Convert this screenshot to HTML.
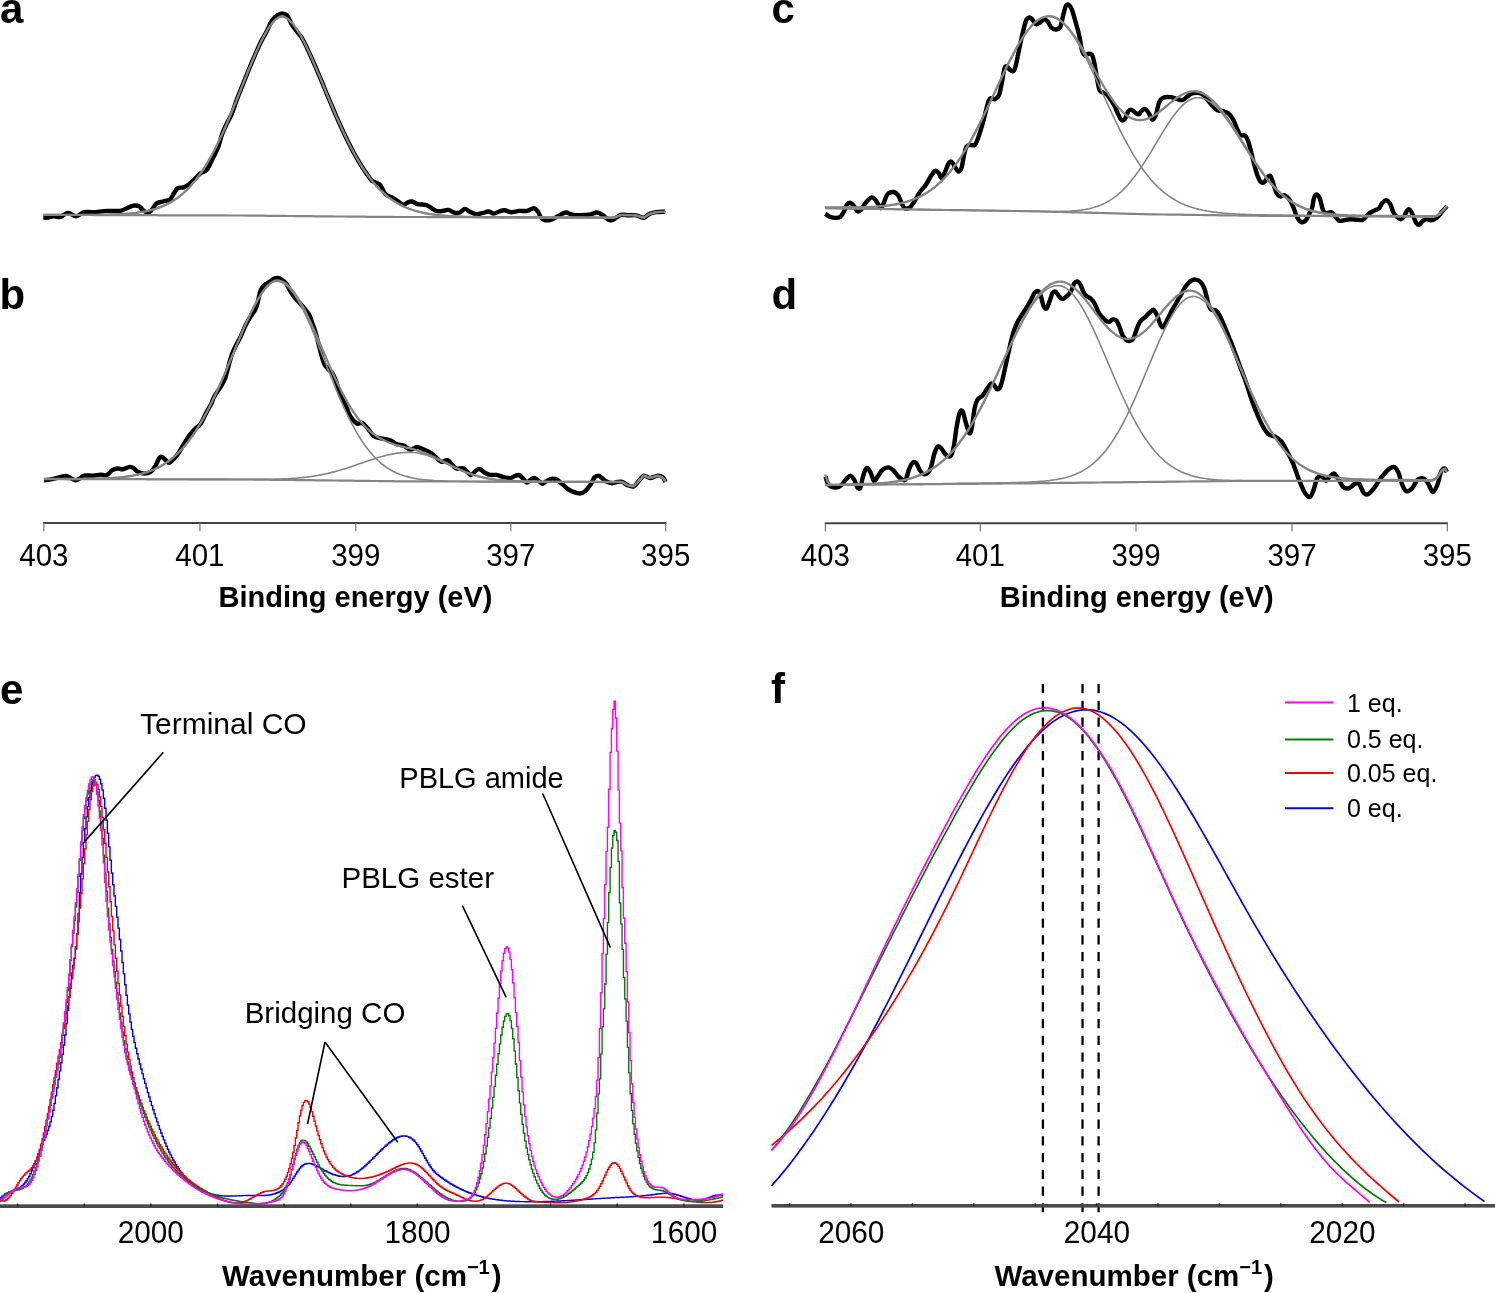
<!DOCTYPE html>
<html><head><meta charset="utf-8"><style>
html,body{margin:0;padding:0;background:#fff;overflow:hidden;}
svg{display:block;will-change:transform;}
text{font-family:"Liberation Sans",sans-serif;}
</style></head><body>
<svg width="1495" height="1293" viewBox="0 0 1495 1293"><path d="M43.3,217.6 C44.1,217.6 46.3,217.8 48.0,217.6 C49.7,217.4 51.4,216.4 53.4,216.3 C55.4,216.2 57.7,217.5 60.1,216.9 C62.5,216.3 65.4,213.0 68.1,212.9 C70.8,212.8 73.4,216.4 76.1,216.3 C78.8,216.2 81.2,212.9 84.1,212.2 C87.0,211.5 89.7,212.4 93.5,212.2 C97.3,212.0 102.4,211.1 106.9,210.9 C111.4,210.7 117.0,211.4 120.3,210.9 C123.6,210.4 124.8,209.1 127.0,208.2 C129.2,207.3 131.6,205.9 133.6,205.6 C135.6,205.3 137.4,205.4 139.0,206.2 C140.6,207.0 141.7,209.2 143.0,210.2 C144.3,211.2 145.7,212.1 147.0,212.2 C148.3,212.3 149.4,212.3 151.0,210.9 C152.6,209.5 154.4,205.1 156.4,203.5 C158.4,201.9 160.9,202.2 163.1,201.5 C165.3,200.8 168.0,200.8 169.8,199.5 C171.6,198.2 172.5,195.4 173.8,193.5 C175.1,191.6 176.2,189.2 177.8,188.2 C179.4,187.2 181.5,187.9 183.1,187.5 C184.7,187.1 185.4,186.7 187.2,185.5 C189.0,184.3 191.6,182.1 193.8,180.1 C196.0,178.1 198.3,175.2 200.5,173.4 C202.7,171.6 205.2,171.9 207.2,169.4 C209.2,166.9 210.8,162.3 212.6,158.7 C214.4,155.1 216.3,152.0 217.9,148.0 C219.5,144.0 220.5,138.6 222.0,134.5 C223.5,130.3 225.3,126.8 227.0,123.2 C228.7,119.7 230.3,117.4 232.0,113.4 C233.7,109.4 235.3,103.6 237.0,99.1 C238.7,94.6 240.3,90.7 242.0,86.6 C243.7,82.4 245.3,78.2 247.0,74.1 C248.7,70.0 250.3,65.9 252.0,61.9 C253.7,58.0 255.3,54.1 257.0,50.4 C258.7,46.7 260.3,43.1 262.0,39.9 C263.7,36.6 265.3,34.0 267.0,30.8 C268.7,27.5 270.3,23.0 272.0,20.5 C273.7,17.9 275.3,16.6 277.0,15.5 C278.7,14.3 280.3,13.4 282.0,13.4 C283.7,13.4 285.3,13.4 287.0,15.3 C288.7,17.3 290.3,22.2 292.0,24.9 C293.7,27.7 295.3,29.5 297.0,31.7 C298.7,33.9 300.3,35.4 302.0,38.1 C303.7,40.8 305.3,44.5 307.0,47.9 C308.7,51.4 310.3,55.0 312.0,58.8 C313.7,62.5 315.3,66.4 317.0,70.3 C318.7,74.2 320.3,78.2 322.0,82.2 C323.7,86.2 325.3,90.3 327.0,94.3 C328.7,98.3 330.3,102.3 332.0,106.2 C333.7,110.2 335.3,114.1 337.0,117.9 C338.7,121.7 340.3,125.4 342.0,129.0 C343.7,132.6 345.3,136.2 347.0,139.6 C348.7,143.0 350.3,146.2 352.0,149.4 C353.7,152.5 355.3,155.6 357.0,158.4 C358.7,161.3 360.3,164.1 362.0,166.7 C363.7,169.3 365.3,171.8 367.0,174.1 C368.7,176.5 369.8,178.9 372.0,180.7 C374.2,182.5 377.8,182.6 380.0,184.8 C382.2,187.0 383.4,192.0 385.4,194.1 C387.4,196.2 390.0,196.4 392.0,197.5 C394.0,198.6 395.5,199.6 397.4,200.8 C399.3,202.0 401.6,204.6 403.4,204.8 C405.2,205.0 406.7,202.8 408.1,202.2 C409.6,201.6 410.5,201.2 412.1,201.5 C413.7,201.8 415.3,203.6 417.5,204.2 C419.7,204.8 423.3,204.2 425.5,204.8 C427.7,205.4 429.0,206.5 430.8,207.5 C432.6,208.5 434.2,210.3 436.2,210.9 C438.2,211.5 440.9,211.1 442.9,210.9 C444.9,210.7 446.2,209.6 448.2,209.9 C450.2,210.2 452.9,212.5 454.9,212.9 C456.9,213.3 458.6,212.9 460.3,212.2 C462.0,211.5 463.4,209.0 465.0,208.9 C466.6,208.8 467.7,210.6 469.6,211.5 C471.5,212.4 474.1,214.0 476.3,214.2 C478.5,214.4 481.0,213.3 483.0,212.9 C485.0,212.5 486.6,211.4 488.4,211.5 C490.2,211.6 491.9,213.5 493.7,213.5 C495.5,213.5 497.3,212.1 499.1,211.5 C500.9,210.9 502.4,210.1 504.4,210.2 C506.4,210.3 508.7,212.1 511.1,212.2 C513.6,212.3 516.4,211.1 519.1,210.9 C521.8,210.7 524.8,211.4 527.2,210.9 C529.7,210.4 532.0,208.1 533.8,208.2 C535.6,208.3 536.8,210.1 537.9,211.5 C539.0,212.9 539.4,215.5 540.5,216.9 C541.6,218.3 542.7,219.8 544.5,220.2 C546.3,220.6 549.0,220.3 551.2,219.6 C553.4,218.9 555.5,217.4 557.9,216.2 C560.3,215.0 563.5,212.8 565.6,212.5 C567.7,212.2 568.7,213.6 570.4,214.1 C572.1,214.6 573.7,215.2 576.0,215.3 C578.3,215.4 581.7,215.0 584.1,214.9 C586.5,214.8 588.4,214.9 590.5,214.5 C592.6,214.1 594.9,212.4 596.9,212.5 C598.9,212.6 600.6,213.7 602.5,214.9 C604.4,216.1 606.6,218.8 608.2,219.7 C609.8,220.6 610.9,220.4 612.2,220.1 C613.5,219.8 614.7,218.6 616.2,217.7 C617.7,216.8 619.0,215.3 621.0,214.9 C623.0,214.5 625.7,215.2 628.2,215.3 C630.7,215.4 633.7,214.9 636.2,215.3 C638.8,215.7 641.2,218.0 643.5,217.7 C645.8,217.4 647.8,214.6 649.9,213.7 C652.0,212.8 653.8,212.4 656.3,212.1 C658.8,211.8 663.6,211.8 665.1,211.7" fill="none" stroke="#000" stroke-width="4.4" stroke-linejoin="round" stroke-linecap="butt"/>
<path d="M43.5,214.9 L47.5,214.9 L51.5,214.9 L55.5,214.9 L59.5,214.9 L63.5,215.0 L67.5,215.0 L71.5,215.0 L75.5,215.0 L79.5,215.0 L83.5,215.0 L87.5,215.0 L91.5,215.0 L95.5,215.1 L99.5,215.1 L103.5,215.1 L107.5,215.1 L111.5,215.1 L115.5,215.1 L119.5,215.1 L123.5,215.1 L127.5,215.2 L131.5,215.2 L135.5,215.2 L139.5,215.2 L143.5,215.2 L147.5,215.2 L151.5,215.2 L155.5,215.2 L159.5,215.3 L163.5,215.3 L167.5,215.3 L171.5,215.3 L175.5,215.3 L179.5,215.3 L183.5,215.3 L187.5,215.3 L191.5,215.4 L195.5,215.4 L199.5,215.4 L203.5,215.4 L207.5,215.4 L211.5,215.4 L215.5,215.4 L219.5,215.4 L223.5,215.4 L227.5,215.5 L231.5,215.5 L235.5,215.5 L239.5,215.5 L243.5,215.5 L247.5,215.6 L251.5,215.6 L255.5,215.7 L259.5,215.7 L263.5,215.7 L267.5,215.8 L271.5,215.8 L275.5,215.9 L279.5,215.9 L283.5,215.9 L287.5,216.0 L291.5,216.0 L295.5,216.1 L299.5,216.1 L303.5,216.1 L307.5,216.2 L311.5,216.2 L315.5,216.3 L319.5,216.3 L323.5,216.3 L327.5,216.4 L331.5,216.4 L335.5,216.5 L339.5,216.5 L343.5,216.5 L347.5,216.6 L351.5,216.6 L355.5,216.7 L359.5,216.7 L363.5,216.7 L367.5,216.8 L371.5,216.8 L375.5,216.9 L379.5,216.9 L383.5,216.9 L387.5,216.9 L391.5,216.9 L395.5,217.0 L399.5,217.0 L403.5,217.0 L407.5,217.0 L411.5,217.0 L415.5,217.0 L419.5,217.0 L423.5,217.0 L427.5,217.1 L431.5,217.1 L435.5,217.1 L439.5,217.1 L443.5,217.1 L447.5,217.1 L451.5,217.1 L455.5,217.2 L459.5,217.2 L463.5,217.2 L467.5,217.2 L471.5,217.2 L475.5,217.2 L479.5,217.2 L483.5,217.3 L487.5,217.3 L491.5,217.3 L495.5,217.3 L499.5,217.3 L503.5,217.3 L507.5,217.3 L511.5,217.3 L515.5,217.4 L519.5,217.4 L523.5,217.4 L527.5,217.4 L531.5,217.4 L535.5,217.4 L539.5,217.4 L543.5,217.5 L547.5,217.5 L551.5,217.5 L555.5,217.5 L559.5,217.5 L563.5,217.5 L567.5,217.5 L571.5,217.6 L575.5,217.6 L579.5,217.6 L583.5,217.6 L587.5,217.6 L591.5,217.6 L595.5,217.6 L599.5,217.7 L603.5,217.7 L607.5,217.7 L611.5,217.7 L615.5,217.1 L619.5,215.5 L623.5,215.0 L627.5,215.1 L631.5,215.2 L635.5,215.3 L639.5,216.4 L643.5,217.7 L647.5,215.2 L651.5,213.3 L655.5,212.3 L659.5,212.0 L663.5,211.8 L665.5,211.7" fill="none" stroke="#858585" stroke-width="2.2"/>
<path d="M43.5,214.9 L45.5,214.9 L47.5,214.9 L49.5,214.9 L51.5,214.9 L53.5,214.9 L55.5,214.9 L57.5,214.9 L59.5,214.9 L61.5,214.9 L63.5,214.9 L65.5,214.9 L67.5,214.9 L69.5,214.9 L71.5,214.9 L73.5,214.9 L75.5,214.9 L77.5,214.9 L79.5,214.9 L81.5,214.9 L83.5,214.9 L85.5,214.9 L87.5,214.9 L89.5,214.9 L91.5,214.9 L93.5,214.9 L95.5,214.9 L97.5,214.8 L99.5,214.8 L101.5,214.8 L103.5,214.7 L105.5,214.7 L107.5,214.6 L109.5,214.6 L111.5,214.5 L113.5,214.5 L115.5,214.4 L117.5,214.3 L119.5,214.2 L121.5,214.1 L123.5,214.0 L125.5,213.8 L127.5,213.7 L129.5,213.5 L131.5,213.3 L133.5,213.1 L135.5,212.9 L137.5,212.6 L139.5,212.3 L141.5,212.0 L143.5,211.7 L145.5,211.3 L147.5,210.9 L149.5,210.4 L151.5,209.9 L153.5,209.4 L155.5,208.8 L157.5,208.1 L159.5,207.4 L161.5,206.6 L163.5,205.8 L165.5,204.9 L167.5,203.9 L169.5,202.9 L171.5,201.8 L173.5,200.5 L175.5,199.2 L177.5,197.8 L179.5,196.3 L181.5,194.7 L183.5,193.0 L185.5,191.2 L187.5,189.2 L189.5,187.2 L191.5,185.0 L193.5,182.6 L195.5,180.2 L197.5,177.6 L199.5,174.9 L201.5,172.0 L203.5,169.0 L205.5,165.8 L207.5,162.6 L209.5,159.1 L211.5,155.5 L213.5,151.8 L215.5,147.9 L217.5,143.9 L219.5,139.8 L221.5,135.6 L223.5,131.2 L225.5,126.7 L227.5,122.1 L229.5,117.4 L231.5,112.6 L233.5,107.7 L235.5,102.8 L237.5,97.8 L239.5,92.8 L241.5,87.8 L243.5,82.8 L245.5,77.8 L247.5,72.8 L249.5,67.9 L251.5,63.1 L253.5,58.4 L255.5,53.8 L257.5,49.3 L259.5,45.0 L261.5,40.9 L263.5,37.0 L265.5,33.3 L267.5,29.9 L269.5,26.9 L271.5,24.1 L273.5,21.7 L275.5,19.7 L277.5,18.1 L279.5,17.0 L281.5,16.4 L283.5,16.6 L285.5,17.4 L287.5,18.7 L289.5,20.4 L291.5,22.4 L293.5,24.8 L295.5,27.5 L297.5,30.5 L299.5,33.7 L301.5,37.2 L303.5,40.9 L305.5,44.9 L307.5,49.0 L309.5,53.2 L311.5,57.6 L313.5,62.2 L315.5,66.8 L317.5,71.5 L319.5,76.2 L321.5,81.0 L323.5,85.8 L325.5,90.7 L327.5,95.5 L329.5,100.3 L331.5,105.0 L333.5,109.8 L335.5,114.4 L337.5,119.0 L339.5,123.5 L341.5,127.9 L343.5,132.2 L345.5,136.5 L347.5,140.6 L349.5,144.6 L351.5,148.4 L353.5,152.2 L355.5,155.8 L357.5,159.3 L359.5,162.7 L361.5,165.9 L363.5,169.0 L365.5,172.0 L367.5,174.8 L369.5,177.5 L371.5,180.1 L373.5,182.6 L375.5,184.9 L377.5,187.1 L379.5,189.2 L381.5,191.2 L383.5,193.0 L385.5,194.8 L387.5,196.4 L389.5,198.0 L391.5,199.4 L393.5,200.8 L395.5,202.1 L397.5,203.3 L399.5,204.4 L401.5,205.4 L403.5,206.4 L405.5,207.3 L407.5,208.1 L409.5,208.9 L411.5,209.6 L413.5,210.2 L415.5,210.9 L417.5,211.4 L419.5,211.9 L421.5,212.4 L423.5,212.8 L425.5,213.3 L427.5,213.6 L429.5,214.0 L431.5,214.3 L433.5,214.5 L435.5,214.8 L437.5,215.0 L439.5,215.3 L441.5,215.5 L443.5,215.6 L445.5,215.8 L447.5,215.9 L449.5,216.1 L451.5,216.2 L453.5,216.3 L455.5,216.4 L457.5,216.5 L459.5,216.6 L461.5,216.6 L463.5,216.7 L465.5,216.8 L467.5,216.8 L469.5,216.9 L471.5,216.9 L473.5,217.0 L475.5,217.0 L477.5,217.0 L479.5,217.1 L481.5,217.1 L483.5,217.1 L485.5,217.1 L487.5,217.2 L489.5,217.2 L491.5,217.2 L493.5,217.2 L495.5,217.2 L497.5,217.2 L499.5,217.3 L501.5,217.3 L503.5,217.3 L505.5,217.3 L507.5,217.3 L509.5,217.3 L511.5,217.3 L513.5,217.3 L515.5,217.3 L517.5,217.4 L519.5,217.4 L521.5,217.4 L523.5,217.4 L525.5,217.4 L527.5,217.4 L529.5,217.4 L531.5,217.4 L533.5,217.4 L535.5,217.4 L537.5,217.4 L539.5,217.4 L541.5,217.5 L543.5,217.5 L545.5,217.5 L547.5,217.5 L549.5,217.5 L551.5,217.5 L553.5,217.5 L555.5,217.5 L557.5,217.5 L559.5,217.5 L561.5,217.5 L563.5,217.5 L565.5,217.5 L567.5,217.5 L569.5,217.5 L571.5,217.6 L573.5,217.6 L575.5,217.6 L577.5,217.6 L579.5,217.6 L581.5,217.6 L583.5,217.6 L585.5,217.6 L587.5,217.6 L589.5,217.6 L591.5,217.6 L593.5,217.6 L595.5,217.6 L597.5,217.6 L599.5,217.7 L601.5,217.7 L603.5,217.7 L605.5,217.7 L607.5,217.7 L609.5,217.7 L611.5,217.7 L613.5,217.7 L615.5,217.1 L617.5,216.3 L619.5,215.5 L621.5,214.9 L623.5,215.0 L625.5,215.0 L627.5,215.1 L629.5,215.1 L631.5,215.2 L633.5,215.2 L635.5,215.3 L637.5,215.8 L639.5,216.4 L641.5,217.1 L643.5,217.7 L645.5,216.5 L647.5,215.2 L649.5,214.0 L651.5,213.3 L653.5,212.8 L655.5,212.3 L657.5,212.0 L659.5,212.0 L661.5,211.9 L663.5,211.8 L665.5,211.7" fill="none" stroke="#858585" stroke-width="1.6"/>
<path d="M43.5,214.9 C43.8,214.9 44.8,214.9 45.5,214.9 C46.2,214.9 46.8,214.9 47.5,214.9 C48.2,214.9 48.8,214.9 49.5,214.9 C50.2,214.9 50.8,214.9 51.5,214.9 C52.2,214.9 52.8,214.9 53.5,214.9 C54.2,214.9 54.8,214.9 55.5,214.9 C56.2,214.9 56.8,214.9 57.5,214.9 C58.2,214.9 58.8,214.9 59.5,214.9 C60.2,214.9 60.8,214.9 61.5,214.9 C62.2,214.9 62.8,214.9 63.5,214.9 C64.2,214.9 64.8,214.9 65.5,214.9 C66.2,214.9 66.8,214.9 67.5,214.9 C68.2,214.9 68.8,214.9 69.5,214.9 C70.2,214.9 70.8,214.9 71.5,214.9 C72.2,214.9 72.8,214.9 73.5,214.9 C74.2,214.9 74.8,214.9 75.5,214.9 C76.2,214.9 76.8,214.9 77.5,214.9 C78.2,214.9 78.8,214.9 79.5,214.9 C80.2,214.9 80.8,214.9 81.5,214.9 C82.2,214.9 82.8,214.9 83.5,214.9 C84.2,214.9 84.8,214.9 85.5,214.9 C86.2,214.9 86.8,214.9 87.5,214.9 C88.2,214.9 88.8,214.9 89.5,214.9 C90.2,214.9 90.8,214.9 91.5,214.9 C92.2,214.9 92.8,214.9 93.5,214.9 C94.2,214.9 94.8,214.9 95.5,214.9 C96.2,214.8 96.8,214.8 97.5,214.8 C98.2,214.8 98.8,214.8 99.5,214.8 C100.2,214.8 100.8,214.8 101.5,214.8 C102.2,214.8 102.8,214.7 103.5,214.7 C104.2,214.7 104.8,214.7 105.5,214.7 C106.2,214.7 106.8,214.7 107.5,214.6 C108.2,214.6 108.8,214.6 109.5,214.6 C110.2,214.6 110.8,214.6 111.5,214.5 C112.2,214.5 112.8,214.5 113.5,214.5 C114.2,214.4 114.8,214.4 115.5,214.4 C116.2,214.4 116.8,214.3 117.5,214.3 C118.2,214.3 118.8,214.2 119.5,214.2 C120.2,214.2 120.8,214.1 121.5,214.1 C122.2,214.0 122.8,214.0 123.5,214.0 C124.2,213.9 124.8,213.9 125.5,213.8 C126.2,213.8 126.8,213.7 127.5,213.7 C128.2,213.6 128.8,213.6 129.5,213.5 C130.2,213.4 130.8,213.4 131.5,213.3 C132.2,213.2 132.8,213.2 133.5,213.1 C134.2,213.0 134.8,212.9 135.5,212.9 C136.2,212.8 136.8,212.7 137.5,212.6 C138.2,212.5 138.8,212.4 139.5,212.3 C140.2,212.2 140.8,212.1 141.5,212.0 C142.2,211.9 142.8,211.8 143.5,211.7 C144.2,211.5 144.8,211.4 145.5,211.3 C146.2,211.1 146.8,211.0 147.5,210.9 C148.2,210.7 148.8,210.6 149.5,210.4 C150.2,210.2 150.8,210.1 151.5,209.9 C152.2,209.7 152.8,209.5 153.5,209.4 C154.2,209.2 154.8,209.0 155.5,208.8 C156.2,208.6 156.8,208.3 157.5,208.1 C158.2,207.9 158.8,207.7 159.5,207.4 C160.2,207.2 160.8,206.9 161.5,206.6 C162.2,206.4 162.8,206.1 163.5,205.8 C164.2,205.5 164.8,205.2 165.5,204.9 C166.2,204.6 166.8,204.3 167.5,203.9 C168.2,203.6 168.8,203.2 169.5,202.9 C170.2,202.5 170.8,202.1 171.5,201.8 C172.2,201.4 172.8,201.0 173.5,200.5 C174.2,200.1 174.8,199.7 175.5,199.2 C176.2,198.8 176.8,198.3 177.5,197.8 C178.2,197.3 178.8,196.8 179.5,196.3 C180.2,195.8 180.8,195.3 181.5,194.7 C182.2,194.2 182.8,193.6 183.5,193.0 C184.2,192.4 184.8,191.8 185.5,191.2 C186.2,190.5 186.8,189.9 187.5,189.2 C188.2,188.6 188.8,187.9 189.5,187.2 C190.2,186.4 190.8,185.7 191.5,185.0 C192.2,184.2 192.8,183.4 193.5,182.6 C194.2,181.8 194.8,181.0 195.5,180.2 C196.2,179.4 196.8,178.5 197.5,177.6 C198.2,176.7 198.8,175.8 199.5,174.9 C200.2,173.9 200.8,173.0 201.5,172.0 C202.2,171.0 202.8,170.0 203.5,169.0 C204.2,168.0 204.8,166.9 205.5,165.8 C206.2,164.8 206.8,163.7 207.5,162.6 C208.2,161.4 208.8,160.3 209.5,159.1 C210.2,157.9 210.8,156.8 211.5,155.5 C212.2,154.3 212.8,153.1 213.5,151.8 C214.2,150.5 214.8,149.3 215.5,147.9 C216.2,146.6 216.8,145.3 217.5,143.9 C218.2,142.6 218.8,141.2 219.5,139.8 C220.2,138.4 220.8,137.0 221.5,135.6 C222.2,134.1 222.8,132.7 223.5,131.2 C224.2,129.7 224.8,128.2 225.5,126.7 C226.2,125.2 226.8,123.6 227.5,122.1 C228.2,120.5 228.8,119.0 229.5,117.4 C230.2,115.8 230.8,114.2 231.5,112.6 C232.2,111.0 232.8,109.4 233.5,107.7 C234.2,106.1 234.8,104.5 235.5,102.8 C236.2,101.2 236.8,99.5 237.5,97.8 C238.2,96.2 238.8,94.5 239.5,92.8 C240.2,91.2 240.8,89.5 241.5,87.8 C242.2,86.2 242.8,84.5 243.5,82.8 C244.2,81.1 244.8,79.5 245.5,77.8 C246.2,76.1 246.8,74.5 247.5,72.8 C248.2,71.2 248.8,69.6 249.5,67.9 C250.2,66.3 250.8,64.7 251.5,63.1 C252.2,61.5 252.8,59.9 253.5,58.4 C254.2,56.8 254.8,55.3 255.5,53.8 C256.2,52.2 256.8,50.7 257.5,49.3 C258.2,47.8 258.8,46.4 259.5,45.0 C260.2,43.6 260.8,42.2 261.5,40.9 C262.2,39.5 262.8,38.2 263.5,37.0 C264.2,35.7 264.8,34.5 265.5,33.3 C266.2,32.1 266.8,31.0 267.5,29.9 C268.2,28.9 268.8,27.8 269.5,26.9 C270.2,25.9 270.8,25.0 271.5,24.1 C272.2,23.2 272.8,22.4 273.5,21.7 C274.2,21.0 274.8,20.3 275.5,19.7 C276.2,19.1 276.8,18.6 277.5,18.1 C278.2,17.7 278.8,17.3 279.5,17.0 C280.2,16.7 280.8,16.5 281.5,16.4 C282.2,16.4 282.8,16.5 283.5,16.6 C284.2,16.8 284.8,17.1 285.5,17.4 C286.2,17.8 286.8,18.2 287.5,18.7 C288.2,19.2 288.8,19.7 289.5,20.4 C290.2,21.0 290.8,21.7 291.5,22.4 C292.2,23.1 292.8,23.9 293.5,24.8 C294.2,25.6 294.8,26.5 295.5,27.5 C296.2,28.4 296.8,29.4 297.5,30.5 C298.2,31.5 298.8,32.6 299.5,33.7 C300.2,34.8 300.8,36.0 301.5,37.2 C302.2,38.4 302.8,39.7 303.5,40.9 C304.2,42.2 304.8,43.5 305.5,44.9 C306.2,46.2 306.8,47.6 307.5,49.0 C308.2,50.4 308.8,51.8 309.5,53.2 C310.2,54.7 310.8,56.2 311.5,57.6 C312.2,59.1 312.8,60.6 313.5,62.2 C314.2,63.7 314.8,65.2 315.5,66.8 C316.2,68.3 316.8,69.9 317.5,71.5 C318.2,73.0 318.8,74.6 319.5,76.2 C320.2,77.8 320.8,79.4 321.5,81.0 C322.2,82.6 322.8,84.2 323.5,85.8 C324.2,87.4 324.8,89.1 325.5,90.7 C326.2,92.3 326.8,93.9 327.5,95.5 C328.2,97.1 328.8,98.7 329.5,100.3 C330.2,101.9 330.8,103.5 331.5,105.0 C332.2,106.6 332.8,108.2 333.5,109.8 C334.2,111.3 334.8,112.9 335.5,114.4 C336.2,116.0 336.8,117.5 337.5,119.0 C338.2,120.5 338.8,122.0 339.5,123.5 C340.2,125.0 340.8,126.5 341.5,127.9 C342.2,129.4 342.8,130.8 343.5,132.2 C344.2,133.7 344.8,135.1 345.5,136.5 C346.2,137.9 346.8,139.2 347.5,140.6 C348.2,141.9 348.8,143.3 349.5,144.6 C350.2,145.9 350.8,147.2 351.5,148.4 C352.2,149.7 352.8,151.0 353.5,152.2 C354.2,153.4 354.8,154.6 355.5,155.8 C356.2,157.0 356.8,158.2 357.5,159.3 C358.2,160.4 358.8,161.6 359.5,162.7 C360.2,163.8 360.8,164.8 361.5,165.9 C362.2,167.0 362.8,168.0 363.5,169.0 C364.2,170.0 364.8,171.0 365.5,172.0 C366.2,172.9 366.8,173.9 367.5,174.8 C368.2,175.7 368.8,176.6 369.5,177.5 C370.2,178.4 370.8,179.3 371.5,180.1 C372.2,180.9 372.8,181.8 373.5,182.6 C374.2,183.4 374.8,184.1 375.5,184.9 C376.2,185.7 376.8,186.4 377.5,187.1 C378.2,187.8 378.8,188.5 379.5,189.2 C380.2,189.9 380.8,190.5 381.5,191.2 C382.2,191.8 382.8,192.4 383.5,193.0 C384.2,193.6 384.8,194.2 385.5,194.8 C386.2,195.4 386.8,195.9 387.5,196.4 C388.2,197.0 388.8,197.5 389.5,198.0 C390.2,198.5 390.8,199.0 391.5,199.4 C392.2,199.9 392.8,200.4 393.5,200.8 C394.2,201.2 394.8,201.7 395.5,202.1 C396.2,202.5 396.8,202.9 397.5,203.3 C398.2,203.7 398.8,204.0 399.5,204.4 C400.2,204.7 400.8,205.1 401.5,205.4 C402.2,205.7 402.8,206.1 403.5,206.4 C404.2,206.7 404.8,207.0 405.5,207.3 C406.2,207.6 406.8,207.8 407.5,208.1 C408.2,208.4 408.8,208.6 409.5,208.9 C410.2,209.1 410.8,209.4 411.5,209.6 C412.2,209.8 412.8,210.0 413.5,210.2 C414.2,210.5 414.8,210.7 415.5,210.9 C416.2,211.1 416.8,211.2 417.5,211.4 C418.2,211.6 418.8,211.8 419.5,211.9 C420.2,212.1 420.8,212.3 421.5,212.4 C422.2,212.6 422.8,212.7 423.5,212.8 C424.2,213.0 424.8,213.1 425.5,213.3 C426.2,213.4 426.8,213.5 427.5,213.6 C428.2,213.7 428.8,213.8 429.5,214.0 C430.2,214.1 430.8,214.2 431.5,214.3 C432.2,214.4 432.8,214.5 433.5,214.5 C434.2,214.6 434.8,214.7 435.5,214.8 C436.2,214.9 436.8,215.0 437.5,215.0 C438.2,215.1 438.8,215.2 439.5,215.3 C440.2,215.3 440.8,215.4 441.5,215.5 C442.2,215.5 442.8,215.6 443.5,215.6 C444.2,215.7 444.8,215.7 445.5,215.8 C446.2,215.8 446.8,215.9 447.5,215.9 C448.2,216.0 448.8,216.0 449.5,216.1 C450.2,216.1 450.8,216.2 451.5,216.2 C452.2,216.2 452.8,216.3 453.5,216.3 C454.2,216.3 454.8,216.4 455.5,216.4 C456.2,216.4 456.8,216.5 457.5,216.5 C458.2,216.5 458.8,216.5 459.5,216.6 C460.2,216.6 460.8,216.6 461.5,216.6 C462.2,216.7 462.8,216.7 463.5,216.7 C464.2,216.7 464.8,216.8 465.5,216.8 C466.2,216.8 466.8,216.8 467.5,216.8 C468.2,216.8 468.8,216.9 469.5,216.9 C470.2,216.9 470.8,216.9 471.5,216.9 C472.2,216.9 472.8,217.0 473.5,217.0 C474.2,217.0 474.8,217.0 475.5,217.0 C476.2,217.0 476.8,217.0 477.5,217.0 C478.2,217.0 478.8,217.1 479.5,217.1 C480.2,217.1 480.8,217.1 481.5,217.1 C482.2,217.1 482.8,217.1 483.5,217.1 C484.2,217.1 484.8,217.1 485.5,217.1 C486.2,217.1 486.8,217.2 487.5,217.2 C488.2,217.2 488.8,217.2 489.5,217.2 C490.2,217.2 490.8,217.2 491.5,217.2 C492.2,217.2 492.8,217.2 493.5,217.2 C494.2,217.2 494.8,217.2 495.5,217.2 C496.2,217.2 496.8,217.2 497.5,217.2 C498.2,217.3 498.8,217.3 499.5,217.3 C500.2,217.3 500.8,217.3 501.5,217.3 C502.2,217.3 502.8,217.3 503.5,217.3 C504.2,217.3 504.8,217.3 505.5,217.3 C506.2,217.3 506.8,217.3 507.5,217.3 C508.2,217.3 508.8,217.3 509.5,217.3 C510.2,217.3 510.8,217.3 511.5,217.3 C512.2,217.3 512.8,217.3 513.5,217.3 C514.2,217.3 514.8,217.3 515.5,217.3 C516.2,217.4 516.8,217.4 517.5,217.4 C518.2,217.4 518.8,217.4 519.5,217.4 C520.2,217.4 520.8,217.4 521.5,217.4 C522.2,217.4 522.8,217.4 523.5,217.4 C524.2,217.4 524.8,217.4 525.5,217.4 C526.2,217.4 526.8,217.4 527.5,217.4 C528.2,217.4 528.8,217.4 529.5,217.4 C530.2,217.4 530.8,217.4 531.5,217.4 C532.2,217.4 532.8,217.4 533.5,217.4 C534.2,217.4 534.8,217.4 535.5,217.4 C536.2,217.4 536.8,217.4 537.5,217.4 C538.2,217.4 538.8,217.4 539.5,217.4 C540.2,217.4 540.8,217.4 541.5,217.5 C542.2,217.5 542.8,217.5 543.5,217.5 C544.2,217.5 544.8,217.5 545.5,217.5 C546.2,217.5 546.8,217.5 547.5,217.5 C548.2,217.5 548.8,217.5 549.5,217.5 C550.2,217.5 550.8,217.5 551.5,217.5 C552.2,217.5 552.8,217.5 553.5,217.5 C554.2,217.5 554.8,217.5 555.5,217.5 C556.2,217.5 556.8,217.5 557.5,217.5 C558.2,217.5 558.8,217.5 559.5,217.5 C560.2,217.5 560.8,217.5 561.5,217.5 C562.2,217.5 562.8,217.5 563.5,217.5 C564.2,217.5 564.8,217.5 565.5,217.5 C566.2,217.5 566.8,217.5 567.5,217.5 C568.2,217.5 568.8,217.5 569.5,217.5 C570.2,217.5 570.8,217.6 571.5,217.6 C572.2,217.6 572.8,217.6 573.5,217.6 C574.2,217.6 574.8,217.6 575.5,217.6 C576.2,217.6 576.8,217.6 577.5,217.6 C578.2,217.6 578.8,217.6 579.5,217.6 C580.2,217.6 580.8,217.6 581.5,217.6 C582.2,217.6 582.8,217.6 583.5,217.6 C584.2,217.6 584.8,217.6 585.5,217.6 C586.2,217.6 586.8,217.6 587.5,217.6 C588.2,217.6 588.8,217.6 589.5,217.6 C590.2,217.6 590.8,217.6 591.5,217.6 C592.2,217.6 592.8,217.6 593.5,217.6 C594.2,217.6 594.8,217.6 595.5,217.6 C596.2,217.6 596.8,217.6 597.5,217.6 C598.2,217.6 598.8,217.6 599.5,217.7 C600.2,217.7 600.8,217.7 601.5,217.7 C602.2,217.7 602.8,217.7 603.5,217.7 C604.2,217.7 604.8,217.7 605.5,217.7 C606.2,217.7 606.8,217.7 607.5,217.7 C608.2,217.7 608.8,217.7 609.5,217.7 C610.2,217.7 610.8,217.7 611.5,217.7 C612.2,217.7 612.8,217.8 613.5,217.7 C614.2,217.6 614.8,217.3 615.5,217.1 C616.2,216.9 616.8,216.6 617.5,216.3 C618.2,216.0 618.8,215.7 619.5,215.5 C620.2,215.3 620.8,215.0 621.5,214.9 C622.2,214.8 622.8,214.9 623.5,215.0 C624.2,215.0 624.8,215.0 625.5,215.0 C626.2,215.0 626.8,215.1 627.5,215.1 C628.2,215.1 628.8,215.1 629.5,215.1 C630.2,215.1 630.8,215.2 631.5,215.2 C632.2,215.2 632.8,215.2 633.5,215.2 C634.2,215.3 634.8,215.2 635.5,215.3 C636.2,215.4 636.8,215.6 637.5,215.8 C638.2,216.0 638.8,216.2 639.5,216.4 C640.2,216.6 640.8,216.8 641.5,217.1 C642.2,217.3 642.8,217.8 643.5,217.7 C644.2,217.6 644.8,216.9 645.5,216.5 C646.2,216.1 646.8,215.6 647.5,215.2 C648.2,214.8 648.8,214.3 649.5,214.0 C650.2,213.7 650.8,213.5 651.5,213.3 C652.2,213.1 652.8,213.0 653.5,212.8 C654.2,212.6 654.8,212.4 655.5,212.3 C656.2,212.2 656.8,212.1 657.5,212.0 C658.2,212.0 658.8,212.0 659.5,212.0 C660.2,211.9 660.8,211.9 661.5,211.9 C662.2,211.8 662.8,211.8 663.5,211.8 C664.2,211.8 665.2,211.7 665.5,211.7" fill="none" stroke="#858585" stroke-width="2.3" stroke-linejoin="round"/>
<path d="M44.0,480.3 C45.6,480.1 49.8,479.6 53.4,478.9 C57.0,478.2 62.5,476.1 65.4,476.0 C68.3,475.9 69.1,477.6 70.8,478.3 C72.5,479.0 74.0,480.3 75.5,480.3 C77.0,480.3 78.7,479.1 80.1,478.3 C81.5,477.5 81.9,476.1 84.1,475.6 C86.3,475.2 90.8,475.8 93.5,475.6 C96.2,475.4 98.0,474.7 100.2,474.6 C102.4,474.5 104.9,475.6 106.9,474.9 C108.9,474.2 110.4,471.3 112.2,470.2 C114.0,469.1 115.8,468.6 117.6,468.5 C119.4,468.4 120.9,469.6 122.9,469.3 C124.9,469.0 127.8,467.1 129.6,466.9 C131.4,466.7 132.2,467.4 133.6,468.2 C134.9,469.0 135.9,470.7 137.7,471.6 C139.5,472.5 142.1,473.6 144.3,473.6 C146.5,473.6 149.1,472.9 151.0,471.6 C152.9,470.3 154.3,467.8 155.7,465.6 C157.0,463.4 158.1,459.6 159.1,458.2 C160.1,456.8 160.6,456.6 161.7,456.9 C162.8,457.2 164.6,459.2 165.8,460.2 C167.0,461.2 167.8,463.1 169.1,462.9 C170.4,462.7 172.1,460.7 173.8,458.9 C175.5,457.1 177.3,454.9 179.1,452.2 C180.9,449.5 182.7,445.7 184.5,442.8 C186.3,439.9 188.0,437.1 189.8,434.8 C191.6,432.5 193.4,430.6 195.2,428.8 C197.0,427.0 198.7,426.7 200.5,424.1 C202.3,421.5 204.1,416.8 205.9,413.4 C207.7,410.0 209.8,406.8 211.2,404.0 C212.6,401.2 212.4,399.9 214.1,396.8 C215.8,393.8 219.5,388.8 221.3,385.8 C223.1,382.7 223.9,381.2 224.9,378.7 C225.9,376.2 226.5,373.7 227.3,370.8 C228.1,368.0 228.9,364.5 229.7,361.7 C230.5,358.8 231.1,356.4 232.1,353.8 C233.1,351.2 234.3,348.7 235.7,345.9 C237.1,343.0 239.0,340.0 240.6,336.7 C242.2,333.3 243.8,329.0 245.4,325.8 C247.0,322.5 248.6,319.7 250.2,317.1 C251.8,314.5 253.8,312.3 255.0,310.1 C256.2,307.8 256.7,305.9 257.4,303.5 C258.1,301.1 258.6,297.8 259.2,295.5 C259.8,293.2 260.1,291.3 261.0,289.6 C261.9,287.8 263.2,286.2 264.6,284.9 C266.0,283.7 267.9,283.0 269.5,281.9 C271.1,280.8 272.7,279.2 274.3,278.6 C275.9,277.9 277.9,277.9 279.1,278.1 C280.3,278.3 280.3,278.8 281.5,279.7 C282.7,280.6 284.9,281.8 286.3,283.6 C287.7,285.4 288.7,288.3 289.9,290.4 C291.1,292.5 292.1,294.4 293.5,296.3 C294.9,298.2 296.6,299.5 298.4,301.5 C300.2,303.5 302.6,306.2 304.4,308.4 C306.2,310.6 308.0,312.6 309.2,314.7 C310.4,316.9 310.6,318.3 311.6,321.1 C312.6,323.9 314.2,328.1 315.2,331.3 C316.2,334.5 316.8,337.4 317.6,340.4 C318.4,343.4 319.2,346.5 320.0,349.6 C320.8,352.6 321.6,356.1 322.4,358.7 C323.2,361.3 323.8,363.3 324.8,365.1 C325.8,367.0 327.3,368.4 328.5,369.6 C329.7,370.9 330.9,370.9 332.1,372.6 C333.3,374.4 334.7,377.6 335.7,380.2 C336.7,382.7 337.1,384.8 338.1,387.7 C339.1,390.6 340.4,394.6 341.7,397.6 C343.0,400.6 344.6,402.8 346.0,405.9 C347.4,409.0 348.4,413.3 350.2,416.2 C352.0,419.1 354.9,422.4 356.9,423.5 C358.9,424.6 360.4,422.1 362.2,422.9 C364.0,423.7 365.6,426.0 367.6,428.2 C369.6,430.4 371.6,434.5 374.3,436.3 C377.0,438.1 380.9,438.2 383.6,438.9 C386.3,439.6 388.1,439.4 390.3,440.3 C392.5,441.2 394.8,443.4 397.0,444.3 C399.2,445.2 401.5,444.7 403.7,445.6 C405.9,446.5 408.2,449.4 410.4,449.6 C412.6,449.8 414.9,447.0 417.1,447.0 C419.3,447.0 421.4,448.5 423.8,449.6 C426.2,450.7 428.9,451.6 431.8,453.6 C434.7,455.6 438.5,460.6 441.2,461.7 C443.9,462.8 445.4,459.2 447.9,460.3 C450.3,461.4 453.2,467.0 455.9,468.4 C458.6,469.8 461.4,467.3 463.9,468.4 C466.3,469.5 468.6,474.6 470.6,475.0 C472.6,475.4 474.4,471.5 476.0,470.5 C477.6,469.5 478.5,468.8 480.0,469.2 C481.5,469.6 483.4,472.1 485.1,473.0 C486.8,473.9 488.3,474.6 490.2,474.9 C492.1,475.2 494.4,474.6 496.5,474.9 C498.6,475.2 500.6,476.4 502.9,476.9 C505.2,477.4 508.6,478.2 510.5,478.1 C512.4,478.0 512.9,476.7 514.3,476.2 C515.7,475.7 517.4,474.7 518.8,475.0 C520.2,475.3 521.2,476.8 522.6,478.1 C524.0,479.4 525.6,482.4 527.0,482.6 C528.4,482.8 529.5,480.1 530.8,479.4 C532.1,478.6 533.4,477.9 534.7,478.1 C536.0,478.3 537.2,479.8 538.5,480.7 C539.8,481.6 541.0,483.7 542.3,483.8 C543.6,483.9 544.6,482.1 546.1,481.3 C547.6,480.5 549.5,479.1 551.2,478.8 C552.9,478.5 554.6,478.7 556.3,479.4 C558.0,480.1 559.4,481.6 561.3,483.2 C563.2,484.8 565.6,487.4 567.7,488.9 C569.8,490.4 572.0,491.4 574.1,492.1 C576.2,492.9 578.5,493.6 580.4,493.4 C582.3,493.2 583.8,492.3 585.5,490.8 C587.2,489.3 589.1,486.7 590.6,484.5 C592.1,482.3 593.1,479.0 594.4,477.5 C595.7,476.0 596.9,475.5 598.2,475.6 C599.5,475.7 600.7,477.2 602.0,478.1 C603.3,479.1 604.1,480.5 605.8,481.3 C607.5,482.1 610.3,483.1 612.2,483.2 C614.1,483.3 615.6,482.1 617.3,481.9 C619.0,481.7 620.6,481.4 622.3,481.9 C624.0,482.4 625.5,484.4 627.4,485.1 C629.3,485.9 631.9,487.1 633.8,486.4 C635.7,485.7 637.2,482.5 638.9,480.7 C640.6,478.9 642.1,476.0 644.0,475.6 C645.9,475.2 648.0,478.1 650.3,478.1 C652.6,478.1 655.8,475.7 657.9,475.6 C660.0,475.5 661.7,476.4 663.0,477.5 C664.3,478.6 665.2,481.2 665.6,481.9" fill="none" stroke="#000" stroke-width="4.4" stroke-linejoin="round" stroke-linecap="butt"/>
<path d="M44.0,479.0 L48.0,479.0 L52.0,479.0 L56.0,479.0 L60.0,479.0 L64.0,479.0 L68.0,479.1 L72.0,479.1 L76.0,479.1 L80.0,479.1 L84.0,479.1 L88.0,479.1 L92.0,479.1 L96.0,479.1 L100.0,479.1 L104.0,479.1 L108.0,479.2 L112.0,479.2 L116.0,479.2 L120.0,479.2 L124.0,479.2 L128.0,479.2 L132.0,479.2 L136.0,479.2 L140.0,479.2 L144.0,479.2 L148.0,479.3 L152.0,479.3 L156.0,479.3 L160.0,479.3 L164.0,479.3 L168.0,479.3 L172.0,479.3 L176.0,479.3 L180.0,479.3 L184.0,479.3 L188.0,479.3 L192.0,479.4 L196.0,479.4 L200.0,479.4 L204.0,479.4 L208.0,479.4 L212.0,479.4 L216.0,479.4 L220.0,479.4 L224.0,479.4 L228.0,479.4 L232.0,479.5 L236.0,479.5 L240.0,479.5 L244.0,479.5 L248.0,479.5 L252.0,479.5 L256.0,479.6 L260.0,479.6 L264.0,479.7 L268.0,479.7 L272.0,479.8 L276.0,479.8 L280.0,479.9 L284.0,479.9 L288.0,480.0 L292.0,480.0 L296.0,480.1 L300.0,480.1 L304.0,480.1 L308.0,480.2 L312.0,480.2 L316.0,480.3 L320.0,480.3 L324.0,480.4 L328.0,480.4 L332.0,480.5 L336.0,480.5 L340.0,480.6 L344.0,480.6 L348.0,480.7 L352.0,480.7 L356.0,480.8 L360.0,480.8 L364.0,480.9 L368.0,480.9 L372.0,481.0 L376.0,481.0 L380.0,481.1 L384.0,481.1 L388.0,481.2 L392.0,481.2 L396.0,481.3 L400.0,481.3 L404.0,481.3 L408.0,481.3 L412.0,481.3 L416.0,481.4 L420.0,481.4 L424.0,481.4 L428.0,481.4 L432.0,481.4 L436.0,481.4 L440.0,481.4 L444.0,481.4 L448.0,481.5 L452.0,481.5 L456.0,481.5 L460.0,481.5 L464.0,481.5 L468.0,481.5 L472.0,481.5 L476.0,481.6 L480.0,481.6 L484.0,481.6 L488.0,481.6 L492.0,481.6 L496.0,481.6 L500.0,481.6 L504.0,481.6 L508.0,481.7 L512.0,481.7 L516.0,481.7 L520.0,481.7 L524.0,481.7 L528.0,481.7 L532.0,481.7 L536.0,481.7 L540.0,481.8 L544.0,481.8 L548.0,481.8 L552.0,481.8 L556.0,481.8 L560.0,481.8 L564.0,481.8 L568.0,481.9 L572.0,481.9 L576.0,481.9 L580.0,481.9 L584.0,481.9 L588.0,481.9 L592.0,481.9 L596.0,481.9 L600.0,482.0 L604.0,482.0 L608.0,482.0 L612.0,482.0 L616.0,481.9 L620.0,481.9 L624.0,483.0 L628.0,485.2 L632.0,486.0 L636.0,483.9 L640.0,479.6 L644.0,475.6 L648.0,477.2 L652.0,477.5 L656.0,476.2 L660.0,476.4 L664.0,479.2 L665.6,481.9" fill="none" stroke="#858585" stroke-width="2.2"/>
<path d="M44.0,479.0 L46.0,479.0 L48.0,479.0 L50.0,479.0 L52.0,479.0 L54.0,479.0 L56.0,479.0 L58.0,479.0 L60.0,479.0 L62.0,479.0 L64.0,479.0 L66.0,479.0 L68.0,479.0 L70.0,479.0 L72.0,479.0 L74.0,479.0 L76.0,479.0 L78.0,478.9 L80.0,478.9 L82.0,478.9 L84.0,478.9 L86.0,478.9 L88.0,478.8 L90.0,478.8 L92.0,478.8 L94.0,478.7 L96.0,478.7 L98.0,478.6 L100.0,478.6 L102.0,478.5 L104.0,478.4 L106.0,478.3 L108.0,478.2 L110.0,478.1 L112.0,478.0 L114.0,477.9 L116.0,477.7 L118.0,477.6 L120.0,477.4 L122.0,477.2 L124.0,476.9 L126.0,476.7 L128.0,476.4 L130.0,476.1 L132.0,475.8 L134.0,475.4 L136.0,475.0 L138.0,474.6 L140.0,474.1 L142.0,473.6 L144.0,473.1 L146.0,472.5 L148.0,471.8 L150.0,471.1 L152.0,470.3 L154.0,469.5 L156.0,468.6 L158.0,467.6 L160.0,466.6 L162.0,465.4 L164.0,464.2 L166.0,462.9 L168.0,461.5 L170.0,460.1 L172.0,458.5 L174.0,456.8 L176.0,455.0 L178.0,453.1 L180.0,451.1 L182.0,449.0 L184.0,446.7 L186.0,444.4 L188.0,441.9 L190.0,439.2 L192.0,436.5 L194.0,433.6 L196.0,430.6 L198.0,427.4 L200.0,424.1 L202.0,420.7 L204.0,417.2 L206.0,413.5 L208.0,409.7 L210.0,405.8 L212.0,401.7 L214.0,397.6 L216.0,393.3 L218.0,389.0 L220.0,384.5 L222.0,380.0 L224.0,375.4 L226.0,370.7 L228.0,366.0 L230.0,361.2 L232.0,356.4 L234.0,351.6 L236.0,346.8 L238.0,342.0 L240.0,337.3 L242.0,332.6 L244.0,328.0 L246.0,323.5 L248.0,319.1 L250.0,314.8 L252.0,310.7 L254.0,306.7 L256.0,303.0 L258.0,299.5 L260.0,296.2 L262.0,293.1 L264.0,290.4 L266.0,287.9 L268.0,285.8 L270.0,284.0 L272.0,282.6 L274.0,281.7 L276.0,281.2 L278.0,281.2 L280.0,281.6 L282.0,282.4 L284.0,283.5 L286.0,285.0 L288.0,286.8 L290.0,288.9 L292.0,291.3 L294.0,294.0 L296.0,297.1 L298.0,300.3 L300.0,303.9 L302.0,307.6 L304.0,311.6 L306.0,315.8 L308.0,320.2 L310.0,324.7 L312.0,329.4 L314.0,334.2 L316.0,339.1 L318.0,344.0 L320.0,349.1 L322.0,354.1 L324.0,359.2 L326.0,364.3 L328.0,369.4 L330.0,374.4 L332.0,379.4 L334.0,384.3 L336.0,389.2 L338.0,394.0 L340.0,398.6 L342.0,403.2 L344.0,407.6 L346.0,411.9 L348.0,416.1 L350.0,420.1 L352.0,424.0 L354.0,427.7 L356.0,431.3 L358.0,434.7 L360.0,438.0 L362.0,441.1 L364.0,444.0 L366.0,446.8 L368.0,449.4 L370.0,451.9 L372.0,454.3 L374.0,456.5 L376.0,458.5 L378.0,460.5 L380.0,462.3 L382.0,464.0 L384.0,465.5 L386.0,467.0 L388.0,468.3 L390.0,469.5 L392.0,470.7 L394.0,471.7 L396.0,472.7 L398.0,473.6 L400.0,474.4 L402.0,475.1 L404.0,475.8 L406.0,476.4 L408.0,476.9 L410.0,477.4 L412.0,477.9 L414.0,478.3 L416.0,478.6 L418.0,479.0 L420.0,479.2 L422.0,479.5 L424.0,479.7 L426.0,479.9 L428.0,480.1 L430.0,480.3 L432.0,480.4 L434.0,480.6 L436.0,480.7 L438.0,480.8 L440.0,480.9 L442.0,481.0 L444.0,481.0 L446.0,481.1 L448.0,481.2 L450.0,481.2 L452.0,481.2 L454.0,481.3 L456.0,481.3 L458.0,481.4 L460.0,481.4 L462.0,481.4 L464.0,481.4 L466.0,481.4 L468.0,481.5 L470.0,481.5 L472.0,481.5 L474.0,481.5 L476.0,481.5 L478.0,481.5 L480.0,481.5 L482.0,481.6 L484.0,481.6 L486.0,481.6 L488.0,481.6 L490.0,481.6 L492.0,481.6 L494.0,481.6 L496.0,481.6 L498.0,481.6 L500.0,481.6 L502.0,481.6 L504.0,481.6 L506.0,481.6 L508.0,481.7 L510.0,481.7 L512.0,481.7 L514.0,481.7 L516.0,481.7 L518.0,481.7 L520.0,481.7 L522.0,481.7 L524.0,481.7 L526.0,481.7 L528.0,481.7 L530.0,481.7 L532.0,481.7 L534.0,481.7 L536.0,481.7 L538.0,481.8 L540.0,481.8 L542.0,481.8 L544.0,481.8 L546.0,481.8 L548.0,481.8 L550.0,481.8 L552.0,481.8 L554.0,481.8 L556.0,481.8 L558.0,481.8 L560.0,481.8 L562.0,481.8 L564.0,481.8 L566.0,481.8 L568.0,481.9 L570.0,481.9 L572.0,481.9 L574.0,481.9 L576.0,481.9 L578.0,481.9 L580.0,481.9 L582.0,481.9 L584.0,481.9 L586.0,481.9 L588.0,481.9 L590.0,481.9 L592.0,481.9 L594.0,481.9 L596.0,481.9 L598.0,482.0 L600.0,482.0 L602.0,482.0 L604.0,482.0 L606.0,482.0 L608.0,482.0 L610.0,482.0 L612.0,482.0 L614.0,482.0 L616.0,481.9 L618.0,481.9 L620.0,481.9 L622.0,481.9 L624.0,483.0 L626.0,484.2 L628.0,485.2 L630.0,485.6 L632.0,486.0 L634.0,486.2 L636.0,483.9 L638.0,481.7 L640.0,479.6 L642.0,477.6 L644.0,475.6 L646.0,476.4 L648.0,477.2 L650.0,478.0 L652.0,477.5 L654.0,476.9 L656.0,476.2 L658.0,475.6 L660.0,476.4 L662.0,477.1 L664.0,479.2 L665.6,481.9" fill="none" stroke="#858585" stroke-width="1.6"/>
<path d="M44.0,479.0 L46.0,479.0 L48.0,479.0 L50.0,479.0 L52.0,479.0 L54.0,479.0 L56.0,479.0 L58.0,479.0 L60.0,479.0 L62.0,479.0 L64.0,479.0 L66.0,479.1 L68.0,479.1 L70.0,479.1 L72.0,479.1 L74.0,479.1 L76.0,479.1 L78.0,479.1 L80.0,479.1 L82.0,479.1 L84.0,479.1 L86.0,479.1 L88.0,479.1 L90.0,479.1 L92.0,479.1 L94.0,479.1 L96.0,479.1 L98.0,479.1 L100.0,479.1 L102.0,479.1 L104.0,479.1 L106.0,479.2 L108.0,479.2 L110.0,479.2 L112.0,479.2 L114.0,479.2 L116.0,479.2 L118.0,479.2 L120.0,479.2 L122.0,479.2 L124.0,479.2 L126.0,479.2 L128.0,479.2 L130.0,479.2 L132.0,479.2 L134.0,479.2 L136.0,479.2 L138.0,479.2 L140.0,479.2 L142.0,479.2 L144.0,479.2 L146.0,479.2 L148.0,479.3 L150.0,479.3 L152.0,479.3 L154.0,479.3 L156.0,479.3 L158.0,479.3 L160.0,479.3 L162.0,479.3 L164.0,479.3 L166.0,479.3 L168.0,479.3 L170.0,479.3 L172.0,479.3 L174.0,479.3 L176.0,479.3 L178.0,479.3 L180.0,479.3 L182.0,479.3 L184.0,479.3 L186.0,479.3 L188.0,479.3 L190.0,479.4 L192.0,479.4 L194.0,479.4 L196.0,479.4 L198.0,479.4 L200.0,479.4 L202.0,479.4 L204.0,479.4 L206.0,479.4 L208.0,479.4 L210.0,479.4 L212.0,479.4 L214.0,479.4 L216.0,479.4 L218.0,479.4 L220.0,479.4 L222.0,479.4 L224.0,479.4 L226.0,479.4 L228.0,479.4 L230.0,479.4 L232.0,479.4 L234.0,479.4 L236.0,479.4 L238.0,479.4 L240.0,479.4 L242.0,479.4 L244.0,479.4 L246.0,479.4 L248.0,479.4 L250.0,479.4 L252.0,479.4 L254.0,479.4 L256.0,479.4 L258.0,479.4 L260.0,479.4 L262.0,479.4 L264.0,479.3 L266.0,479.3 L268.0,479.3 L270.0,479.3 L272.0,479.2 L274.0,479.2 L276.0,479.1 L278.0,479.1 L280.0,479.0 L282.0,478.9 L284.0,478.9 L286.0,478.8 L288.0,478.7 L290.0,478.6 L292.0,478.4 L294.0,478.3 L296.0,478.2 L298.0,478.0 L300.0,477.8 L302.0,477.6 L304.0,477.4 L306.0,477.2 L308.0,476.9 L310.0,476.7 L312.0,476.4 L314.0,476.1 L316.0,475.7 L318.0,475.4 L320.0,475.0 L322.0,474.6 L324.0,474.2 L326.0,473.8 L328.0,473.4 L330.0,472.9 L332.0,472.4 L334.0,471.9 L336.0,471.3 L338.0,470.8 L340.0,470.2 L342.0,469.6 L344.0,469.0 L346.0,468.4 L348.0,467.7 L350.0,467.1 L352.0,466.4 L354.0,465.7 L356.0,465.0 L358.0,464.3 L360.0,463.6 L362.0,463.0 L364.0,462.3 L366.0,461.6 L368.0,460.9 L370.0,460.2 L372.0,459.5 L374.0,458.9 L376.0,458.3 L378.0,457.6 L380.0,457.0 L382.0,456.5 L384.0,455.9 L386.0,455.4 L388.0,455.0 L390.0,454.5 L392.0,454.1 L394.0,453.7 L396.0,453.4 L398.0,453.1 L400.0,452.9 L402.0,452.7 L404.0,452.5 L406.0,452.4 L408.0,452.4 L410.0,452.3 L412.0,452.4 L414.0,452.5 L416.0,452.7 L418.0,453.0 L420.0,453.4 L422.0,453.9 L424.0,454.4 L426.0,455.0 L428.0,455.6 L430.0,456.4 L432.0,457.1 L434.0,457.9 L436.0,458.8 L438.0,459.7 L440.0,460.6 L442.0,461.5 L444.0,462.5 L446.0,463.4 L448.0,464.4 L450.0,465.3 L452.0,466.3 L454.0,467.2 L456.0,468.1 L458.0,469.0 L460.0,469.9 L462.0,470.7 L464.0,471.5 L466.0,472.3 L468.0,473.1 L470.0,473.8 L472.0,474.4 L474.0,475.1 L476.0,475.7 L478.0,476.2 L480.0,476.7 L482.0,477.2 L484.0,477.7 L486.0,478.1 L488.0,478.5 L490.0,478.8 L492.0,479.1 L494.0,479.4 L496.0,479.7 L498.0,479.9 L500.0,480.1 L502.0,480.3 L504.0,480.5 L506.0,480.7 L508.0,480.8 L510.0,480.9 L512.0,481.0 L514.0,481.1 L516.0,481.2 L518.0,481.3 L520.0,481.4 L522.0,481.4 L524.0,481.5 L526.0,481.5 L528.0,481.5 L530.0,481.6 L532.0,481.6 L534.0,481.6 L536.0,481.7 L538.0,481.7 L540.0,481.7 L542.0,481.7 L544.0,481.7 L546.0,481.7 L548.0,481.8 L550.0,481.8 L552.0,481.8 L554.0,481.8 L556.0,481.8 L558.0,481.8 L560.0,481.8 L562.0,481.8 L564.0,481.8 L566.0,481.8 L568.0,481.9 L570.0,481.9 L572.0,481.9 L574.0,481.9 L576.0,481.9 L578.0,481.9 L580.0,481.9 L582.0,481.9 L584.0,481.9 L586.0,481.9 L588.0,481.9 L590.0,481.9 L592.0,481.9 L594.0,481.9 L596.0,481.9 L598.0,482.0 L600.0,482.0 L602.0,482.0 L604.0,482.0 L606.0,482.0 L608.0,482.0 L610.0,482.0 L612.0,482.0 L614.0,482.0 L616.0,481.9 L618.0,481.9 L620.0,481.9 L622.0,481.9 L624.0,483.0 L626.0,484.2 L628.0,485.2 L630.0,485.6 L632.0,486.0 L634.0,486.2 L636.0,483.9 L638.0,481.7 L640.0,479.6 L642.0,477.6 L644.0,475.6 L646.0,476.4 L648.0,477.2 L650.0,478.0 L652.0,477.5 L654.0,476.9 L656.0,476.2 L658.0,475.6 L660.0,476.4 L662.0,477.1 L664.0,479.2 L665.6,481.9" fill="none" stroke="#858585" stroke-width="1.6"/>
<path d="M44.0,479.0 C44.3,479.0 45.3,479.0 46.0,479.0 C46.7,479.0 47.3,479.0 48.0,479.0 C48.7,479.0 49.3,479.0 50.0,479.0 C50.7,479.0 51.3,479.0 52.0,479.0 C52.7,479.0 53.3,479.0 54.0,479.0 C54.7,479.0 55.3,479.0 56.0,479.0 C56.7,479.0 57.3,479.0 58.0,479.0 C58.7,479.0 59.3,479.0 60.0,479.0 C60.7,479.0 61.3,479.0 62.0,479.0 C62.7,479.0 63.3,479.0 64.0,479.0 C64.7,479.0 65.3,479.0 66.0,479.0 C66.7,479.0 67.3,479.0 68.0,479.0 C68.7,479.0 69.3,479.0 70.0,479.0 C70.7,479.0 71.3,479.0 72.0,479.0 C72.7,479.0 73.3,479.0 74.0,479.0 C74.7,479.0 75.3,479.0 76.0,479.0 C76.7,478.9 77.3,478.9 78.0,478.9 C78.7,478.9 79.3,478.9 80.0,478.9 C80.7,478.9 81.3,478.9 82.0,478.9 C82.7,478.9 83.3,478.9 84.0,478.9 C84.7,478.9 85.3,478.9 86.0,478.9 C86.7,478.9 87.3,478.8 88.0,478.8 C88.7,478.8 89.3,478.8 90.0,478.8 C90.7,478.8 91.3,478.8 92.0,478.8 C92.7,478.8 93.3,478.7 94.0,478.7 C94.7,478.7 95.3,478.7 96.0,478.7 C96.7,478.7 97.3,478.6 98.0,478.6 C98.7,478.6 99.3,478.6 100.0,478.6 C100.7,478.5 101.3,478.5 102.0,478.5 C102.7,478.5 103.3,478.4 104.0,478.4 C104.7,478.4 105.3,478.4 106.0,478.3 C106.7,478.3 107.3,478.3 108.0,478.2 C108.7,478.2 109.3,478.2 110.0,478.1 C110.7,478.1 111.3,478.0 112.0,478.0 C112.7,478.0 113.3,477.9 114.0,477.9 C114.7,477.8 115.3,477.8 116.0,477.7 C116.7,477.7 117.3,477.6 118.0,477.6 C118.7,477.5 119.3,477.4 120.0,477.4 C120.7,477.3 121.3,477.2 122.0,477.2 C122.7,477.1 123.3,477.0 124.0,476.9 C124.7,476.9 125.3,476.8 126.0,476.7 C126.7,476.6 127.3,476.5 128.0,476.4 C128.7,476.3 129.3,476.2 130.0,476.1 C130.7,476.0 131.3,475.9 132.0,475.8 C132.7,475.7 133.3,475.6 134.0,475.4 C134.7,475.3 135.3,475.2 136.0,475.0 C136.7,474.9 137.3,474.8 138.0,474.6 C138.7,474.5 139.3,474.3 140.0,474.1 C140.7,474.0 141.3,473.8 142.0,473.6 C142.7,473.5 143.3,473.3 144.0,473.1 C144.7,472.9 145.3,472.7 146.0,472.5 C146.7,472.3 147.3,472.0 148.0,471.8 C148.7,471.6 149.3,471.3 150.0,471.1 C150.7,470.8 151.3,470.6 152.0,470.3 C152.7,470.0 153.3,469.8 154.0,469.5 C154.7,469.2 155.3,468.9 156.0,468.6 C156.7,468.3 157.3,467.9 158.0,467.6 C158.7,467.3 159.3,466.9 160.0,466.6 C160.7,466.2 161.3,465.8 162.0,465.4 C162.7,465.0 163.3,464.6 164.0,464.2 C164.7,463.8 165.3,463.4 166.0,462.9 C166.7,462.5 167.3,462.0 168.0,461.5 C168.7,461.1 169.3,460.6 170.0,460.1 C170.7,459.6 171.3,459.0 172.0,458.5 C172.7,457.9 173.3,457.4 174.0,456.8 C174.7,456.2 175.3,455.6 176.0,455.0 C176.7,454.4 177.3,453.8 178.0,453.1 C178.7,452.5 179.3,451.8 180.0,451.1 C180.7,450.4 181.3,449.7 182.0,449.0 C182.7,448.3 183.3,447.5 184.0,446.7 C184.7,446.0 185.3,445.2 186.0,444.4 C186.7,443.6 187.3,442.7 188.0,441.9 C188.7,441.0 189.3,440.1 190.0,439.2 C190.7,438.3 191.3,437.4 192.0,436.5 C192.7,435.5 193.3,434.6 194.0,433.6 C194.7,432.6 195.3,431.6 196.0,430.6 C196.7,429.6 197.3,428.5 198.0,427.4 C198.7,426.4 199.3,425.3 200.0,424.1 C200.7,423.0 201.3,421.9 202.0,420.7 C202.7,419.6 203.3,418.4 204.0,417.2 C204.7,416.0 205.3,414.7 206.0,413.5 C206.7,412.3 207.3,411.0 208.0,409.7 C208.7,408.4 209.3,407.1 210.0,405.8 C210.7,404.4 211.3,403.1 212.0,401.7 C212.7,400.4 213.3,399.0 214.0,397.6 C214.7,396.2 215.3,394.7 216.0,393.3 C216.7,391.9 217.3,390.4 218.0,388.9 C218.7,387.5 219.3,386.0 220.0,384.5 C220.7,383.0 221.3,381.5 222.0,380.0 C222.7,378.4 223.3,376.9 224.0,375.3 C224.7,373.8 225.3,372.2 226.0,370.7 C226.7,369.1 227.3,367.5 228.0,365.9 C228.7,364.3 229.3,362.8 230.0,361.2 C230.7,359.6 231.3,358.0 232.0,356.4 C232.7,354.8 233.3,353.2 234.0,351.6 C234.7,350.0 235.3,348.4 236.0,346.8 C236.7,345.2 237.3,343.6 238.0,342.0 C238.7,340.4 239.3,338.8 240.0,337.2 C240.7,335.7 241.3,334.1 242.0,332.5 C242.7,331.0 243.3,329.4 244.0,327.9 C244.7,326.4 245.3,324.9 246.0,323.4 C246.7,321.9 247.3,320.4 248.0,318.9 C248.7,317.5 249.3,316.1 250.0,314.7 C250.7,313.2 251.3,311.9 252.0,310.5 C252.7,309.2 253.3,307.9 254.0,306.6 C254.7,305.3 255.3,304.0 256.0,302.8 C256.7,301.6 257.3,300.4 258.0,299.2 C258.7,298.1 259.3,297.0 260.0,295.9 C260.7,294.8 261.3,293.8 262.0,292.8 C262.7,291.9 263.3,290.9 264.0,290.0 C264.7,289.2 265.3,288.3 266.0,287.6 C266.7,286.8 267.3,286.0 268.0,285.4 C268.7,284.7 269.3,284.1 270.0,283.6 C270.7,283.0 271.3,282.5 272.0,282.1 C272.7,281.7 273.3,281.3 274.0,281.1 C274.7,280.8 275.3,280.6 276.0,280.5 C276.7,280.4 277.3,280.4 278.0,280.5 C278.7,280.5 279.3,280.6 280.0,280.8 C280.7,281.0 281.3,281.2 282.0,281.5 C282.7,281.8 283.3,282.1 284.0,282.5 C284.7,282.9 285.3,283.3 286.0,283.8 C286.7,284.3 287.3,284.9 288.0,285.5 C288.7,286.1 289.3,286.8 290.0,287.5 C290.7,288.2 291.3,289.0 292.0,289.8 C292.7,290.6 293.3,291.4 294.0,292.3 C294.7,293.2 295.3,294.2 296.0,295.2 C296.7,296.1 297.3,297.2 298.0,298.2 C298.7,299.3 299.3,300.4 300.0,301.6 C300.7,302.7 301.3,303.9 302.0,305.1 C302.7,306.3 303.3,307.6 304.0,308.9 C304.7,310.2 305.3,311.5 306.0,312.8 C306.7,314.1 307.3,315.5 308.0,316.9 C308.7,318.3 309.3,319.7 310.0,321.1 C310.7,322.6 311.3,324.0 312.0,325.5 C312.7,327.0 313.3,328.5 314.0,330.0 C314.7,331.5 315.3,333.0 316.0,334.5 C316.7,336.0 317.3,337.6 318.0,339.1 C318.7,340.6 319.3,342.2 320.0,343.7 C320.7,345.3 321.3,346.8 322.0,348.4 C322.7,350.0 323.3,351.5 324.0,353.1 C324.7,354.6 325.3,356.2 326.0,357.7 C326.7,359.2 327.3,360.8 328.0,362.3 C328.7,363.8 329.3,365.3 330.0,366.8 C330.7,368.3 331.3,369.8 332.0,371.3 C332.7,372.8 333.3,374.3 334.0,375.7 C334.7,377.1 335.3,378.6 336.0,380.0 C336.7,381.4 337.3,382.8 338.0,384.2 C338.7,385.6 339.3,386.9 340.0,388.2 C340.7,389.6 341.3,390.9 342.0,392.2 C342.7,393.5 343.3,394.7 344.0,396.0 C344.7,397.2 345.3,398.4 346.0,399.6 C346.7,400.8 347.3,402.0 348.0,403.1 C348.7,404.3 349.3,405.4 350.0,406.5 C350.7,407.6 351.3,408.6 352.0,409.7 C352.7,410.7 353.3,411.7 354.0,412.7 C354.7,413.7 355.3,414.6 356.0,415.5 C356.7,416.5 357.3,417.4 358.0,418.2 C358.7,419.1 359.3,420.0 360.0,420.8 C360.7,421.6 361.3,422.4 362.0,423.2 C362.7,423.9 363.3,424.7 364.0,425.4 C364.7,426.1 365.3,426.8 366.0,427.5 C366.7,428.1 367.3,428.8 368.0,429.4 C368.7,430.0 369.3,430.6 370.0,431.2 C370.7,431.8 371.3,432.3 372.0,432.8 C372.7,433.4 373.3,433.9 374.0,434.4 C374.7,434.9 375.3,435.3 376.0,435.8 C376.7,436.2 377.3,436.7 378.0,437.1 C378.7,437.5 379.3,437.9 380.0,438.3 C380.7,438.6 381.3,439.0 382.0,439.3 C382.7,439.7 383.3,440.0 384.0,440.3 C384.7,440.7 385.3,441.0 386.0,441.3 C386.7,441.6 387.3,441.8 388.0,442.1 C388.7,442.4 389.3,442.6 390.0,442.9 C390.7,443.1 391.3,443.4 392.0,443.6 C392.7,443.8 393.3,444.0 394.0,444.3 C394.7,444.5 395.3,444.7 396.0,444.9 C396.7,445.1 397.3,445.3 398.0,445.5 C398.7,445.6 399.3,445.8 400.0,446.0 C400.7,446.2 401.3,446.3 402.0,446.5 C402.7,446.7 403.3,446.8 404.0,447.0 C404.7,447.2 405.3,447.3 406.0,447.5 C406.7,447.6 407.3,447.8 408.0,448.0 C408.7,448.1 409.3,448.3 410.0,448.4 C410.7,448.6 411.3,448.7 412.0,448.9 C412.7,449.1 413.3,449.3 414.0,449.4 C414.7,449.6 415.3,449.8 416.0,450.0 C416.7,450.2 417.3,450.4 418.0,450.6 C418.7,450.8 419.3,451.1 420.0,451.3 C420.7,451.5 421.3,451.8 422.0,452.0 C422.7,452.2 423.3,452.5 424.0,452.7 C424.7,453.0 425.3,453.3 426.0,453.5 C426.7,453.8 427.3,454.1 428.0,454.4 C428.7,454.7 429.3,455.0 430.0,455.2 C430.7,455.5 431.3,455.8 432.0,456.2 C432.7,456.5 433.3,456.8 434.0,457.1 C434.7,457.4 435.3,457.7 436.0,458.1 C436.7,458.4 437.3,458.7 438.0,459.0 C438.7,459.4 439.3,459.7 440.0,460.0 C440.7,460.4 441.3,460.7 442.0,461.0 C442.7,461.4 443.3,461.7 444.0,462.0 C444.7,462.4 445.3,462.7 446.0,463.1 C446.7,463.4 447.3,463.7 448.0,464.1 C448.7,464.4 449.3,464.7 450.0,465.1 C450.7,465.4 451.3,465.7 452.0,466.1 C452.7,466.4 453.3,466.7 454.0,467.0 C454.7,467.3 455.3,467.7 456.0,468.0 C456.7,468.3 457.3,468.6 458.0,468.9 C458.7,469.2 459.3,469.5 460.0,469.8 C460.7,470.1 461.3,470.4 462.0,470.6 C462.7,470.9 463.3,471.2 464.0,471.5 C464.7,471.7 465.3,472.0 466.0,472.3 C466.7,472.5 467.3,472.8 468.0,473.0 C468.7,473.3 469.3,473.5 470.0,473.7 C470.7,474.0 471.3,474.2 472.0,474.4 C472.7,474.6 473.3,474.8 474.0,475.0 C474.7,475.2 475.3,475.4 476.0,475.6 C476.7,475.8 477.3,476.0 478.0,476.2 C478.7,476.4 479.3,476.6 480.0,476.7 C480.7,476.9 481.3,477.1 482.0,477.2 C482.7,477.4 483.3,477.5 484.0,477.7 C484.7,477.8 485.3,477.9 486.0,478.1 C486.7,478.2 487.3,478.3 488.0,478.5 C488.7,478.6 489.3,478.7 490.0,478.8 C490.7,478.9 491.3,479.0 492.0,479.1 C492.7,479.2 493.3,479.3 494.0,479.4 C494.7,479.5 495.3,479.6 496.0,479.7 C496.7,479.8 497.3,479.8 498.0,479.9 C498.7,480.0 499.3,480.1 500.0,480.1 C500.7,480.2 501.3,480.3 502.0,480.3 C502.7,480.4 503.3,480.4 504.0,480.5 C504.7,480.6 505.3,480.6 506.0,480.7 C506.7,480.7 507.3,480.8 508.0,480.8 C508.7,480.8 509.3,480.9 510.0,480.9 C510.7,481.0 511.3,481.0 512.0,481.0 C512.7,481.1 513.3,481.1 514.0,481.1 C514.7,481.2 515.3,481.2 516.0,481.2 C516.7,481.2 517.3,481.3 518.0,481.3 C518.7,481.3 519.3,481.3 520.0,481.4 C520.7,481.4 521.3,481.4 522.0,481.4 C522.7,481.4 523.3,481.4 524.0,481.5 C524.7,481.5 525.3,481.5 526.0,481.5 C526.7,481.5 527.3,481.5 528.0,481.5 C528.7,481.6 529.3,481.6 530.0,481.6 C530.7,481.6 531.3,481.6 532.0,481.6 C532.7,481.6 533.3,481.6 534.0,481.6 C534.7,481.6 535.3,481.7 536.0,481.7 C536.7,481.7 537.3,481.7 538.0,481.7 C538.7,481.7 539.3,481.7 540.0,481.7 C540.7,481.7 541.3,481.7 542.0,481.7 C542.7,481.7 543.3,481.7 544.0,481.7 C544.7,481.7 545.3,481.7 546.0,481.7 C546.7,481.8 547.3,481.8 548.0,481.8 C548.7,481.8 549.3,481.8 550.0,481.8 C550.7,481.8 551.3,481.8 552.0,481.8 C552.7,481.8 553.3,481.8 554.0,481.8 C554.7,481.8 555.3,481.8 556.0,481.8 C556.7,481.8 557.3,481.8 558.0,481.8 C558.7,481.8 559.3,481.8 560.0,481.8 C560.7,481.8 561.3,481.8 562.0,481.8 C562.7,481.8 563.3,481.8 564.0,481.8 C564.7,481.8 565.3,481.8 566.0,481.8 C566.7,481.8 567.3,481.8 568.0,481.9 C568.7,481.9 569.3,481.9 570.0,481.9 C570.7,481.9 571.3,481.9 572.0,481.9 C572.7,481.9 573.3,481.9 574.0,481.9 C574.7,481.9 575.3,481.9 576.0,481.9 C576.7,481.9 577.3,481.9 578.0,481.9 C578.7,481.9 579.3,481.9 580.0,481.9 C580.7,481.9 581.3,481.9 582.0,481.9 C582.7,481.9 583.3,481.9 584.0,481.9 C584.7,481.9 585.3,481.9 586.0,481.9 C586.7,481.9 587.3,481.9 588.0,481.9 C588.7,481.9 589.3,481.9 590.0,481.9 C590.7,481.9 591.3,481.9 592.0,481.9 C592.7,481.9 593.3,481.9 594.0,481.9 C594.7,481.9 595.3,481.9 596.0,481.9 C596.7,481.9 597.3,482.0 598.0,482.0 C598.7,482.0 599.3,482.0 600.0,482.0 C600.7,482.0 601.3,482.0 602.0,482.0 C602.7,482.0 603.3,482.0 604.0,482.0 C604.7,482.0 605.3,482.0 606.0,482.0 C606.7,482.0 607.3,482.0 608.0,482.0 C608.7,482.0 609.3,482.0 610.0,482.0 C610.7,482.0 611.3,482.0 612.0,482.0 C612.7,482.0 613.3,482.0 614.0,482.0 C614.7,481.9 615.3,481.9 616.0,481.9 C616.7,481.9 617.3,481.9 618.0,481.9 C618.7,481.9 619.3,481.9 620.0,481.9 C620.7,481.9 621.3,481.7 622.0,481.9 C622.7,482.1 623.3,482.6 624.0,483.0 C624.7,483.4 625.3,483.8 626.0,484.2 C626.7,484.6 627.3,485.0 628.0,485.2 C628.7,485.5 629.3,485.5 630.0,485.6 C630.7,485.8 631.3,485.9 632.0,486.0 C632.7,486.1 633.3,486.5 634.0,486.2 C634.7,485.8 635.3,484.7 636.0,483.9 C636.7,483.2 637.3,482.4 638.0,481.7 C638.7,481.0 639.3,480.3 640.0,479.6 C640.7,478.9 641.3,478.3 642.0,477.6 C642.7,476.9 643.3,475.8 644.0,475.6 C644.7,475.4 645.3,476.1 646.0,476.4 C646.7,476.7 647.3,476.9 648.0,477.2 C648.7,477.5 649.3,477.9 650.0,478.0 C650.7,478.0 651.3,477.7 652.0,477.5 C652.7,477.4 653.3,477.1 654.0,476.9 C654.7,476.7 655.3,476.4 656.0,476.2 C656.7,476.0 657.3,475.6 658.0,475.6 C658.7,475.7 659.3,476.1 660.0,476.4 C660.7,476.6 661.3,476.7 662.0,477.1 C662.7,477.6 663.4,478.4 664.0,479.2 C664.6,480.0 665.3,481.4 665.6,481.9" fill="none" stroke="#858585" stroke-width="2.3" stroke-linejoin="round"/>
<path d="M825.4,213.6 C826.1,214.1 827.9,216.0 829.6,216.7 C831.3,217.4 833.9,217.9 835.7,217.9 C837.5,217.9 839.1,217.8 840.5,216.7 C841.9,215.6 843.1,213.1 844.1,211.2 C845.1,209.3 845.5,206.6 846.5,205.2 C847.5,203.8 848.9,202.7 850.1,202.8 C851.3,202.9 852.5,204.4 853.7,205.8 C854.9,207.2 856.1,210.5 857.3,211.2 C858.5,211.9 859.5,211.4 860.9,210.0 C862.3,208.6 863.9,204.9 865.7,202.8 C867.5,200.7 870.0,197.6 871.8,197.4 C873.6,197.2 875.1,199.8 876.6,201.6 C878.1,203.4 879.6,208.0 880.8,208.2 C882.0,208.4 882.7,205.1 883.8,202.8 C884.9,200.5 885.8,196.2 887.4,194.4 C889.0,192.6 891.6,191.8 893.4,192.0 C895.2,192.2 896.9,193.6 898.3,195.6 C899.7,197.6 900.7,201.8 901.9,204.0 C903.1,206.2 904.1,208.1 905.5,208.6 C906.9,209.1 908.7,208.4 910.3,207.0 C911.9,205.6 913.5,202.9 915.1,200.4 C916.7,197.9 918.1,194.6 919.9,192.0 C921.7,189.4 924.1,187.3 925.9,184.7 C927.7,182.1 929.3,178.6 930.8,176.3 C932.3,174.0 933.7,171.5 935.0,170.9 C936.3,170.3 937.5,171.5 938.6,172.7 C939.7,173.9 940.5,178.3 941.6,178.1 C942.7,177.9 944.0,174.0 945.2,171.5 C946.4,169.0 947.7,164.7 948.8,163.1 C949.9,161.5 950.8,161.3 951.8,161.9 C952.8,162.5 953.7,165.1 954.8,166.7 C955.9,168.3 957.4,171.3 958.5,171.5 C959.6,171.7 960.6,170.5 961.5,167.9 C962.4,165.3 963.1,159.3 963.9,155.8 C964.7,152.3 965.2,148.6 966.3,146.8 C967.4,145.0 969.1,145.3 970.5,145.0 C971.9,144.7 973.5,146.0 974.7,145.0 C975.9,144.0 976.6,141.8 977.7,139.0 C978.8,136.2 980.1,132.2 981.3,128.2 C982.5,124.2 983.7,119.4 984.9,114.9 C986.1,110.4 987.6,103.9 988.6,101.1 C989.6,98.3 990.0,98.4 991.0,98.1 C992.0,97.8 993.5,99.8 994.8,99.3 C996.1,98.8 997.8,98.0 999.0,95.1 C1000.2,92.2 1001.1,86.3 1002.0,81.9 C1002.9,77.5 1003.6,71.2 1004.4,68.6 C1005.2,66.0 1006.0,66.0 1006.9,66.2 C1007.8,66.4 1008.8,69.0 1009.9,69.8 C1011.0,70.6 1012.5,71.8 1013.5,71.0 C1014.5,70.2 1015.0,68.4 1015.9,65.0 C1016.8,61.6 1017.8,55.8 1018.9,50.6 C1020.0,45.4 1021.3,38.7 1022.5,33.7 C1023.7,28.7 1024.9,23.2 1026.1,20.5 C1027.3,17.8 1028.6,17.6 1029.7,17.5 C1030.8,17.4 1031.7,18.8 1032.7,19.9 C1033.7,21.0 1034.6,23.6 1035.7,24.1 C1036.8,24.6 1038.0,23.7 1039.4,22.9 C1040.8,22.1 1042.8,19.5 1044.2,19.3 C1045.6,19.1 1046.6,20.3 1047.8,21.7 C1049.0,23.1 1050.0,26.4 1051.4,27.7 C1052.8,29.0 1054.7,29.7 1056.2,29.5 C1057.7,29.3 1059.2,29.0 1060.4,26.5 C1061.6,24.0 1062.5,17.8 1063.4,14.4 C1064.3,11.0 1064.9,7.6 1065.8,6.0 C1066.7,4.4 1067.9,4.2 1068.9,4.8 C1069.9,5.4 1070.8,6.8 1071.9,9.6 C1073.0,12.4 1074.3,17.5 1075.5,21.7 C1076.7,25.9 1078.0,30.1 1079.1,34.9 C1080.2,39.7 1081.1,47.2 1082.1,50.6 C1083.1,54.0 1084.0,54.9 1085.1,55.4 C1086.2,55.9 1087.5,53.6 1088.7,53.6 C1089.9,53.6 1091.3,53.5 1092.3,55.4 C1093.3,57.3 1093.9,61.0 1094.7,65.0 C1095.5,69.0 1096.4,75.3 1097.2,79.5 C1098.0,83.7 1098.6,88.1 1099.6,90.3 C1100.6,92.5 1101.9,91.9 1103.2,92.7 C1104.5,93.5 1106.0,93.7 1107.4,95.1 C1108.8,96.5 1110.3,99.1 1111.6,101.1 C1112.9,103.1 1114.1,105.0 1115.2,107.2 C1116.3,109.4 1117.2,112.3 1118.2,114.4 C1119.2,116.5 1120.1,119.0 1121.2,119.8 C1122.3,120.6 1123.7,120.5 1124.8,119.2 C1125.9,117.9 1126.9,113.6 1127.9,112.0 C1128.9,110.4 1129.8,109.6 1130.9,109.6 C1132.0,109.6 1133.2,111.2 1134.5,112.0 C1135.8,112.8 1137.5,114.6 1138.7,114.4 C1139.9,114.2 1140.6,111.7 1141.7,110.8 C1142.8,109.9 1144.1,108.6 1145.3,109.0 C1146.5,109.4 1147.7,111.4 1148.9,113.2 C1150.1,115.0 1151.3,119.6 1152.5,119.8 C1153.7,120.0 1154.9,117.4 1156.0,114.5 C1157.1,111.6 1157.8,105.3 1159.0,102.5 C1160.2,99.7 1161.3,98.6 1163.2,97.7 C1165.1,96.8 1168.3,96.9 1170.5,97.1 C1172.7,97.3 1174.5,98.4 1176.5,98.9 C1178.5,99.4 1180.7,100.5 1182.5,100.1 C1184.3,99.7 1185.7,97.6 1187.3,96.5 C1188.9,95.4 1190.3,94.1 1192.1,93.5 C1193.9,92.9 1196.4,92.7 1198.2,92.9 C1200.0,93.1 1201.4,93.5 1203.0,94.7 C1204.6,95.9 1206.2,98.2 1207.8,100.1 C1209.4,102.0 1211.0,104.4 1212.6,106.1 C1214.2,107.8 1215.8,109.5 1217.4,110.3 C1219.0,111.1 1220.4,110.4 1222.2,110.9 C1224.0,111.4 1226.5,111.9 1228.3,113.3 C1230.1,114.7 1231.7,117.0 1233.1,119.4 C1234.5,121.8 1235.5,125.2 1236.7,127.8 C1237.9,130.4 1238.9,133.7 1240.3,135.0 C1241.7,136.3 1243.8,134.6 1245.1,135.6 C1246.4,136.6 1247.1,138.3 1248.1,141.0 C1249.1,143.7 1250.1,148.1 1251.1,151.9 C1252.1,155.7 1253.1,160.1 1254.1,163.9 C1255.1,167.7 1256.1,171.7 1257.2,174.7 C1258.3,177.7 1259.6,180.8 1260.8,182.0 C1262.0,183.2 1263.3,182.8 1264.4,182.0 C1265.5,181.2 1266.4,178.2 1267.4,177.2 C1268.4,176.2 1269.5,175.2 1270.4,176.0 C1271.3,176.8 1271.8,179.2 1272.8,182.0 C1273.8,184.8 1275.2,190.4 1276.4,192.8 C1277.6,195.2 1278.6,196.0 1280.0,196.4 C1281.4,196.8 1283.2,194.6 1284.8,195.2 C1286.4,195.8 1288.2,197.8 1289.7,200.0 C1291.2,202.2 1292.7,205.7 1293.9,208.5 C1295.1,211.3 1295.6,214.6 1296.9,216.9 C1298.2,219.2 1300.1,221.9 1301.7,222.3 C1303.3,222.7 1305.1,221.0 1306.5,219.3 C1307.9,217.6 1309.2,213.9 1310.1,212.1 C1311.0,210.2 1311.3,210.5 1312.0,208.2 C1312.7,205.9 1313.2,200.4 1314.0,198.1 C1314.8,195.8 1316.0,194.4 1317.0,194.6 C1318.0,194.8 1319.0,196.5 1320.0,199.1 C1321.0,201.7 1322.0,207.8 1323.0,210.2 C1324.0,212.5 1324.7,212.9 1326.0,213.2 C1327.3,213.5 1329.6,211.7 1331.1,212.2 C1332.6,212.7 1333.8,214.8 1335.1,216.2 C1336.4,217.6 1337.6,220.0 1339.1,220.7 C1340.6,221.4 1342.3,220.4 1344.1,220.2 C1345.9,219.9 1347.9,219.3 1350.1,219.2 C1352.3,219.1 1355.0,219.6 1357.2,219.7 C1359.4,219.8 1361.4,220.6 1363.2,219.7 C1365.0,218.8 1366.4,215.7 1368.2,214.2 C1370.0,212.7 1372.4,211.7 1374.2,210.7 C1376.0,209.7 1377.9,209.5 1379.2,208.2 C1380.5,206.9 1381.0,204.4 1382.2,203.1 C1383.4,201.8 1385.0,199.9 1386.3,200.1 C1387.6,200.3 1389.1,202.1 1390.3,204.1 C1391.5,206.1 1392.1,210.0 1393.3,212.2 C1394.5,214.4 1396.0,216.0 1397.3,217.2 C1398.6,218.4 1400.1,219.4 1401.3,219.2 C1402.5,219.0 1403.3,217.7 1404.3,216.2 C1405.3,214.7 1406.3,211.2 1407.3,210.2 C1408.3,209.2 1409.3,209.2 1410.3,210.2 C1411.3,211.2 1412.3,214.0 1413.3,216.2 C1414.3,218.4 1415.4,221.8 1416.4,223.2 C1417.4,224.6 1418.4,225.0 1419.4,224.7 C1420.4,224.4 1421.2,222.1 1422.4,221.2 C1423.6,220.3 1425.1,219.4 1426.4,219.2 C1427.7,219.0 1429.1,220.2 1430.4,220.2 C1431.7,220.2 1433.1,219.9 1434.4,219.2 C1435.7,218.5 1437.1,217.5 1438.4,216.2 C1439.7,214.9 1441.0,212.9 1442.4,211.2 C1443.8,209.5 1446.2,207.0 1447.0,206.2" fill="none" stroke="#000" stroke-width="4.4" stroke-linejoin="round" stroke-linecap="butt"/>
<path d="M825.0,208.2 L829.0,208.3 L833.0,208.3 L837.0,208.4 L841.0,208.4 L845.0,208.5 L849.0,208.6 L853.0,208.6 L857.0,208.7 L861.0,208.7 L865.0,208.8 L869.0,208.8 L873.0,208.9 L877.0,209.0 L881.0,209.0 L885.0,209.1 L889.0,209.1 L893.0,209.2 L897.0,209.3 L901.0,209.3 L905.0,209.4 L909.0,209.4 L913.0,209.5 L917.0,209.5 L921.0,209.6 L925.0,209.7 L929.0,209.7 L933.0,209.8 L937.0,209.8 L941.0,209.9 L945.0,210.0 L949.0,210.0 L953.0,210.1 L957.0,210.1 L961.0,210.2 L965.0,210.2 L969.0,210.3 L973.0,210.4 L977.0,210.4 L981.0,210.5 L985.0,210.5 L989.0,210.6 L993.0,210.7 L997.0,210.7 L1001.0,210.8 L1005.0,210.8 L1009.0,210.9 L1013.0,211.0 L1017.0,211.0 L1021.0,211.1 L1025.0,211.1 L1029.0,211.2 L1033.0,211.3 L1037.0,211.4 L1041.0,211.5 L1045.0,211.6 L1049.0,211.7 L1053.0,211.8 L1057.0,211.9 L1061.0,212.0 L1065.0,212.1 L1069.0,212.2 L1073.0,212.3 L1077.0,212.4 L1081.0,212.5 L1085.0,212.6 L1089.0,212.7 L1093.0,212.8 L1097.0,212.9 L1101.0,213.0 L1105.0,213.1 L1109.0,213.2 L1113.0,213.3 L1117.0,213.4 L1121.0,213.6 L1125.0,213.7 L1129.0,213.8 L1133.0,213.9 L1137.0,214.0 L1141.0,214.1 L1145.0,214.2 L1149.0,214.3 L1153.0,214.3 L1157.0,214.4 L1161.0,214.5 L1165.0,214.5 L1169.0,214.6 L1173.0,214.6 L1177.0,214.7 L1181.0,214.7 L1185.0,214.8 L1189.0,214.8 L1193.0,214.9 L1197.0,215.0 L1201.0,215.0 L1205.0,215.1 L1209.0,215.1 L1213.0,215.2 L1217.0,215.2 L1221.0,215.3 L1225.0,215.3 L1229.0,215.4 L1233.0,215.5 L1237.0,215.5 L1241.0,215.6 L1245.0,215.6 L1249.0,215.7 L1253.0,215.7 L1257.0,215.7 L1261.0,215.8 L1265.0,215.8 L1269.0,215.8 L1273.0,215.8 L1277.0,215.8 L1281.0,215.9 L1285.0,215.9 L1289.0,215.9 L1293.0,215.9 L1297.0,215.9 L1301.0,215.9 L1305.0,216.0 L1309.0,216.0 L1313.0,216.0 L1317.0,216.0 L1321.0,216.0 L1325.0,216.1 L1329.0,216.1 L1333.0,216.1 L1337.0,216.1 L1341.0,216.1 L1345.0,216.2 L1349.0,216.2 L1353.0,216.2 L1357.0,216.2 L1361.0,216.2 L1365.0,216.3 L1369.0,216.3 L1373.0,216.3 L1377.0,216.3 L1381.0,216.3 L1385.0,216.4 L1389.0,216.4 L1393.0,216.4 L1397.0,216.4 L1401.0,216.4 L1405.0,216.5 L1409.0,216.5 L1413.0,216.5 L1417.0,216.5 L1421.0,216.5 L1425.0,216.6 L1429.0,216.6 L1433.0,216.6 L1437.0,215.9 L1441.0,212.7 L1445.0,208.4 L1447.0,206.2" fill="none" stroke="#858585" stroke-width="2.2"/>
<path d="M825.0,207.4 L827.0,207.4 L829.0,207.4 L831.0,207.5 L833.0,207.5 L835.0,207.5 L837.0,207.5 L839.0,207.5 L841.0,207.5 L843.0,207.5 L845.0,207.5 L847.0,207.4 L849.0,207.4 L851.0,207.4 L853.0,207.4 L855.0,207.4 L857.0,207.3 L859.0,207.3 L861.0,207.2 L863.0,207.2 L865.0,207.1 L867.0,207.1 L869.0,207.0 L871.0,206.9 L873.0,206.8 L875.0,206.7 L877.0,206.5 L879.0,206.4 L881.0,206.2 L883.0,206.0 L885.0,205.8 L887.0,205.6 L889.0,205.4 L891.0,205.1 L893.0,204.8 L895.0,204.4 L897.0,204.1 L899.0,203.7 L901.0,203.2 L903.0,202.7 L905.0,202.2 L907.0,201.6 L909.0,201.0 L911.0,200.3 L913.0,199.6 L915.0,198.8 L917.0,198.0 L919.0,197.0 L921.0,196.1 L923.0,195.0 L925.0,193.9 L927.0,192.6 L929.0,191.3 L931.0,189.9 L933.0,188.5 L935.0,186.9 L937.0,185.2 L939.0,183.5 L941.0,181.6 L943.0,179.6 L945.0,177.5 L947.0,175.3 L949.0,173.0 L951.0,170.6 L953.0,168.1 L955.0,165.4 L957.0,162.7 L959.0,159.8 L961.0,156.8 L963.0,153.7 L965.0,150.4 L967.0,147.1 L969.0,143.7 L971.0,140.1 L973.0,136.5 L975.0,132.8 L977.0,128.9 L979.0,125.0 L981.0,121.1 L983.0,117.0 L985.0,112.9 L987.0,108.7 L989.0,104.5 L991.0,100.3 L993.0,96.0 L995.0,91.7 L997.0,87.4 L999.0,83.2 L1001.0,78.9 L1003.0,74.7 L1005.0,70.5 L1007.0,66.4 L1009.0,62.3 L1011.0,58.4 L1013.0,54.5 L1015.0,50.8 L1017.0,47.2 L1019.0,43.7 L1021.0,40.4 L1023.0,37.2 L1025.0,34.3 L1027.0,31.5 L1029.0,28.9 L1031.0,26.5 L1033.0,24.4 L1035.0,22.5 L1037.0,20.9 L1039.0,19.5 L1041.0,18.3 L1043.0,17.4 L1045.0,16.8 L1047.0,16.5 L1049.0,16.4 L1051.0,16.6 L1053.0,17.0 L1055.0,17.8 L1057.0,18.7 L1059.0,20.0 L1061.0,21.5 L1063.0,23.3 L1065.0,25.2 L1067.0,27.5 L1069.0,29.9 L1071.0,32.6 L1073.0,35.4 L1075.0,38.5 L1077.0,41.7 L1079.0,45.1 L1081.0,48.7 L1083.0,52.4 L1085.0,56.2 L1087.0,60.1 L1089.0,64.2 L1091.0,68.3 L1093.0,72.5 L1095.0,76.7 L1097.0,81.1 L1099.0,85.4 L1101.0,89.7 L1103.0,94.1 L1105.0,98.5 L1107.0,102.8 L1109.0,107.2 L1111.0,111.4 L1113.0,115.7 L1115.0,119.9 L1117.0,124.0 L1119.0,128.1 L1121.0,132.1 L1123.0,136.0 L1125.0,139.8 L1127.0,143.5 L1129.0,147.1 L1131.0,150.6 L1133.0,154.1 L1135.0,157.4 L1137.0,160.5 L1139.0,163.6 L1141.0,166.6 L1143.0,169.4 L1145.0,172.2 L1147.0,174.8 L1149.0,177.3 L1151.0,179.7 L1153.0,181.9 L1155.0,184.1 L1157.0,186.1 L1159.0,188.0 L1161.0,189.8 L1163.0,191.6 L1165.0,193.2 L1167.0,194.7 L1169.0,196.2 L1171.0,197.5 L1173.0,198.8 L1175.0,200.0 L1177.0,201.1 L1179.0,202.2 L1181.0,203.2 L1183.0,204.1 L1185.0,204.9 L1187.0,205.7 L1189.0,206.4 L1191.0,207.1 L1193.0,207.7 L1195.0,208.3 L1197.0,208.9 L1199.0,209.4 L1201.0,209.8 L1203.0,210.3 L1205.0,210.6 L1207.0,211.0 L1209.0,211.3 L1211.0,211.6 L1213.0,211.9 L1215.0,212.2 L1217.0,212.4 L1219.0,212.7 L1221.0,212.9 L1223.0,213.1 L1225.0,213.2 L1227.0,213.4 L1229.0,213.5 L1231.0,213.7 L1233.0,213.8 L1235.0,213.9 L1237.0,214.0 L1239.0,214.1 L1241.0,214.2 L1243.0,214.3 L1245.0,214.4 L1247.0,214.5 L1249.0,214.6 L1251.0,214.6 L1253.0,214.7 L1255.0,214.7 L1257.0,214.8 L1259.0,214.8 L1261.0,214.8 L1263.0,214.9 L1265.0,214.9 L1267.0,214.9 L1269.0,215.0 L1271.0,215.0 L1273.0,215.0 L1275.0,215.1 L1277.0,215.1 L1279.0,215.1 L1281.0,215.1 L1283.0,215.2 L1285.0,215.2 L1287.0,215.2 L1289.0,215.2 L1291.0,215.3 L1293.0,215.3 L1295.0,215.3 L1297.0,215.3 L1299.0,215.3 L1301.0,215.4 L1303.0,215.4 L1305.0,215.4 L1307.0,215.4 L1309.0,215.4 L1311.0,215.4 L1313.0,215.5 L1315.0,215.5 L1317.0,215.5 L1319.0,215.5 L1321.0,215.5 L1323.0,215.6 L1325.0,215.6 L1327.0,215.6 L1329.0,215.6 L1331.0,215.6 L1333.0,215.6 L1335.0,215.6 L1337.0,215.7 L1339.0,215.7 L1341.0,215.7 L1343.0,215.7 L1345.0,215.7 L1347.0,215.7 L1349.0,215.8 L1351.0,215.8 L1353.0,215.8 L1355.0,215.8 L1357.0,215.8 L1359.0,215.8 L1361.0,215.8 L1363.0,215.9 L1365.0,215.9 L1367.0,215.9 L1369.0,215.9 L1371.0,215.9 L1373.0,215.9 L1375.0,215.9 L1377.0,216.0 L1379.0,216.0 L1381.0,216.0 L1383.0,216.0 L1385.0,216.0 L1387.0,216.0 L1389.0,216.0 L1391.0,216.1 L1393.0,216.1 L1395.0,216.1 L1397.0,216.1 L1399.0,216.1 L1401.0,216.1 L1403.0,216.1 L1405.0,216.2 L1407.0,216.2 L1409.0,216.2 L1411.0,216.2 L1413.0,216.2 L1415.0,216.2 L1417.0,216.2 L1419.0,216.2 L1421.0,216.3 L1423.0,216.3 L1425.0,216.3 L1427.0,216.3 L1429.0,216.3 L1431.0,216.3 L1433.0,216.3 L1435.0,216.1 L1437.0,215.6 L1439.0,214.6 L1441.0,212.5 L1443.0,210.3 L1445.0,208.1 L1447.0,206.0" fill="none" stroke="#858585" stroke-width="1.6"/>
<path d="M825.0,208.2 L827.0,208.2 L829.0,208.3 L831.0,208.3 L833.0,208.3 L835.0,208.3 L837.0,208.4 L839.0,208.4 L841.0,208.4 L843.0,208.5 L845.0,208.5 L847.0,208.5 L849.0,208.6 L851.0,208.6 L853.0,208.6 L855.0,208.6 L857.0,208.7 L859.0,208.7 L861.0,208.7 L863.0,208.8 L865.0,208.8 L867.0,208.8 L869.0,208.8 L871.0,208.9 L873.0,208.9 L875.0,208.9 L877.0,209.0 L879.0,209.0 L881.0,209.0 L883.0,209.0 L885.0,209.1 L887.0,209.1 L889.0,209.1 L891.0,209.2 L893.0,209.2 L895.0,209.2 L897.0,209.3 L899.0,209.3 L901.0,209.3 L903.0,209.3 L905.0,209.4 L907.0,209.4 L909.0,209.4 L911.0,209.5 L913.0,209.5 L915.0,209.5 L917.0,209.5 L919.0,209.6 L921.0,209.6 L923.0,209.6 L925.0,209.7 L927.0,209.7 L929.0,209.7 L931.0,209.8 L933.0,209.8 L935.0,209.8 L937.0,209.8 L939.0,209.9 L941.0,209.9 L943.0,209.9 L945.0,210.0 L947.0,210.0 L949.0,210.0 L951.0,210.0 L953.0,210.1 L955.0,210.1 L957.0,210.1 L959.0,210.2 L961.0,210.2 L963.0,210.2 L965.0,210.2 L967.0,210.3 L969.0,210.3 L971.0,210.3 L973.0,210.4 L975.0,210.4 L977.0,210.4 L979.0,210.5 L981.0,210.5 L983.0,210.5 L985.0,210.5 L987.0,210.6 L989.0,210.6 L991.0,210.6 L993.0,210.7 L995.0,210.7 L997.0,210.7 L999.0,210.7 L1001.0,210.8 L1003.0,210.8 L1005.0,210.8 L1007.0,210.9 L1009.0,210.9 L1011.0,210.9 L1013.0,210.9 L1015.0,211.0 L1017.0,211.0 L1019.0,211.0 L1021.0,211.1 L1023.0,211.1 L1025.0,211.1 L1027.0,211.1 L1029.0,211.1 L1031.0,211.2 L1033.0,211.2 L1035.0,211.3 L1037.0,211.3 L1039.0,211.3 L1041.0,211.4 L1043.0,211.4 L1045.0,211.4 L1047.0,211.5 L1049.0,211.5 L1051.0,211.5 L1053.0,211.5 L1055.0,211.5 L1057.0,211.5 L1059.0,211.5 L1061.0,211.4 L1063.0,211.4 L1065.0,211.3 L1067.0,211.3 L1069.0,211.2 L1071.0,211.1 L1073.0,210.9 L1075.0,210.8 L1077.0,210.6 L1079.0,210.4 L1081.0,210.1 L1083.0,209.8 L1085.0,209.5 L1087.0,209.1 L1089.0,208.7 L1091.0,208.2 L1093.0,207.7 L1095.0,207.1 L1097.0,206.5 L1099.0,205.7 L1101.0,204.9 L1103.0,204.1 L1105.0,203.1 L1107.0,202.0 L1109.0,200.9 L1111.0,199.6 L1113.0,198.3 L1115.0,196.8 L1117.0,195.3 L1119.0,193.6 L1121.0,191.8 L1123.0,189.9 L1125.0,187.9 L1127.0,185.7 L1129.0,183.5 L1131.0,181.1 L1133.0,178.6 L1135.0,176.0 L1137.0,173.3 L1139.0,170.5 L1141.0,167.6 L1143.0,164.6 L1145.0,161.5 L1147.0,158.3 L1149.0,155.1 L1151.0,151.9 L1153.0,148.5 L1155.0,145.2 L1157.0,141.8 L1159.0,138.5 L1161.0,135.2 L1163.0,131.9 L1165.0,128.6 L1167.0,125.5 L1169.0,122.4 L1171.0,119.4 L1173.0,116.6 L1175.0,113.9 L1177.0,111.4 L1179.0,109.0 L1181.0,106.9 L1183.0,104.9 L1185.0,103.1 L1187.0,101.6 L1189.0,100.3 L1191.0,99.3 L1193.0,98.5 L1195.0,98.0 L1197.0,97.7 L1199.0,97.7 L1201.0,97.9 L1203.0,98.4 L1205.0,99.1 L1207.0,100.0 L1209.0,101.2 L1211.0,102.5 L1213.0,104.1 L1215.0,105.8 L1217.0,107.7 L1219.0,109.8 L1221.0,112.1 L1223.0,114.5 L1225.0,117.1 L1227.0,119.8 L1229.0,122.6 L1231.0,125.5 L1233.0,128.5 L1235.0,131.5 L1237.0,134.6 L1239.0,137.8 L1241.0,140.9 L1243.0,144.1 L1245.0,147.3 L1247.0,150.5 L1249.0,153.6 L1251.0,156.7 L1253.0,159.8 L1255.0,162.8 L1257.0,165.8 L1259.0,168.6 L1261.0,171.4 L1263.0,174.1 L1265.0,176.8 L1267.0,179.3 L1269.0,181.7 L1271.0,184.1 L1273.0,186.3 L1275.0,188.5 L1277.0,190.5 L1279.0,192.4 L1281.0,194.2 L1283.0,196.0 L1285.0,197.6 L1287.0,199.1 L1289.0,200.6 L1291.0,201.9 L1293.0,203.1 L1295.0,204.3 L1297.0,205.4 L1299.0,206.4 L1301.0,207.3 L1303.0,208.2 L1305.0,208.9 L1307.0,209.7 L1309.0,210.3 L1311.0,210.9 L1313.0,211.5 L1315.0,212.0 L1317.0,212.4 L1319.0,212.8 L1321.0,213.2 L1323.0,213.5 L1325.0,213.8 L1327.0,214.1 L1329.0,214.4 L1331.0,214.6 L1333.0,214.8 L1335.0,215.0 L1337.0,215.1 L1339.0,215.3 L1341.0,215.4 L1343.0,215.5 L1345.0,215.6 L1347.0,215.7 L1349.0,215.8 L1351.0,215.8 L1353.0,215.9 L1355.0,215.9 L1357.0,216.0 L1359.0,216.0 L1361.0,216.1 L1363.0,216.1 L1365.0,216.1 L1367.0,216.2 L1369.0,216.2 L1371.0,216.2 L1373.0,216.2 L1375.0,216.3 L1377.0,216.3 L1379.0,216.3 L1381.0,216.3 L1383.0,216.3 L1385.0,216.3 L1387.0,216.4 L1389.0,216.4 L1391.0,216.4 L1393.0,216.4 L1395.0,216.4 L1397.0,216.4 L1399.0,216.4 L1401.0,216.4 L1403.0,216.4 L1405.0,216.5 L1407.0,216.5 L1409.0,216.5 L1411.0,216.5 L1413.0,216.5 L1415.0,216.5 L1417.0,216.5 L1419.0,216.5 L1421.0,216.5 L1423.0,216.5 L1425.0,216.6 L1427.0,216.6 L1429.0,216.6 L1431.0,216.6 L1433.0,216.6 L1435.0,216.3 L1437.0,215.8 L1439.0,214.9 L1441.0,212.7 L1443.0,210.5 L1445.0,208.4 L1447.0,206.2" fill="none" stroke="#858585" stroke-width="1.6"/>
<path d="M825.0,207.4 C825.3,207.4 826.3,207.4 827.0,207.4 C827.7,207.4 828.3,207.4 829.0,207.4 C829.7,207.4 830.3,207.5 831.0,207.5 C831.7,207.5 832.3,207.5 833.0,207.5 C833.7,207.5 834.3,207.5 835.0,207.5 C835.7,207.5 836.3,207.5 837.0,207.5 C837.7,207.5 838.3,207.5 839.0,207.5 C839.7,207.5 840.3,207.5 841.0,207.5 C841.7,207.5 842.3,207.5 843.0,207.5 C843.7,207.5 844.3,207.5 845.0,207.5 C845.7,207.5 846.3,207.4 847.0,207.4 C847.7,207.4 848.3,207.4 849.0,207.4 C849.7,207.4 850.3,207.4 851.0,207.4 C851.7,207.4 852.3,207.4 853.0,207.4 C853.7,207.4 854.3,207.4 855.0,207.4 C855.7,207.4 856.3,207.3 857.0,207.3 C857.7,207.3 858.3,207.3 859.0,207.3 C859.7,207.3 860.3,207.3 861.0,207.2 C861.7,207.2 862.3,207.2 863.0,207.2 C863.7,207.2 864.3,207.2 865.0,207.1 C865.7,207.1 866.3,207.1 867.0,207.1 C867.7,207.0 868.3,207.0 869.0,207.0 C869.7,206.9 870.3,206.9 871.0,206.9 C871.7,206.9 872.3,206.8 873.0,206.8 C873.7,206.7 874.3,206.7 875.0,206.7 C875.7,206.6 876.3,206.6 877.0,206.5 C877.7,206.5 878.3,206.4 879.0,206.4 C879.7,206.3 880.3,206.3 881.0,206.2 C881.7,206.2 882.3,206.1 883.0,206.0 C883.7,206.0 884.3,205.9 885.0,205.8 C885.7,205.8 886.3,205.7 887.0,205.6 C887.7,205.5 888.3,205.4 889.0,205.4 C889.7,205.3 890.3,205.2 891.0,205.1 C891.7,205.0 892.3,204.9 893.0,204.8 C893.7,204.7 894.3,204.6 895.0,204.4 C895.7,204.3 896.3,204.2 897.0,204.1 C897.7,203.9 898.3,203.8 899.0,203.7 C899.7,203.5 900.3,203.4 901.0,203.2 C901.7,203.1 902.3,202.9 903.0,202.7 C903.7,202.6 904.3,202.4 905.0,202.2 C905.7,202.0 906.3,201.8 907.0,201.6 C907.7,201.4 908.3,201.2 909.0,201.0 C909.7,200.8 910.3,200.6 911.0,200.3 C911.7,200.1 912.3,199.9 913.0,199.6 C913.7,199.4 914.3,199.1 915.0,198.8 C915.7,198.5 916.3,198.3 917.0,198.0 C917.7,197.7 918.3,197.4 919.0,197.0 C919.7,196.7 920.3,196.4 921.0,196.1 C921.7,195.7 922.3,195.4 923.0,195.0 C923.7,194.6 924.3,194.2 925.0,193.9 C925.7,193.5 926.3,193.1 927.0,192.6 C927.7,192.2 928.3,191.8 929.0,191.3 C929.7,190.9 930.3,190.4 931.0,189.9 C931.7,189.5 932.3,189.0 933.0,188.5 C933.7,188.0 934.3,187.4 935.0,186.9 C935.7,186.4 936.3,185.8 937.0,185.2 C937.7,184.7 938.3,184.1 939.0,183.5 C939.7,182.9 940.3,182.2 941.0,181.6 C941.7,180.9 942.3,180.3 943.0,179.6 C943.7,178.9 944.3,178.2 945.0,177.5 C945.7,176.8 946.3,176.1 947.0,175.3 C947.7,174.6 948.3,173.8 949.0,173.0 C949.7,172.2 950.3,171.4 951.0,170.6 C951.7,169.8 952.3,168.9 953.0,168.1 C953.7,167.2 954.3,166.3 955.0,165.4 C955.7,164.5 956.3,163.6 957.0,162.7 C957.7,161.7 958.3,160.7 959.0,159.8 C959.7,158.8 960.3,157.8 961.0,156.8 C961.7,155.8 962.3,154.7 963.0,153.7 C963.7,152.6 964.3,151.5 965.0,150.4 C965.7,149.4 966.3,148.2 967.0,147.1 C967.7,146.0 968.3,144.8 969.0,143.7 C969.7,142.5 970.3,141.3 971.0,140.1 C971.7,138.9 972.3,137.7 973.0,136.5 C973.7,135.3 974.3,134.0 975.0,132.8 C975.7,131.5 976.3,130.2 977.0,128.9 C977.7,127.7 978.3,126.4 979.0,125.0 C979.7,123.7 980.3,122.4 981.0,121.1 C981.7,119.7 982.3,118.4 983.0,117.0 C983.7,115.6 984.3,114.3 985.0,112.9 C985.7,111.5 986.3,110.1 987.0,108.7 C987.7,107.3 988.3,105.9 989.0,104.5 C989.7,103.1 990.3,101.7 991.0,100.3 C991.7,98.8 992.3,97.4 993.0,96.0 C993.7,94.6 994.3,93.1 995.0,91.7 C995.7,90.3 996.3,88.9 997.0,87.4 C997.7,86.0 998.3,84.6 999.0,83.1 C999.7,81.7 1000.3,80.3 1001.0,78.9 C1001.7,77.5 1002.3,76.1 1003.0,74.7 C1003.7,73.3 1004.3,71.9 1005.0,70.5 C1005.7,69.1 1006.3,67.7 1007.0,66.4 C1007.7,65.0 1008.3,63.7 1009.0,62.3 C1009.7,61.0 1010.3,59.7 1011.0,58.4 C1011.7,57.1 1012.3,55.8 1013.0,54.5 C1013.7,53.3 1014.3,52.0 1015.0,50.8 C1015.7,49.6 1016.3,48.4 1017.0,47.2 C1017.7,46.0 1018.3,44.8 1019.0,43.7 C1019.7,42.6 1020.3,41.5 1021.0,40.4 C1021.7,39.3 1022.3,38.2 1023.0,37.2 C1023.7,36.2 1024.3,35.2 1025.0,34.2 C1025.7,33.3 1026.3,32.3 1027.0,31.4 C1027.7,30.6 1028.3,29.7 1029.0,28.9 C1029.7,28.0 1030.3,27.2 1031.0,26.5 C1031.7,25.7 1032.3,25.0 1033.0,24.4 C1033.7,23.7 1034.3,23.1 1035.0,22.5 C1035.7,21.9 1036.3,21.3 1037.0,20.8 C1037.7,20.3 1038.3,19.8 1039.0,19.4 C1039.7,19.0 1040.3,18.6 1041.0,18.2 C1041.7,17.9 1042.3,17.6 1043.0,17.3 C1043.7,17.1 1044.3,16.8 1045.0,16.7 C1045.7,16.5 1046.3,16.4 1047.0,16.3 C1047.7,16.2 1048.3,16.2 1049.0,16.2 C1049.7,16.2 1050.3,16.2 1051.0,16.3 C1051.7,16.4 1052.3,16.6 1053.0,16.7 C1053.7,16.9 1054.3,17.1 1055.0,17.4 C1055.7,17.7 1056.3,18.0 1057.0,18.3 C1057.7,18.7 1058.3,19.1 1059.0,19.5 C1059.7,19.9 1060.3,20.4 1061.0,20.9 C1061.7,21.4 1062.3,22.0 1063.0,22.6 C1063.7,23.2 1064.3,23.8 1065.0,24.5 C1065.7,25.1 1066.3,25.8 1067.0,26.6 C1067.7,27.3 1068.3,28.1 1069.0,28.9 C1069.7,29.7 1070.3,30.5 1071.0,31.4 C1071.7,32.2 1072.3,33.1 1073.0,34.1 C1073.7,35.0 1074.3,35.9 1075.0,36.9 C1075.7,37.9 1076.3,38.9 1077.0,39.9 C1077.7,40.9 1078.3,42.0 1079.0,43.0 C1079.7,44.1 1080.3,45.2 1081.0,46.3 C1081.7,47.4 1082.3,48.5 1083.0,49.6 C1083.7,50.8 1084.3,51.9 1085.0,53.1 C1085.7,54.2 1086.3,55.4 1087.0,56.6 C1087.7,57.8 1088.3,59.0 1089.0,60.2 C1089.7,61.3 1090.3,62.6 1091.0,63.8 C1091.7,65.0 1092.3,66.2 1093.0,67.4 C1093.7,68.6 1094.3,69.8 1095.0,71.0 C1095.7,72.2 1096.3,73.4 1097.0,74.6 C1097.7,75.8 1098.3,77.0 1099.0,78.1 C1099.7,79.3 1100.3,80.5 1101.0,81.6 C1101.7,82.8 1102.3,83.9 1103.0,85.1 C1103.7,86.2 1104.3,87.3 1105.0,88.4 C1105.7,89.5 1106.3,90.6 1107.0,91.7 C1107.7,92.7 1108.3,93.8 1109.0,94.8 C1109.7,95.8 1110.3,96.8 1111.0,97.8 C1111.7,98.8 1112.3,99.7 1113.0,100.6 C1113.7,101.6 1114.3,102.5 1115.0,103.3 C1115.7,104.2 1116.3,105.0 1117.0,105.9 C1117.7,106.7 1118.3,107.4 1119.0,108.2 C1119.7,108.9 1120.3,109.7 1121.0,110.3 C1121.7,111.0 1122.3,111.7 1123.0,112.3 C1123.7,112.9 1124.3,113.5 1125.0,114.0 C1125.7,114.6 1126.3,115.1 1127.0,115.6 C1127.7,116.0 1128.3,116.5 1129.0,116.9 C1129.7,117.3 1130.3,117.6 1131.0,118.0 C1131.7,118.3 1132.3,118.6 1133.0,118.8 C1133.7,119.1 1134.3,119.3 1135.0,119.5 C1135.7,119.6 1136.3,119.8 1137.0,119.9 C1137.7,120.0 1138.3,120.1 1139.0,120.1 C1139.7,120.1 1140.3,120.1 1141.0,120.1 C1141.7,120.1 1142.3,120.0 1143.0,119.9 C1143.7,119.8 1144.3,119.7 1145.0,119.5 C1145.7,119.3 1146.3,119.1 1147.0,118.9 C1147.7,118.7 1148.3,118.4 1149.0,118.1 C1149.7,117.9 1150.3,117.5 1151.0,117.2 C1151.7,116.9 1152.3,116.5 1153.0,116.1 C1153.7,115.7 1154.3,115.3 1155.0,114.9 C1155.7,114.4 1156.3,114.0 1157.0,113.5 C1157.7,113.0 1158.3,112.6 1159.0,112.1 C1159.7,111.6 1160.3,111.1 1161.0,110.5 C1161.7,110.0 1162.3,109.5 1163.0,109.0 C1163.7,108.4 1164.3,107.9 1165.0,107.3 C1165.7,106.8 1166.3,106.2 1167.0,105.7 C1167.7,105.1 1168.3,104.6 1169.0,104.0 C1169.7,103.5 1170.3,102.9 1171.0,102.4 C1171.7,101.9 1172.3,101.3 1173.0,100.8 C1173.7,100.3 1174.3,99.8 1175.0,99.3 C1175.7,98.8 1176.3,98.3 1177.0,97.8 C1177.7,97.4 1178.3,96.9 1179.0,96.5 C1179.7,96.1 1180.3,95.7 1181.0,95.3 C1181.7,94.9 1182.3,94.5 1183.0,94.2 C1183.7,93.8 1184.3,93.5 1185.0,93.2 C1185.7,93.0 1186.3,92.7 1187.0,92.5 C1187.7,92.3 1188.3,92.1 1189.0,91.9 C1189.7,91.7 1190.3,91.6 1191.0,91.5 C1191.7,91.4 1192.3,91.4 1193.0,91.3 C1193.7,91.3 1194.3,91.3 1195.0,91.4 C1195.7,91.4 1196.3,91.5 1197.0,91.6 C1197.7,91.7 1198.3,91.9 1199.0,92.1 C1199.7,92.3 1200.3,92.5 1201.0,92.8 C1201.7,93.0 1202.3,93.3 1203.0,93.6 C1203.7,93.9 1204.3,94.3 1205.0,94.7 C1205.7,95.1 1206.3,95.5 1207.0,95.9 C1207.7,96.4 1208.3,96.9 1209.0,97.4 C1209.7,97.9 1210.3,98.4 1211.0,99.0 C1211.7,99.6 1212.3,100.2 1213.0,100.8 C1213.7,101.4 1214.3,102.1 1215.0,102.8 C1215.7,103.5 1216.3,104.2 1217.0,104.9 C1217.7,105.7 1218.3,106.4 1219.0,107.2 C1219.7,108.0 1220.3,108.8 1221.0,109.7 C1221.7,110.5 1222.3,111.4 1223.0,112.3 C1223.7,113.2 1224.3,114.1 1225.0,115.0 C1225.7,115.9 1226.3,116.8 1227.0,117.8 C1227.7,118.8 1228.3,119.7 1229.0,120.7 C1229.7,121.7 1230.3,122.7 1231.0,123.7 C1231.7,124.7 1232.3,125.8 1233.0,126.8 C1233.7,127.8 1234.3,128.9 1235.0,129.9 C1235.7,131.0 1236.3,132.1 1237.0,133.1 C1237.7,134.2 1238.3,135.3 1239.0,136.4 C1239.7,137.4 1240.3,138.5 1241.0,139.6 C1241.7,140.7 1242.3,141.8 1243.0,142.8 C1243.7,143.9 1244.3,145.0 1245.0,146.1 C1245.7,147.2 1246.3,148.2 1247.0,149.3 C1247.7,150.4 1248.3,151.5 1249.0,152.5 C1249.7,153.6 1250.3,154.6 1251.0,155.7 C1251.7,156.7 1252.3,157.7 1253.0,158.8 C1253.7,159.8 1254.3,160.8 1255.0,161.8 C1255.7,162.8 1256.3,163.8 1257.0,164.8 C1257.7,165.8 1258.3,166.7 1259.0,167.7 C1259.7,168.6 1260.3,169.6 1261.0,170.5 C1261.7,171.4 1262.3,172.4 1263.0,173.3 C1263.7,174.2 1264.3,175.0 1265.0,175.9 C1265.7,176.8 1266.3,177.6 1267.0,178.5 C1267.7,179.3 1268.3,180.1 1269.0,180.9 C1269.7,181.7 1270.3,182.5 1271.0,183.3 C1271.7,184.1 1272.3,184.8 1273.0,185.5 C1273.7,186.3 1274.3,187.0 1275.0,187.7 C1275.7,188.4 1276.3,189.1 1277.0,189.7 C1277.7,190.4 1278.3,191.1 1279.0,191.7 C1279.7,192.3 1280.3,192.9 1281.0,193.5 C1281.7,194.1 1282.3,194.7 1283.0,195.3 C1283.7,195.8 1284.3,196.4 1285.0,196.9 C1285.7,197.4 1286.3,198.0 1287.0,198.5 C1287.7,198.9 1288.3,199.4 1289.0,199.9 C1289.7,200.4 1290.3,200.8 1291.0,201.2 C1291.7,201.7 1292.3,202.1 1293.0,202.5 C1293.7,202.9 1294.3,203.3 1295.0,203.7 C1295.7,204.1 1296.3,204.4 1297.0,204.8 C1297.7,205.1 1298.3,205.5 1299.0,205.8 C1299.7,206.1 1300.3,206.4 1301.0,206.7 C1301.7,207.0 1302.3,207.3 1303.0,207.6 C1303.7,207.8 1304.3,208.1 1305.0,208.4 C1305.7,208.6 1306.3,208.9 1307.0,209.1 C1307.7,209.3 1308.3,209.5 1309.0,209.8 C1309.7,210.0 1310.3,210.2 1311.0,210.4 C1311.7,210.6 1312.3,210.7 1313.0,210.9 C1313.7,211.1 1314.3,211.3 1315.0,211.4 C1315.7,211.6 1316.3,211.7 1317.0,211.9 C1317.7,212.0 1318.3,212.2 1319.0,212.3 C1319.7,212.4 1320.3,212.6 1321.0,212.7 C1321.7,212.8 1322.3,212.9 1323.0,213.0 C1323.7,213.1 1324.3,213.3 1325.0,213.3 C1325.7,213.4 1326.3,213.5 1327.0,213.6 C1327.7,213.7 1328.3,213.8 1329.0,213.9 C1329.7,214.0 1330.3,214.0 1331.0,214.1 C1331.7,214.2 1332.3,214.2 1333.0,214.3 C1333.7,214.4 1334.3,214.4 1335.0,214.5 C1335.7,214.5 1336.3,214.6 1337.0,214.7 C1337.7,214.7 1338.3,214.8 1339.0,214.8 C1339.7,214.8 1340.3,214.9 1341.0,214.9 C1341.7,215.0 1342.3,215.0 1343.0,215.0 C1343.7,215.1 1344.3,215.1 1345.0,215.2 C1345.7,215.2 1346.3,215.2 1347.0,215.2 C1347.7,215.3 1348.3,215.3 1349.0,215.3 C1349.7,215.4 1350.3,215.4 1351.0,215.4 C1351.7,215.4 1352.3,215.5 1353.0,215.5 C1353.7,215.5 1354.3,215.5 1355.0,215.5 C1355.7,215.6 1356.3,215.6 1357.0,215.6 C1357.7,215.6 1358.3,215.6 1359.0,215.6 C1359.7,215.7 1360.3,215.7 1361.0,215.7 C1361.7,215.7 1362.3,215.7 1363.0,215.7 C1363.7,215.7 1364.3,215.7 1365.0,215.8 C1365.7,215.8 1366.3,215.8 1367.0,215.8 C1367.7,215.8 1368.3,215.8 1369.0,215.8 C1369.7,215.8 1370.3,215.8 1371.0,215.8 C1371.7,215.9 1372.3,215.9 1373.0,215.9 C1373.7,215.9 1374.3,215.9 1375.0,215.9 C1375.7,215.9 1376.3,215.9 1377.0,215.9 C1377.7,215.9 1378.3,215.9 1379.0,215.9 C1379.7,215.9 1380.3,216.0 1381.0,216.0 C1381.7,216.0 1382.3,216.0 1383.0,216.0 C1383.7,216.0 1384.3,216.0 1385.0,216.0 C1385.7,216.0 1386.3,216.0 1387.0,216.0 C1387.7,216.0 1388.3,216.0 1389.0,216.0 C1389.7,216.0 1390.3,216.0 1391.0,216.0 C1391.7,216.1 1392.3,216.1 1393.0,216.1 C1393.7,216.1 1394.3,216.1 1395.0,216.1 C1395.7,216.1 1396.3,216.1 1397.0,216.1 C1397.7,216.1 1398.3,216.1 1399.0,216.1 C1399.7,216.1 1400.3,216.1 1401.0,216.1 C1401.7,216.1 1402.3,216.1 1403.0,216.1 C1403.7,216.1 1404.3,216.1 1405.0,216.1 C1405.7,216.2 1406.3,216.2 1407.0,216.2 C1407.7,216.2 1408.3,216.2 1409.0,216.2 C1409.7,216.2 1410.3,216.2 1411.0,216.2 C1411.7,216.2 1412.3,216.2 1413.0,216.2 C1413.7,216.2 1414.3,216.2 1415.0,216.2 C1415.7,216.2 1416.3,216.2 1417.0,216.2 C1417.7,216.2 1418.3,216.2 1419.0,216.2 C1419.7,216.2 1420.3,216.3 1421.0,216.3 C1421.7,216.3 1422.3,216.3 1423.0,216.3 C1423.7,216.3 1424.3,216.3 1425.0,216.3 C1425.7,216.3 1426.3,216.3 1427.0,216.3 C1427.7,216.3 1428.3,216.3 1429.0,216.3 C1429.7,216.3 1430.3,216.3 1431.0,216.3 C1431.7,216.3 1432.3,216.4 1433.0,216.3 C1433.7,216.3 1434.3,216.2 1435.0,216.1 C1435.7,216.0 1436.3,215.8 1437.0,215.6 C1437.7,215.3 1438.3,215.1 1439.0,214.6 C1439.7,214.1 1440.3,213.2 1441.0,212.5 C1441.7,211.7 1442.3,211.0 1443.0,210.3 C1443.7,209.6 1444.3,208.8 1445.0,208.1 C1445.7,207.4 1446.7,206.3 1447.0,206.0" fill="none" stroke="#858585" stroke-width="2.3" stroke-linejoin="round"/>
<path d="M825.6,476.5 C825.9,477.5 826.3,480.7 827.2,482.4 C828.1,484.1 829.2,485.8 830.8,486.6 C832.4,487.4 835.1,487.6 836.9,487.3 C838.7,487.0 840.1,486.2 841.7,484.8 C843.3,483.4 845.0,480.3 846.5,478.8 C848.0,477.3 849.4,475.6 850.7,475.8 C852.0,476.0 853.2,478.1 854.3,480.0 C855.4,481.9 856.3,486.0 857.3,487.3 C858.3,488.6 859.4,489.5 860.3,487.9 C861.2,486.3 861.8,480.7 862.7,477.6 C863.6,474.5 864.8,470.7 865.7,469.2 C866.6,467.7 867.3,467.8 868.2,468.6 C869.1,469.4 870.2,471.9 871.2,474.0 C872.2,476.1 873.1,480.8 874.2,481.2 C875.3,481.6 876.4,478.3 877.8,476.4 C879.2,474.5 880.8,471.3 882.6,469.8 C884.4,468.3 886.8,467.3 888.6,467.4 C890.4,467.5 891.8,468.9 893.4,470.4 C895.0,471.9 896.7,474.8 898.3,476.4 C899.9,478.0 901.8,479.6 903.1,480.0 C904.4,480.4 905.1,480.6 906.1,478.8 C907.1,477.0 908.0,471.9 909.1,469.2 C910.2,466.5 911.5,463.6 912.7,462.6 C913.9,461.6 915.1,461.9 916.3,463.2 C917.5,464.5 918.7,468.6 919.9,470.4 C921.1,472.2 922.3,473.5 923.5,474.0 C924.7,474.5 926.0,474.4 927.2,473.4 C928.4,472.4 929.6,471.3 930.8,468.0 C932.0,464.7 933.2,457.1 934.4,453.5 C935.6,449.9 936.8,447.1 938.0,446.3 C939.2,445.5 940.3,447.3 941.6,448.7 C942.9,450.1 944.3,453.5 945.8,454.7 C947.3,455.9 949.3,457.1 950.6,455.9 C951.9,454.7 952.6,452.3 953.6,447.5 C954.6,442.7 955.6,432.9 956.6,427.1 C957.6,421.3 958.7,415.2 959.7,412.6 C960.7,410.0 961.7,409.8 962.7,411.4 C963.7,413.0 964.6,418.6 965.7,422.2 C966.8,425.8 968.3,432.1 969.3,433.1 C970.3,434.1 970.8,432.5 971.7,428.3 C972.6,424.1 973.7,412.6 974.7,407.8 C975.7,403.0 976.4,401.4 977.7,399.4 C979.0,397.4 980.9,397.5 982.5,395.7 C984.1,393.9 985.9,390.5 987.3,388.5 C988.7,386.5 989.8,384.3 990.9,383.7 C992.0,383.1 993.0,384.0 994.0,384.9 C995.0,385.8 996.1,389.1 997.2,389.2 C998.3,389.3 999.6,388.6 1000.8,385.6 C1002.0,382.6 1003.2,376.3 1004.4,371.1 C1005.6,365.9 1007.0,359.3 1008.1,354.3 C1009.2,349.3 1010.1,345.0 1011.1,341.0 C1012.1,337.0 1013.0,333.4 1014.1,330.2 C1015.2,327.0 1016.5,324.2 1017.7,321.8 C1018.9,319.4 1019.9,317.9 1021.3,315.7 C1022.7,313.5 1024.5,311.1 1026.1,308.5 C1027.7,305.9 1029.5,302.7 1030.9,300.1 C1032.3,297.5 1033.3,294.4 1034.5,292.9 C1035.7,291.4 1037.2,290.7 1038.2,291.1 C1039.2,291.5 1039.7,292.8 1040.6,295.3 C1041.5,297.8 1042.6,303.9 1043.6,306.1 C1044.6,308.3 1045.6,309.3 1046.6,308.5 C1047.6,307.7 1048.6,303.9 1049.6,301.3 C1050.6,298.7 1051.6,294.5 1052.6,292.9 C1053.6,291.3 1054.5,291.1 1055.6,291.7 C1056.7,292.3 1058.1,295.3 1059.2,296.5 C1060.3,297.7 1061.1,298.8 1062.2,298.9 C1063.3,299.0 1064.6,298.0 1065.8,297.1 C1067.0,296.2 1068.4,295.0 1069.5,293.5 C1070.6,292.0 1071.7,289.8 1072.5,288.1 C1073.3,286.4 1073.5,284.3 1074.3,283.2 C1075.1,282.1 1076.3,281.2 1077.3,281.4 C1078.3,281.6 1079.3,282.7 1080.3,284.4 C1081.3,286.1 1082.3,289.8 1083.3,291.7 C1084.3,293.6 1085.0,294.7 1086.3,295.9 C1087.6,297.1 1089.7,297.6 1091.1,298.9 C1092.5,300.2 1093.5,301.5 1094.7,303.7 C1095.9,305.9 1097.2,309.9 1098.4,312.1 C1099.6,314.3 1100.8,315.6 1102.0,317.0 C1103.2,318.4 1104.4,319.8 1105.6,320.6 C1106.8,321.4 1108.0,322.0 1109.2,321.8 C1110.4,321.6 1111.6,319.6 1112.8,319.4 C1114.0,319.2 1115.3,319.4 1116.4,320.6 C1117.5,321.8 1118.4,324.2 1119.4,326.6 C1120.4,329.0 1121.3,332.8 1122.4,335.0 C1123.5,337.2 1124.8,338.8 1126.0,339.8 C1127.2,340.8 1128.5,341.2 1129.7,341.0 C1130.9,340.8 1132.2,340.4 1133.3,338.6 C1134.4,336.8 1135.2,333.0 1136.3,330.2 C1137.4,327.4 1138.5,324.0 1140.0,321.8 C1141.5,319.6 1143.6,318.6 1145.3,317.0 C1147.0,315.4 1148.7,313.3 1150.1,312.1 C1151.5,310.9 1152.4,309.1 1153.6,309.7 C1154.8,310.3 1156.1,313.3 1157.2,315.7 C1158.3,318.1 1159.2,322.3 1160.2,324.2 C1161.2,326.1 1162.1,327.8 1163.2,327.2 C1164.3,326.6 1165.5,323.3 1166.9,320.6 C1168.3,317.9 1170.1,313.9 1171.7,310.9 C1173.3,307.9 1174.9,305.3 1176.5,302.5 C1178.1,299.7 1179.7,296.9 1181.3,294.1 C1182.9,291.3 1184.5,287.9 1186.1,285.7 C1187.7,283.5 1189.3,281.8 1190.9,280.8 C1192.5,279.8 1194.1,279.4 1195.7,279.6 C1197.3,279.8 1199.2,280.6 1200.6,282.0 C1202.0,283.4 1203.2,285.7 1204.2,288.1 C1205.2,290.5 1205.8,293.5 1206.6,296.5 C1207.4,299.5 1208.2,303.9 1209.0,306.1 C1209.8,308.3 1210.3,309.0 1211.4,309.7 C1212.5,310.4 1214.2,309.3 1215.6,310.3 C1217.0,311.3 1218.3,313.0 1219.8,315.7 C1221.3,318.4 1222.6,321.8 1224.6,326.6 C1226.6,331.4 1229.5,338.4 1231.9,344.6 C1234.3,350.8 1236.7,357.5 1239.1,363.9 C1241.5,370.3 1244.3,377.5 1246.3,383.2 C1248.3,388.9 1249.3,393.2 1251.0,398.0 C1252.7,402.8 1254.4,407.3 1256.2,411.8 C1258.0,416.3 1260.1,421.3 1262.1,425.0 C1264.1,428.7 1265.8,431.8 1268.0,433.8 C1270.2,435.8 1273.1,435.6 1275.3,436.8 C1277.5,438.0 1279.2,438.8 1281.2,441.2 C1283.2,443.6 1285.1,447.8 1287.1,451.5 C1289.1,455.2 1291.0,458.6 1293.0,463.3 C1295.0,468.0 1296.9,474.6 1298.9,479.5 C1300.9,484.4 1303.0,489.8 1304.8,492.7 C1306.6,495.6 1308.4,497.6 1309.9,497.1 C1311.4,496.6 1312.4,493.0 1313.6,489.8 C1314.8,486.6 1315.9,480.2 1317.3,478.0 C1318.7,475.8 1320.2,476.0 1321.7,476.5 C1323.2,477.0 1324.8,480.9 1326.1,480.9 C1327.4,480.9 1328.4,477.7 1329.8,476.5 C1331.2,475.3 1332.7,473.1 1334.2,473.6 C1335.7,474.1 1337.1,477.3 1338.6,479.5 C1340.1,481.7 1341.3,485.3 1343.0,486.8 C1344.7,488.3 1346.9,488.8 1348.9,488.3 C1350.9,487.8 1353.1,484.6 1354.8,483.9 C1356.5,483.2 1357.7,482.4 1359.2,483.9 C1360.7,485.4 1362.1,491.0 1363.6,492.7 C1365.1,494.4 1366.3,494.9 1368.0,494.2 C1369.7,493.5 1371.9,490.8 1373.9,488.3 C1375.9,485.9 1377.6,482.4 1379.8,479.5 C1382.0,476.6 1384.9,472.7 1387.2,470.6 C1389.5,468.5 1392.0,466.8 1393.8,467.0 C1395.6,467.2 1396.8,469.3 1398.2,472.1 C1399.6,474.9 1400.6,480.7 1401.9,483.9 C1403.2,487.1 1404.6,490.5 1406.3,491.2 C1408.0,491.9 1410.3,490.2 1412.2,488.3 C1414.1,486.4 1415.8,481.1 1417.8,479.5 C1419.8,477.9 1422.2,478.0 1424.0,478.7 C1425.8,479.4 1426.9,481.7 1428.4,483.9 C1429.9,486.1 1431.3,491.8 1432.8,492.0 C1434.3,492.2 1435.8,488.7 1437.2,485.4 C1438.6,482.1 1439.7,474.9 1440.9,472.1 C1442.1,469.3 1443.6,468.4 1444.6,468.4 C1445.6,468.4 1446.4,471.5 1446.8,472.1" fill="none" stroke="#000" stroke-width="4.4" stroke-linejoin="round" stroke-linecap="butt"/>
<path d="M825.0,485.1 L829.0,485.1 L833.0,485.0 L837.0,485.0 L841.0,485.0 L845.0,484.9 L849.0,484.9 L853.0,484.9 L857.0,484.8 L861.0,484.8 L865.0,484.7 L869.0,484.7 L873.0,484.7 L877.0,484.6 L881.0,484.6 L885.0,484.6 L889.0,484.5 L893.0,484.5 L897.0,484.5 L901.0,484.4 L905.0,484.4 L909.0,484.4 L913.0,484.3 L917.0,484.3 L921.0,484.3 L925.0,484.2 L929.0,484.2 L933.0,484.2 L937.0,484.1 L941.0,484.1 L945.0,484.0 L949.0,484.0 L953.0,484.0 L957.0,483.9 L961.0,483.9 L965.0,483.9 L969.0,483.8 L973.0,483.8 L977.0,483.8 L981.0,483.7 L985.0,483.7 L989.0,483.7 L993.0,483.6 L997.0,483.6 L1001.0,483.6 L1005.0,483.5 L1009.0,483.5 L1013.0,483.4 L1017.0,483.4 L1021.0,483.4 L1025.0,483.3 L1029.0,483.3 L1033.0,483.3 L1037.0,483.2 L1041.0,483.2 L1045.0,483.1 L1049.0,483.1 L1053.0,483.0 L1057.0,483.0 L1061.0,482.9 L1065.0,482.9 L1069.0,482.9 L1073.0,482.8 L1077.0,482.8 L1081.0,482.7 L1085.0,482.7 L1089.0,482.6 L1093.0,482.6 L1097.0,482.5 L1101.0,482.5 L1105.0,482.4 L1109.0,482.4 L1113.0,482.4 L1117.0,482.3 L1121.0,482.3 L1125.0,482.2 L1129.0,482.2 L1133.0,482.1 L1137.0,482.1 L1141.0,482.0 L1145.0,482.0 L1149.0,481.9 L1153.0,481.9 L1157.0,481.8 L1161.0,481.8 L1165.0,481.8 L1169.0,481.7 L1173.0,481.7 L1177.0,481.6 L1181.0,481.6 L1185.0,481.5 L1189.0,481.5 L1193.0,481.4 L1197.0,481.4 L1201.0,481.3 L1205.0,481.3 L1209.0,481.3 L1213.0,481.2 L1217.0,481.2 L1221.0,481.1 L1225.0,481.1 L1229.0,481.0 L1233.0,481.0 L1237.0,480.9 L1241.0,480.9 L1245.0,480.9 L1249.0,480.9 L1253.0,480.9 L1257.0,480.9 L1261.0,480.9 L1265.0,480.9 L1269.0,480.9 L1273.0,480.8 L1277.0,480.8 L1281.0,480.8 L1285.0,480.8 L1289.0,480.8 L1293.0,480.8 L1297.0,480.8 L1301.0,480.8 L1305.0,480.8 L1309.0,480.8 L1313.0,480.8 L1317.0,480.8 L1321.0,480.8 L1325.0,480.8 L1329.0,480.8 L1333.0,480.8 L1337.0,480.7 L1341.0,480.7 L1345.0,480.7 L1349.0,480.7 L1353.0,480.7 L1357.0,480.7 L1361.0,480.7 L1365.0,480.7 L1369.0,480.7 L1373.0,480.7 L1377.0,480.7 L1381.0,480.7 L1385.0,480.7 L1389.0,480.7 L1393.0,480.7 L1397.0,480.7 L1401.0,480.6 L1405.0,480.6 L1409.0,480.6 L1413.0,480.6 L1417.0,480.6 L1421.0,480.6 L1425.0,480.6 L1429.0,480.6 L1433.0,480.5 L1437.0,478.0 L1441.0,472.0 L1445.0,469.1 L1446.8,472.1" fill="none" stroke="#858585" stroke-width="2.2"/>
<path d="M825.0,485.1 L827.0,485.0 L829.0,485.0 L831.0,485.0 L833.0,485.0 L835.0,485.0 L837.0,484.9 L839.0,484.9 L841.0,484.9 L843.0,484.8 L845.0,484.8 L847.0,484.8 L849.0,484.7 L851.0,484.7 L853.0,484.6 L855.0,484.6 L857.0,484.5 L859.0,484.5 L861.0,484.4 L863.0,484.4 L865.0,484.3 L867.0,484.2 L869.0,484.1 L871.0,484.0 L873.0,483.9 L875.0,483.8 L877.0,483.7 L879.0,483.6 L881.0,483.4 L883.0,483.2 L885.0,483.1 L887.0,482.9 L889.0,482.7 L891.0,482.4 L893.0,482.2 L895.0,481.9 L897.0,481.6 L899.0,481.2 L901.0,480.9 L903.0,480.5 L905.0,480.0 L907.0,479.6 L909.0,479.0 L911.0,478.5 L913.0,477.9 L915.0,477.2 L917.0,476.5 L919.0,475.7 L921.0,474.9 L923.0,474.0 L925.0,473.1 L927.0,472.1 L929.0,471.0 L931.0,469.8 L933.0,468.6 L935.0,467.2 L937.0,465.8 L939.0,464.3 L941.0,462.7 L943.0,461.0 L945.0,459.2 L947.0,457.3 L949.0,455.3 L951.0,453.2 L953.0,450.9 L955.0,448.6 L957.0,446.2 L959.0,443.6 L961.0,440.9 L963.0,438.1 L965.0,435.2 L967.0,432.2 L969.0,429.0 L971.0,425.8 L973.0,422.4 L975.0,418.9 L977.0,415.4 L979.0,411.7 L981.0,407.9 L983.0,404.1 L985.0,400.1 L987.0,396.1 L989.0,392.0 L991.0,387.8 L993.0,383.6 L995.0,379.3 L997.0,375.0 L999.0,370.7 L1001.0,366.4 L1003.0,362.0 L1005.0,357.6 L1007.0,353.3 L1009.0,349.0 L1011.0,344.7 L1013.0,340.5 L1015.0,336.4 L1017.0,332.3 L1019.0,328.3 L1021.0,324.5 L1023.0,320.7 L1025.0,317.1 L1027.0,313.6 L1029.0,310.3 L1031.0,307.1 L1033.0,304.1 L1035.0,301.3 L1037.0,298.8 L1039.0,296.4 L1041.0,294.2 L1043.0,292.3 L1045.0,290.5 L1047.0,289.1 L1049.0,287.9 L1051.0,286.9 L1053.0,286.2 L1055.0,285.7 L1057.0,285.5 L1059.0,285.6 L1061.0,285.9 L1063.0,286.6 L1065.0,287.6 L1067.0,288.9 L1069.0,290.5 L1071.0,292.4 L1073.0,294.5 L1075.0,296.9 L1077.0,299.6 L1079.0,302.5 L1081.0,305.6 L1083.0,309.0 L1085.0,312.5 L1087.0,316.3 L1089.0,320.2 L1091.0,324.3 L1093.0,328.5 L1095.0,332.8 L1097.0,337.2 L1099.0,341.8 L1101.0,346.4 L1103.0,351.0 L1105.0,355.7 L1107.0,360.4 L1109.0,365.1 L1111.0,369.8 L1113.0,374.5 L1115.0,379.2 L1117.0,383.8 L1119.0,388.3 L1121.0,392.8 L1123.0,397.2 L1125.0,401.5 L1127.0,405.7 L1129.0,409.8 L1131.0,413.8 L1133.0,417.6 L1135.0,421.4 L1137.0,425.0 L1139.0,428.4 L1141.0,431.8 L1143.0,435.0 L1145.0,438.0 L1147.0,440.9 L1149.0,443.7 L1151.0,446.4 L1153.0,448.9 L1155.0,451.3 L1157.0,453.5 L1159.0,455.7 L1161.0,457.7 L1163.0,459.5 L1165.0,461.3 L1167.0,462.9 L1169.0,464.5 L1171.0,465.9 L1173.0,467.2 L1175.0,468.5 L1177.0,469.6 L1179.0,470.7 L1181.0,471.7 L1183.0,472.6 L1185.0,473.4 L1187.0,474.1 L1189.0,474.8 L1191.0,475.5 L1193.0,476.0 L1195.0,476.6 L1197.0,477.0 L1199.0,477.5 L1201.0,477.9 L1203.0,478.2 L1205.0,478.5 L1207.0,478.8 L1209.0,479.1 L1211.0,479.3 L1213.0,479.5 L1215.0,479.7 L1217.0,479.8 L1219.0,480.0 L1221.0,480.1 L1223.0,480.2 L1225.0,480.3 L1227.0,480.3 L1229.0,480.4 L1231.0,480.5 L1233.0,480.5 L1235.0,480.5 L1237.0,480.6 L1239.0,480.6 L1241.0,480.6 L1243.0,480.7 L1245.0,480.7 L1247.0,480.7 L1249.0,480.7 L1251.0,480.8 L1253.0,480.8 L1255.0,480.8 L1257.0,480.8 L1259.0,480.8 L1261.0,480.8 L1263.0,480.8 L1265.0,480.8 L1267.0,480.8 L1269.0,480.8 L1271.0,480.8 L1273.0,480.8 L1275.0,480.8 L1277.0,480.8 L1279.0,480.8 L1281.0,480.8 L1283.0,480.8 L1285.0,480.8 L1287.0,480.8 L1289.0,480.8 L1291.0,480.8 L1293.0,480.8 L1295.0,480.8 L1297.0,480.8 L1299.0,480.8 L1301.0,480.8 L1303.0,480.8 L1305.0,480.8 L1307.0,480.8 L1309.0,480.8 L1311.0,480.8 L1313.0,480.8 L1315.0,480.8 L1317.0,480.8 L1319.0,480.8 L1321.0,480.8 L1323.0,480.8 L1325.0,480.8 L1327.0,480.8 L1329.0,480.8 L1331.0,480.8 L1333.0,480.8 L1335.0,480.8 L1337.0,480.7 L1339.0,480.7 L1341.0,480.7 L1343.0,480.7 L1345.0,480.7 L1347.0,480.7 L1349.0,480.7 L1351.0,480.7 L1353.0,480.7 L1355.0,480.7 L1357.0,480.7 L1359.0,480.7 L1361.0,480.7 L1363.0,480.7 L1365.0,480.7 L1367.0,480.7 L1369.0,480.7 L1371.0,480.7 L1373.0,480.7 L1375.0,480.7 L1377.0,480.7 L1379.0,480.7 L1381.0,480.7 L1383.0,480.7 L1385.0,480.7 L1387.0,480.7 L1389.0,480.7 L1391.0,480.7 L1393.0,480.7 L1395.0,480.7 L1397.0,480.7 L1399.0,480.7 L1401.0,480.6 L1403.0,480.6 L1405.0,480.6 L1407.0,480.6 L1409.0,480.6 L1411.0,480.6 L1413.0,480.6 L1415.0,480.6 L1417.0,480.6 L1419.0,480.6 L1421.0,480.6 L1423.0,480.6 L1425.0,480.6 L1427.0,480.6 L1429.0,480.6 L1431.0,480.6 L1433.0,480.5 L1435.0,479.2 L1437.0,478.0 L1439.0,475.0 L1441.0,472.0 L1443.0,470.0 L1445.0,469.1 L1446.8,472.1" fill="none" stroke="#858585" stroke-width="1.6"/>
<path d="M825.0,484.9 L827.0,484.9 L829.0,484.9 L831.0,484.8 L833.0,484.8 L835.0,484.8 L837.0,484.8 L839.0,484.8 L841.0,484.7 L843.0,484.7 L845.0,484.7 L847.0,484.7 L849.0,484.7 L851.0,484.6 L853.0,484.6 L855.0,484.6 L857.0,484.6 L859.0,484.6 L861.0,484.5 L863.0,484.5 L865.0,484.5 L867.0,484.5 L869.0,484.5 L871.0,484.4 L873.0,484.4 L875.0,484.4 L877.0,484.4 L879.0,484.4 L881.0,484.3 L883.0,484.3 L885.0,484.3 L887.0,484.3 L889.0,484.3 L891.0,484.2 L893.0,484.2 L895.0,484.2 L897.0,484.2 L899.0,484.1 L901.0,484.1 L903.0,484.1 L905.0,484.1 L907.0,484.1 L909.0,484.0 L911.0,484.0 L913.0,484.0 L915.0,484.0 L917.0,483.9 L919.0,483.9 L921.0,483.9 L923.0,483.9 L925.0,483.9 L927.0,483.8 L929.0,483.8 L931.0,483.8 L933.0,483.8 L935.0,483.7 L937.0,483.7 L939.0,483.7 L941.0,483.7 L943.0,483.6 L945.0,483.6 L947.0,483.6 L949.0,483.6 L951.0,483.5 L953.0,483.5 L955.0,483.5 L957.0,483.5 L959.0,483.4 L961.0,483.4 L963.0,483.4 L965.0,483.4 L967.0,483.3 L969.0,483.3 L971.0,483.3 L973.0,483.3 L975.0,483.2 L977.0,483.2 L979.0,483.2 L981.0,483.2 L983.0,483.1 L985.0,483.1 L987.0,483.1 L989.0,483.0 L991.0,483.0 L993.0,483.0 L995.0,482.9 L997.0,482.9 L999.0,482.9 L1001.0,482.8 L1003.0,482.8 L1005.0,482.8 L1007.0,482.7 L1009.0,482.7 L1011.0,482.6 L1013.0,482.6 L1015.0,482.5 L1017.0,482.5 L1019.0,482.4 L1021.0,482.4 L1023.0,482.3 L1025.0,482.2 L1027.0,482.2 L1029.0,482.1 L1031.0,482.0 L1033.0,481.9 L1035.0,481.8 L1037.0,481.6 L1039.0,481.5 L1041.0,481.3 L1043.0,481.2 L1045.0,481.0 L1047.0,480.8 L1049.0,480.6 L1051.0,480.3 L1053.0,480.0 L1055.0,479.7 L1057.0,479.4 L1059.0,479.0 L1061.0,478.6 L1063.0,478.2 L1065.0,477.7 L1067.0,477.2 L1069.0,476.6 L1071.0,475.9 L1073.0,475.2 L1075.0,474.5 L1077.0,473.6 L1079.0,472.7 L1081.0,471.7 L1083.0,470.6 L1085.0,469.4 L1087.0,468.1 L1089.0,466.8 L1091.0,465.3 L1093.0,463.7 L1095.0,462.0 L1097.0,460.1 L1099.0,458.1 L1101.0,456.0 L1103.0,453.8 L1105.0,451.4 L1107.0,448.9 L1109.0,446.2 L1111.0,443.4 L1113.0,440.4 L1115.0,437.3 L1117.0,434.0 L1119.0,430.6 L1121.0,427.0 L1123.0,423.3 L1125.0,419.4 L1127.0,415.5 L1129.0,411.3 L1131.0,407.1 L1133.0,402.7 L1135.0,398.3 L1137.0,393.7 L1139.0,389.1 L1141.0,384.4 L1143.0,379.6 L1145.0,374.8 L1147.0,370.0 L1149.0,365.2 L1151.0,360.4 L1153.0,355.6 L1155.0,350.9 L1157.0,346.2 L1159.0,341.6 L1161.0,337.2 L1163.0,332.9 L1165.0,328.7 L1167.0,324.7 L1169.0,320.9 L1171.0,317.3 L1173.0,313.9 L1175.0,310.8 L1177.0,307.9 L1179.0,305.4 L1181.0,303.1 L1183.0,301.2 L1185.0,299.5 L1187.0,298.2 L1189.0,297.3 L1191.0,296.7 L1193.0,296.4 L1195.0,296.5 L1197.0,297.0 L1199.0,297.7 L1201.0,298.8 L1203.0,300.2 L1205.0,301.9 L1207.0,303.9 L1209.0,306.2 L1211.0,308.8 L1213.0,311.7 L1215.0,314.8 L1217.0,318.1 L1219.0,321.6 L1221.0,325.4 L1223.0,329.3 L1225.0,333.3 L1227.0,337.5 L1229.0,341.8 L1231.0,346.3 L1233.0,350.8 L1235.0,355.3 L1237.0,360.0 L1239.0,364.6 L1241.0,369.2 L1243.0,373.9 L1245.0,378.6 L1247.0,383.2 L1249.0,387.7 L1251.0,392.2 L1253.0,396.6 L1255.0,400.9 L1257.0,405.2 L1259.0,409.3 L1261.0,413.3 L1263.0,417.2 L1265.0,420.9 L1267.0,424.6 L1269.0,428.1 L1271.0,431.4 L1273.0,434.6 L1275.0,437.7 L1277.0,440.6 L1279.0,443.4 L1281.0,446.1 L1283.0,448.6 L1285.0,450.9 L1287.0,453.2 L1289.0,455.2 L1291.0,457.2 L1293.0,459.1 L1295.0,460.8 L1297.0,462.4 L1299.0,463.9 L1301.0,465.3 L1303.0,466.6 L1305.0,467.8 L1307.0,468.9 L1309.0,469.9 L1311.0,470.9 L1313.0,471.7 L1315.0,472.5 L1317.0,473.2 L1319.0,473.9 L1321.0,474.5 L1323.0,475.1 L1325.0,475.6 L1327.0,476.0 L1329.0,476.4 L1331.0,476.8 L1333.0,477.1 L1335.0,477.4 L1337.0,477.7 L1339.0,477.9 L1341.0,478.2 L1343.0,478.4 L1345.0,478.5 L1347.0,478.7 L1349.0,478.8 L1351.0,479.0 L1353.0,479.1 L1355.0,479.2 L1357.0,479.3 L1359.0,479.4 L1361.0,479.4 L1363.0,479.5 L1365.0,479.6 L1367.0,479.6 L1369.0,479.7 L1371.0,479.7 L1373.0,479.7 L1375.0,479.8 L1377.0,479.8 L1379.0,479.8 L1381.0,479.9 L1383.0,479.9 L1385.0,479.9 L1387.0,479.9 L1389.0,479.9 L1391.0,479.9 L1393.0,480.0 L1395.0,480.0 L1397.0,480.0 L1399.0,480.0 L1401.0,480.0 L1403.0,480.0 L1405.0,480.0 L1407.0,480.0 L1409.0,480.0 L1411.0,480.1 L1413.0,480.1 L1415.0,480.1 L1417.0,480.1 L1419.0,480.1 L1421.0,480.1 L1423.0,480.1 L1425.0,480.1 L1427.0,480.1 L1429.0,480.1 L1431.0,480.1 L1433.0,480.0 L1435.0,478.8 L1437.0,477.5 L1439.0,474.5 L1441.0,471.5 L1443.0,469.6 L1445.0,468.6 L1446.8,471.7" fill="none" stroke="#858585" stroke-width="1.6"/>
<path d="M825.2,474.5 C825.6,475.7 826.6,479.9 827.5,481.5 C828.4,483.1 829.6,483.8 830.5,484.3 C831.4,484.8 832.2,484.7 833.0,484.8 C833.8,484.8 834.3,484.8 835.0,484.7 C835.7,484.7 836.3,484.7 837.0,484.7 C837.7,484.7 838.3,484.7 839.0,484.7 C839.7,484.7 840.3,484.7 841.0,484.7 C841.7,484.6 842.3,484.6 843.0,484.6 C843.7,484.6 844.3,484.6 845.0,484.6 C845.7,484.6 846.3,484.6 847.0,484.5 C847.7,484.5 848.3,484.5 849.0,484.5 C849.7,484.5 850.3,484.5 851.0,484.5 C851.7,484.4 852.3,484.4 853.0,484.4 C853.7,484.4 854.3,484.4 855.0,484.4 C855.7,484.3 856.3,484.3 857.0,484.3 C857.7,484.3 858.3,484.3 859.0,484.3 C859.7,484.2 860.3,484.2 861.0,484.2 C861.7,484.2 862.3,484.1 863.0,484.1 C863.7,484.1 864.3,484.1 865.0,484.0 C865.7,484.0 866.3,484.0 867.0,484.0 C867.7,483.9 868.3,483.9 869.0,483.9 C869.7,483.8 870.3,483.8 871.0,483.8 C871.7,483.7 872.3,483.7 873.0,483.7 C873.7,483.6 874.3,483.6 875.0,483.6 C875.7,483.5 876.3,483.5 877.0,483.4 C877.7,483.4 878.3,483.3 879.0,483.3 C879.7,483.2 880.3,483.2 881.0,483.1 C881.7,483.1 882.3,483.0 883.0,483.0 C883.7,482.9 884.3,482.9 885.0,482.8 C885.7,482.7 886.3,482.7 887.0,482.6 C887.7,482.5 888.3,482.4 889.0,482.4 C889.7,482.3 890.3,482.2 891.0,482.1 C891.7,482.0 892.3,482.0 893.0,481.9 C893.7,481.8 894.3,481.7 895.0,481.6 C895.7,481.5 896.3,481.4 897.0,481.3 C897.7,481.2 898.3,481.0 899.0,480.9 C899.7,480.8 900.3,480.7 901.0,480.6 C901.7,480.4 902.3,480.3 903.0,480.1 C903.7,480.0 904.3,479.9 905.0,479.7 C905.7,479.6 906.3,479.4 907.0,479.2 C907.7,479.1 908.3,478.9 909.0,478.7 C909.7,478.5 910.3,478.3 911.0,478.1 C911.7,477.9 912.3,477.7 913.0,477.5 C913.7,477.3 914.3,477.1 915.0,476.9 C915.7,476.6 916.3,476.4 917.0,476.2 C917.7,475.9 918.3,475.7 919.0,475.4 C919.7,475.1 920.3,474.9 921.0,474.6 C921.7,474.3 922.3,474.0 923.0,473.7 C923.7,473.4 924.3,473.1 925.0,472.7 C925.7,472.4 926.3,472.1 927.0,471.7 C927.7,471.3 928.3,471.0 929.0,470.6 C929.7,470.2 930.3,469.8 931.0,469.4 C931.7,469.0 932.3,468.6 933.0,468.2 C933.7,467.7 934.3,467.3 935.0,466.8 C935.7,466.4 936.3,465.9 937.0,465.4 C937.7,464.9 938.3,464.4 939.0,463.9 C939.7,463.4 940.3,462.8 941.0,462.3 C941.7,461.7 942.3,461.2 943.0,460.6 C943.7,460.0 944.3,459.4 945.0,458.8 C945.7,458.1 946.3,457.5 947.0,456.9 C947.7,456.2 948.3,455.5 949.0,454.8 C949.7,454.2 950.3,453.4 951.0,452.7 C951.7,452.0 952.3,451.2 953.0,450.5 C953.7,449.7 954.3,448.9 955.0,448.1 C955.7,447.3 956.3,446.5 957.0,445.7 C957.7,444.8 958.3,444.0 959.0,443.1 C959.7,442.2 960.3,441.3 961.0,440.4 C961.7,439.5 962.3,438.6 963.0,437.6 C963.7,436.7 964.3,435.7 965.0,434.7 C965.7,433.7 966.3,432.7 967.0,431.7 C967.7,430.6 968.3,429.6 969.0,428.5 C969.7,427.4 970.3,426.4 971.0,425.3 C971.7,424.2 972.3,423.0 973.0,421.9 C973.7,420.7 974.3,419.6 975.0,418.4 C975.7,417.2 976.3,416.0 977.0,414.8 C977.7,413.6 978.3,412.4 979.0,411.1 C979.7,409.9 980.3,408.6 981.0,407.4 C981.7,406.1 982.3,404.8 983.0,403.5 C983.7,402.2 984.3,400.9 985.0,399.5 C985.7,398.2 986.3,396.8 987.0,395.5 C987.7,394.1 988.3,392.7 989.0,391.4 C989.7,390.0 990.3,388.6 991.0,387.2 C991.7,385.8 992.3,384.4 993.0,383.0 C993.7,381.5 994.3,380.1 995.0,378.7 C995.7,377.2 996.3,375.8 997.0,374.4 C997.7,372.9 998.3,371.5 999.0,370.0 C999.7,368.6 1000.3,367.1 1001.0,365.6 C1001.7,364.2 1002.3,362.7 1003.0,361.3 C1003.7,359.8 1004.3,358.3 1005.0,356.9 C1005.7,355.4 1006.3,354.0 1007.0,352.5 C1007.7,351.1 1008.3,349.6 1009.0,348.2 C1009.7,346.8 1010.3,345.3 1011.0,343.9 C1011.7,342.5 1012.3,341.1 1013.0,339.7 C1013.7,338.3 1014.3,336.9 1015.0,335.5 C1015.7,334.1 1016.3,332.7 1017.0,331.4 C1017.7,330.0 1018.3,328.7 1019.0,327.4 C1019.7,326.0 1020.3,324.7 1021.0,323.5 C1021.7,322.2 1022.3,320.9 1023.0,319.7 C1023.7,318.4 1024.3,317.2 1025.0,316.0 C1025.7,314.8 1026.3,313.6 1027.0,312.4 C1027.7,311.3 1028.3,310.2 1029.0,309.0 C1029.7,307.9 1030.3,306.9 1031.0,305.8 C1031.7,304.8 1032.3,303.7 1033.0,302.7 C1033.7,301.8 1034.3,300.8 1035.0,299.9 C1035.7,298.9 1036.3,298.0 1037.0,297.2 C1037.7,296.3 1038.3,295.5 1039.0,294.7 C1039.7,293.9 1040.3,293.1 1041.0,292.4 C1041.7,291.6 1042.3,290.9 1043.0,290.3 C1043.7,289.6 1044.3,289.0 1045.0,288.4 C1045.7,287.8 1046.3,287.3 1047.0,286.8 C1047.7,286.2 1048.3,285.8 1049.0,285.3 C1049.7,284.9 1050.3,284.5 1051.0,284.1 C1051.7,283.8 1052.3,283.5 1053.0,283.2 C1053.7,282.9 1054.3,282.6 1055.0,282.4 C1055.7,282.2 1056.3,282.1 1057.0,281.9 C1057.7,281.8 1058.3,281.7 1059.0,281.6 C1059.7,281.6 1060.3,281.6 1061.0,281.6 C1061.7,281.7 1062.3,281.8 1063.0,281.9 C1063.7,282.0 1064.3,282.2 1065.0,282.4 C1065.7,282.7 1066.3,282.9 1067.0,283.2 C1067.7,283.5 1068.3,283.8 1069.0,284.2 C1069.7,284.6 1070.3,285.0 1071.0,285.5 C1071.7,285.9 1072.3,286.4 1073.0,286.9 C1073.7,287.4 1074.3,288.0 1075.0,288.6 C1075.7,289.2 1076.3,289.8 1077.0,290.4 C1077.7,291.1 1078.3,291.7 1079.0,292.4 C1079.7,293.1 1080.3,293.9 1081.0,294.6 C1081.7,295.3 1082.3,296.1 1083.0,296.9 C1083.7,297.7 1084.3,298.5 1085.0,299.3 C1085.7,300.1 1086.3,300.9 1087.0,301.8 C1087.7,302.6 1088.3,303.5 1089.0,304.3 C1089.7,305.2 1090.3,306.1 1091.0,306.9 C1091.7,307.8 1092.3,308.7 1093.0,309.6 C1093.7,310.4 1094.3,311.3 1095.0,312.2 C1095.7,313.1 1096.3,314.0 1097.0,314.8 C1097.7,315.7 1098.3,316.5 1099.0,317.4 C1099.7,318.2 1100.3,319.1 1101.0,319.9 C1101.7,320.7 1102.3,321.5 1103.0,322.3 C1103.7,323.1 1104.3,323.9 1105.0,324.7 C1105.7,325.4 1106.3,326.2 1107.0,326.9 C1107.7,327.6 1108.3,328.3 1109.0,328.9 C1109.7,329.6 1110.3,330.2 1111.0,330.8 C1111.7,331.5 1112.3,332.0 1113.0,332.6 C1113.7,333.1 1114.3,333.7 1115.0,334.1 C1115.7,334.6 1116.3,335.1 1117.0,335.5 C1117.7,335.9 1118.3,336.3 1119.0,336.6 C1119.7,337.0 1120.3,337.3 1121.0,337.6 C1121.7,337.8 1122.3,338.1 1123.0,338.3 C1123.7,338.4 1124.3,338.6 1125.0,338.7 C1125.7,338.8 1126.3,338.9 1127.0,339.0 C1127.7,339.0 1128.3,339.0 1129.0,338.9 C1129.7,338.9 1130.3,338.8 1131.0,338.7 C1131.7,338.6 1132.3,338.4 1133.0,338.2 C1133.7,338.0 1134.3,337.8 1135.0,337.5 C1135.7,337.3 1136.3,336.9 1137.0,336.6 C1137.7,336.3 1138.3,335.9 1139.0,335.5 C1139.7,335.0 1140.3,334.6 1141.0,334.1 C1141.7,333.6 1142.3,333.1 1143.0,332.6 C1143.7,332.0 1144.3,331.5 1145.0,330.9 C1145.7,330.3 1146.3,329.7 1147.0,329.0 C1147.7,328.4 1148.3,327.7 1149.0,327.0 C1149.7,326.3 1150.3,325.6 1151.0,324.9 C1151.7,324.1 1152.3,323.4 1153.0,322.6 C1153.7,321.8 1154.3,321.1 1155.0,320.3 C1155.7,319.5 1156.3,318.7 1157.0,317.9 C1157.7,317.1 1158.3,316.3 1159.0,315.5 C1159.7,314.7 1160.3,313.8 1161.0,313.0 C1161.7,312.2 1162.3,311.4 1163.0,310.6 C1163.7,309.8 1164.3,309.0 1165.0,308.2 C1165.7,307.4 1166.3,306.6 1167.0,305.9 C1167.7,305.1 1168.3,304.4 1169.0,303.6 C1169.7,302.9 1170.3,302.2 1171.0,301.5 C1171.7,300.8 1172.3,300.1 1173.0,299.5 C1173.7,298.8 1174.3,298.2 1175.0,297.6 C1175.7,297.0 1176.3,296.5 1177.0,295.9 C1177.7,295.4 1178.3,294.9 1179.0,294.5 C1179.7,294.0 1180.3,293.6 1181.0,293.2 C1181.7,292.8 1182.3,292.5 1183.0,292.2 C1183.7,291.9 1184.3,291.6 1185.0,291.4 C1185.7,291.2 1186.3,291.0 1187.0,290.9 C1187.7,290.8 1188.3,290.7 1189.0,290.6 C1189.7,290.6 1190.3,290.6 1191.0,290.7 C1191.7,290.8 1192.3,290.9 1193.0,291.0 C1193.7,291.2 1194.3,291.4 1195.0,291.7 C1195.7,291.9 1196.3,292.3 1197.0,292.6 C1197.7,293.0 1198.3,293.4 1199.0,293.8 C1199.7,294.3 1200.3,294.8 1201.0,295.3 C1201.7,295.9 1202.3,296.5 1203.0,297.1 C1203.7,297.7 1204.3,298.4 1205.0,299.2 C1205.7,299.9 1206.3,300.7 1207.0,301.5 C1207.7,302.3 1208.3,303.2 1209.0,304.1 C1209.7,305.0 1210.3,305.9 1211.0,306.9 C1211.7,307.9 1212.3,308.9 1213.0,309.9 C1213.7,311.0 1214.3,312.1 1215.0,313.2 C1215.7,314.4 1216.3,315.5 1217.0,316.7 C1217.7,317.9 1218.3,319.2 1219.0,320.4 C1219.7,321.7 1220.3,323.0 1221.0,324.3 C1221.7,325.6 1222.3,327.0 1223.0,328.3 C1223.7,329.7 1224.3,331.1 1225.0,332.5 C1225.7,333.9 1226.3,335.4 1227.0,336.8 C1227.7,338.3 1228.3,339.7 1229.0,341.2 C1229.7,342.7 1230.3,344.2 1231.0,345.7 C1231.7,347.2 1232.3,348.8 1233.0,350.3 C1233.7,351.8 1234.3,353.4 1235.0,354.9 C1235.7,356.5 1236.3,358.0 1237.0,359.6 C1237.7,361.2 1238.3,362.7 1239.0,364.3 C1239.7,365.8 1240.3,367.4 1241.0,369.0 C1241.7,370.5 1242.3,372.1 1243.0,373.7 C1243.7,375.2 1244.3,376.8 1245.0,378.4 C1245.7,379.9 1246.3,381.4 1247.0,383.0 C1247.7,384.5 1248.3,386.0 1249.0,387.6 C1249.7,389.1 1250.3,390.6 1251.0,392.1 C1251.7,393.6 1252.3,395.0 1253.0,396.5 C1253.7,398.0 1254.3,399.4 1255.0,400.8 C1255.7,402.3 1256.3,403.7 1257.0,405.1 C1257.7,406.5 1258.3,407.9 1259.0,409.2 C1259.7,410.6 1260.3,411.9 1261.0,413.2 C1261.7,414.6 1262.3,415.9 1263.0,417.1 C1263.7,418.4 1264.3,419.7 1265.0,420.9 C1265.7,422.1 1266.3,423.3 1267.0,424.5 C1267.7,425.7 1268.3,426.9 1269.0,428.0 C1269.7,429.2 1270.3,430.3 1271.0,431.4 C1271.7,432.5 1272.3,433.6 1273.0,434.6 C1273.7,435.7 1274.3,436.7 1275.0,437.7 C1275.7,438.7 1276.3,439.7 1277.0,440.6 C1277.7,441.6 1278.3,442.5 1279.0,443.4 C1279.7,444.3 1280.3,445.2 1281.0,446.0 C1281.7,446.9 1282.3,447.7 1283.0,448.5 C1283.7,449.4 1284.3,450.1 1285.0,450.9 C1285.7,451.7 1286.3,452.4 1287.0,453.1 C1287.7,453.9 1288.3,454.6 1289.0,455.2 C1289.7,455.9 1290.3,456.6 1291.0,457.2 C1291.7,457.9 1292.3,458.5 1293.0,459.1 C1293.7,459.7 1294.3,460.2 1295.0,460.8 C1295.7,461.3 1296.3,461.9 1297.0,462.4 C1297.7,462.9 1298.3,463.4 1299.0,463.9 C1299.7,464.4 1300.3,464.9 1301.0,465.3 C1301.7,465.7 1302.3,466.2 1303.0,466.6 C1303.7,467.0 1304.3,467.4 1305.0,467.8 C1305.7,468.2 1306.3,468.5 1307.0,468.9 C1307.7,469.3 1308.3,469.6 1309.0,469.9 C1309.7,470.2 1310.3,470.6 1311.0,470.9 C1311.7,471.2 1312.3,471.4 1313.0,471.7 C1313.7,472.0 1314.3,472.3 1315.0,472.5 C1315.7,472.8 1316.3,473.0 1317.0,473.2 C1317.7,473.5 1318.3,473.7 1319.0,473.9 C1319.7,474.1 1320.3,474.3 1321.0,474.5 C1321.7,474.7 1322.3,474.9 1323.0,475.1 C1323.7,475.2 1324.3,475.4 1325.0,475.5 C1325.7,475.7 1326.3,475.9 1327.0,476.0 C1327.7,476.1 1328.3,476.3 1329.0,476.4 C1329.7,476.5 1330.3,476.7 1331.0,476.8 C1331.7,476.9 1332.3,477.0 1333.0,477.1 C1333.7,477.2 1334.3,477.3 1335.0,477.4 C1335.7,477.5 1336.3,477.6 1337.0,477.7 C1337.7,477.8 1338.3,477.9 1339.0,477.9 C1339.7,478.0 1340.3,478.1 1341.0,478.2 C1341.7,478.2 1342.3,478.3 1343.0,478.4 C1343.7,478.4 1344.3,478.5 1345.0,478.5 C1345.7,478.6 1346.3,478.7 1347.0,478.7 C1347.7,478.8 1348.3,478.8 1349.0,478.8 C1349.7,478.9 1350.3,478.9 1351.0,479.0 C1351.7,479.0 1352.3,479.0 1353.0,479.1 C1353.7,479.1 1354.3,479.2 1355.0,479.2 C1355.7,479.2 1356.3,479.2 1357.0,479.3 C1357.7,479.3 1358.3,479.3 1359.0,479.4 C1359.7,479.4 1360.3,479.4 1361.0,479.4 C1361.7,479.5 1362.3,479.5 1363.0,479.5 C1363.7,479.5 1364.3,479.5 1365.0,479.6 C1365.7,479.6 1366.3,479.6 1367.0,479.6 C1367.7,479.6 1368.3,479.6 1369.0,479.7 C1369.7,479.7 1370.3,479.7 1371.0,479.7 C1371.7,479.7 1372.3,479.7 1373.0,479.7 C1373.7,479.7 1374.3,479.8 1375.0,479.8 C1375.7,479.8 1376.3,479.8 1377.0,479.8 C1377.7,479.8 1378.3,479.8 1379.0,479.8 C1379.7,479.8 1380.3,479.8 1381.0,479.9 C1381.7,479.9 1382.3,479.9 1383.0,479.9 C1383.7,479.9 1384.3,479.9 1385.0,479.9 C1385.7,479.9 1386.3,479.9 1387.0,479.9 C1387.7,479.9 1388.3,479.9 1389.0,479.9 C1389.7,479.9 1390.3,479.9 1391.0,479.9 C1391.7,480.0 1392.3,480.0 1393.0,480.0 C1393.7,480.0 1394.3,480.0 1395.0,480.0 C1395.7,480.0 1396.3,480.0 1397.0,480.0 C1397.7,480.0 1398.3,480.0 1399.0,480.0 C1399.7,480.0 1400.3,480.0 1401.0,480.0 C1401.7,480.0 1402.3,480.0 1403.0,480.0 C1403.7,480.0 1404.3,480.0 1405.0,480.0 C1405.7,480.0 1406.3,480.0 1407.0,480.0 C1407.7,480.0 1408.3,480.0 1409.0,480.0 C1409.7,480.0 1410.3,480.1 1411.0,480.1 C1411.7,480.1 1412.3,480.1 1413.0,480.1 C1413.7,480.1 1414.3,480.1 1415.0,480.1 C1415.7,480.1 1416.3,480.1 1417.0,480.1 C1417.7,480.1 1418.3,480.1 1419.0,480.1 C1419.7,480.1 1420.3,480.1 1421.0,480.1 C1421.7,480.1 1422.3,480.1 1423.0,480.1 C1423.7,480.1 1424.3,480.1 1425.0,480.1 C1425.7,480.1 1426.3,480.1 1427.0,480.1 C1427.7,480.1 1428.3,480.1 1429.0,480.1 C1429.7,480.1 1430.3,480.1 1431.0,480.1 C1431.7,480.1 1432.3,480.2 1433.0,480.0 C1433.7,479.8 1434.3,479.2 1435.0,478.8 C1435.7,478.4 1436.3,478.2 1437.0,477.5 C1437.7,476.8 1438.3,475.5 1439.0,474.5 C1439.7,473.5 1440.3,472.4 1441.0,471.5 C1441.7,470.7 1442.3,470.0 1443.0,469.6 C1443.7,469.1 1444.4,468.3 1445.0,468.6 C1445.6,469.0 1446.5,471.2 1446.8,471.7" fill="none" stroke="#858585" stroke-width="2.3" stroke-linejoin="round"/>
<path d="M0.00,1198.90 H0.67 V1197.47 H2.00 V1196.24 H3.33 V1195.19 H4.67 V1194.28 H6.00 V1193.51 H7.33 V1192.84 H8.67 V1192.25 H10.00 V1191.72 H11.33 V1191.21 H12.67 V1190.71 H14.00 V1190.20 H15.34 V1189.64 H16.67 V1189.01 H18.00 V1188.29 H19.34 V1187.46 H20.67 V1186.48 H22.00 V1185.35 H23.34 V1184.02 H24.67 V1182.48 H26.00 V1180.70 H27.34 V1178.66 H28.67 V1176.34 H30.00 V1173.70 H31.34 V1170.76 H32.67 V1167.58 H34.00 V1164.22 H35.34 V1160.73 H36.67 V1157.18 H38.00 V1153.64 H39.34 V1150.15 H40.67 V1146.79 H42.01 V1143.60 H43.34 V1140.52 H44.67 V1137.41 H46.01 V1134.13 H47.34 V1130.54 H48.67 V1126.50 H50.01 V1121.86 H51.34 V1116.50 H52.67 V1110.29 H54.01 V1103.33 H55.34 V1095.77 H56.67 V1087.78 H58.01 V1079.51 H59.34 V1071.14 H60.67 V1062.78 H62.01 V1054.21 H63.34 V1045.06 H64.67 V1034.96 H66.01 V1023.53 H67.34 V1010.57 H68.68 V996.98 H70.01 V984.10 H71.34 V973.28 H72.68 V965.41 H74.01 V958.39 H75.34 V948.99 H76.68 V934.03 H78.01 V913.57 H79.34 V892.60 H80.68 V874.07 H82.01 V857.54 H83.34 V842.45 H84.68 V828.82 H86.01 V816.84 H87.34 V806.51 H88.68 V797.77 H90.01 V790.52 H91.34 V784.71 H92.68 V780.25 H94.01 V777.11 H95.35 V775.36 H96.68 V775.08 H98.01 V776.33 H99.35 V779.20 H100.68 V783.76 H102.01 V790.10 H103.35 V798.28 H104.68 V808.38 H106.01 V820.24 H107.35 V833.28 H108.68 V846.84 H110.01 V860.28 H111.35 V872.97 H112.68 V884.68 H114.01 V895.71 H115.35 V906.40 H116.68 V917.11 H118.01 V928.13 H119.35 V939.47 H120.68 V950.97 H122.02 V962.46 H123.35 V973.77 H124.68 V984.74 H126.02 V995.19 H127.35 V1004.97 H128.68 V1013.91 H130.02 V1022.03 H131.35 V1029.43 H132.68 V1036.19 H134.02 V1042.43 H135.35 V1048.23 H136.68 V1053.71 H138.02 V1058.95 H139.35 V1064.04 H140.68 V1069.03 H142.02 V1073.92 H143.35 V1078.72 H144.68 V1083.42 H146.02 V1088.03 H147.35 V1092.55 H148.69 V1096.99 H150.02 V1101.35 H151.35 V1105.62 H152.69 V1109.81 H154.02 V1113.92 H155.35 V1117.92 H156.69 V1121.84 H158.02 V1125.65 H159.35 V1129.36 H160.69 V1132.96 H162.02 V1136.45 H163.35 V1139.83 H164.69 V1143.08 H166.02 V1146.22 H167.35 V1149.22 H168.69 V1152.10 H170.02 V1154.85 H171.35 V1157.46 H172.69 V1159.94 H174.02 V1162.30 H175.36 V1164.53 H176.69 V1166.66 H178.02 V1168.67 H179.36 V1170.58 H180.69 V1172.38 H182.02 V1174.09 H183.36 V1175.70 H184.69 V1177.23 H186.02 V1178.67 H187.36 V1180.03 H188.69 V1181.32 H190.02 V1182.54 H191.36 V1183.69 H192.69 V1184.77 H194.02 V1185.79 H195.36 V1186.76 H196.69 V1187.66 H198.02 V1188.50 H199.36 V1189.29 H200.69 V1190.02 H202.03 V1190.70 H203.36 V1191.33 H204.69 V1191.91 H206.03 V1192.44 H207.36 V1192.93 H208.69 V1193.38 H210.03 V1193.78 H211.36 V1194.14 H212.69 V1194.47 H214.03 V1194.76 H215.36 V1195.01 H216.69 V1195.24 H218.03 V1195.43 H219.36 V1195.59 H220.69 V1195.73 H222.03 V1195.84 H223.36 V1195.92 H224.69 V1195.99 H226.03 V1196.03 H227.36 V1196.06 H228.70 V1196.07 H230.03 V1196.06 H231.36 V1196.05 H232.70 V1196.02 H234.03 V1195.98 H235.36 V1195.94 H236.70 V1195.89 H238.03 V1195.83 H239.36 V1195.78 H240.70 V1195.72 H242.03 V1195.67 H243.36 V1195.62 H244.70 V1195.58 H246.03 V1195.54 H247.36 V1195.51 H248.70 V1195.49 H250.03 V1195.49 H251.36 V1195.49 H252.70 V1195.51 H254.03 V1195.53 H255.37 V1195.55 H256.70 V1195.57 H258.03 V1195.58 H259.37 V1195.58 H260.70 V1195.57 H262.03 V1195.53 H263.37 V1195.48 H264.70 V1195.40 H266.03 V1195.28 H267.37 V1195.14 H268.70 V1194.95 H270.03 V1194.72 H271.37 V1194.45 H272.70 V1194.12 H274.03 V1193.75 H275.37 V1193.31 H276.70 V1192.81 H278.03 V1192.25 H279.37 V1191.62 H280.70 V1190.91 H282.04 V1190.11 H283.37 V1189.20 H284.70 V1188.17 H286.04 V1186.98 H287.37 V1185.63 H288.70 V1184.09 H290.04 V1182.34 H291.37 V1180.38 H292.70 V1178.29 H294.04 V1176.12 H295.37 V1173.95 H296.70 V1171.85 H298.04 V1169.90 H299.37 V1168.16 H300.70 V1166.71 H302.04 V1165.55 H303.37 V1164.67 H304.70 V1164.05 H306.04 V1163.65 H307.37 V1163.47 H308.71 V1163.48 H310.04 V1163.66 H311.37 V1163.99 H312.71 V1164.45 H314.04 V1165.01 H315.37 V1165.65 H316.71 V1166.35 H318.04 V1167.10 H319.37 V1167.86 H320.71 V1168.63 H322.04 V1169.38 H323.37 V1170.11 H324.71 V1170.82 H326.04 V1171.51 H327.37 V1172.17 H328.71 V1172.79 H330.04 V1173.38 H331.37 V1173.93 H332.71 V1174.44 H334.04 V1174.90 H335.38 V1175.31 H336.71 V1175.66 H338.04 V1175.96 H339.38 V1176.19 H340.71 V1176.36 H342.04 V1176.45 H343.38 V1176.47 H344.71 V1176.42 H346.04 V1176.28 H347.38 V1176.06 H348.71 V1175.75 H350.04 V1175.35 H351.38 V1174.85 H352.71 V1174.26 H354.04 V1173.58 H355.38 V1172.83 H356.71 V1172.00 H358.04 V1171.09 H359.38 V1170.12 H360.71 V1169.10 H362.05 V1168.01 H363.38 V1166.88 H364.71 V1165.70 H366.05 V1164.49 H367.38 V1163.23 H368.71 V1161.95 H370.05 V1160.65 H371.38 V1159.33 H372.71 V1157.99 H374.05 V1156.64 H375.38 V1155.29 H376.71 V1153.95 H378.05 V1152.61 H379.38 V1151.28 H380.71 V1149.97 H382.05 V1148.68 H383.38 V1147.42 H384.71 V1146.20 H386.05 V1145.01 H387.38 V1143.86 H388.72 V1142.76 H390.05 V1141.72 H391.38 V1140.74 H392.72 V1139.82 H394.05 V1138.98 H395.38 V1138.22 H396.72 V1137.56 H398.05 V1137.00 H399.38 V1136.55 H400.72 V1136.21 H402.05 V1136.01 H403.38 V1135.94 H404.72 V1136.01 H406.05 V1136.24 H407.38 V1136.63 H408.72 V1137.19 H410.05 V1137.93 H411.38 V1138.86 H412.72 V1139.98 H414.05 V1141.31 H415.39 V1142.86 H416.72 V1144.62 H418.05 V1146.59 H419.39 V1148.74 H420.72 V1151.01 H422.05 V1153.37 H423.39 V1155.78 H424.72 V1158.19 H426.05 V1160.57 H427.39 V1162.86 H428.72 V1165.04 H430.05 V1167.05 H431.39 V1168.86 H432.72 V1170.48 H434.05 V1171.93 H435.39 V1173.23 H436.72 V1174.42 H438.05 V1175.52 H439.39 V1176.55 H440.72 V1177.53 H442.06 V1178.49 H443.39 V1179.42 H444.72 V1180.32 H446.06 V1181.21 H447.39 V1182.06 H448.72 V1182.90 H450.06 V1183.71 H451.39 V1184.49 H452.72 V1185.26 H454.06 V1186.00 H455.39 V1186.72 H456.72 V1187.42 H458.06 V1188.09 H459.39 V1188.75 H460.72 V1189.38 H462.06 V1189.99 H463.39 V1190.59 H464.72 V1191.16 H466.06 V1191.71 H467.39 V1192.25 H468.73 V1192.76 H470.06 V1193.26 H471.39 V1193.74 H472.73 V1194.20 H474.06 V1194.64 H475.39 V1195.07 H476.73 V1195.47 H478.06 V1195.87 H479.39 V1196.24 H480.73 V1196.60 H482.06 V1196.95 H483.39 V1197.27 H484.73 V1197.59 H486.06 V1197.89 H487.39 V1198.17 H488.73 V1198.44 H490.06 V1198.70 H491.39 V1198.94 H492.73 V1199.18 H494.06 V1199.39 H495.40 V1199.60 H496.73 V1199.79 H498.06 V1199.98 H499.40 V1200.15 H500.73 V1200.31 H502.06 V1200.46 H503.40 V1200.60 H504.73 V1200.73 H506.06 V1200.85 H507.40 V1200.96 H508.73 V1201.06 H510.06 V1201.15 H511.40 V1201.24 H512.73 V1201.31 H514.06 V1201.38 H515.40 V1201.44 H516.73 V1201.50 H518.06 V1201.54 H519.40 V1201.59 H520.73 V1201.62 H522.07 V1201.65 H523.40 V1201.67 H524.73 V1201.69 H526.07 V1201.71 H527.40 V1201.72 H528.73 V1201.73 H530.07 V1201.73 H531.40 V1201.73 H532.73 V1201.72 H534.07 V1201.71 H535.40 V1201.70 H536.73 V1201.68 H538.07 V1201.66 H539.40 V1201.64 H540.73 V1201.61 H542.07 V1201.58 H543.40 V1201.55 H544.73 V1201.51 H546.07 V1201.47 H547.40 V1201.43 H548.74 V1201.38 H550.07 V1201.33 H551.40 V1201.28 H552.74 V1201.23 H554.07 V1201.17 H555.40 V1201.12 H556.74 V1201.06 H558.07 V1200.99 H559.40 V1200.93 H560.74 V1200.86 H562.07 V1200.80 H563.40 V1200.73 H564.74 V1200.65 H566.07 V1200.58 H567.40 V1200.51 H568.74 V1200.43 H570.07 V1200.35 H571.40 V1200.27 H572.74 V1200.19 H574.07 V1200.11 H575.41 V1200.03 H576.74 V1199.95 H578.07 V1199.86 H579.41 V1199.78 H580.74 V1199.70 H582.07 V1199.61 H583.41 V1199.52 H584.74 V1199.44 H586.07 V1199.35 H587.41 V1199.26 H588.74 V1199.18 H590.07 V1199.09 H591.41 V1199.01 H592.74 V1198.92 H594.07 V1198.83 H595.41 V1198.75 H596.74 V1198.66 H598.07 V1198.58 H599.41 V1198.49 H600.74 V1198.41 H602.08 V1198.33 H603.41 V1198.25 H604.74 V1198.17 H606.08 V1198.09 H607.41 V1198.01 H608.74 V1197.93 H610.08 V1197.86 H611.41 V1197.79 H612.74 V1197.71 H614.08 V1197.64 H615.41 V1197.57 H616.74 V1197.51 H618.08 V1197.44 H619.41 V1197.37 H620.74 V1197.31 H622.08 V1197.24 H623.41 V1197.17 H624.74 V1197.10 H626.08 V1197.03 H627.41 V1196.96 H628.75 V1196.88 H630.08 V1196.80 H631.41 V1196.72 H632.75 V1196.63 H634.08 V1196.54 H635.41 V1196.45 H636.75 V1196.35 H638.08 V1196.24 H639.41 V1196.12 H640.75 V1196.00 H642.08 V1195.88 H643.41 V1195.74 H644.75 V1195.60 H646.08 V1195.44 H647.41 V1195.28 H648.75 V1195.11 H650.08 V1194.93 H651.41 V1194.75 H652.75 V1194.56 H654.08 V1194.37 H655.42 V1194.19 H656.75 V1194.02 H658.08 V1193.86 H659.42 V1193.71 H660.75 V1193.59 H662.08 V1193.49 H663.42 V1193.41 H664.75 V1193.37 H666.08 V1193.36 H667.42 V1193.39 H668.75 V1193.47 H670.08 V1193.59 H671.42 V1193.76 H672.75 V1193.99 H674.08 V1194.26 H675.42 V1194.59 H676.75 V1194.95 H678.08 V1195.34 H679.42 V1195.76 H680.75 V1196.19 H682.09 V1196.63 H683.42 V1197.08 H684.75 V1197.52 H686.09 V1197.95 H687.42 V1198.37 H688.75 V1198.75 H690.09 V1199.11 H691.42 V1199.42 H692.75 V1199.69 H694.09 V1199.90 H695.42 V1200.05 H696.75 V1200.13 H698.09 V1200.14 H699.42 V1200.07 H700.75 V1199.90 H702.09 V1199.64 H703.42 V1199.29 H704.75 V1198.88 H706.09 V1198.41 H707.42 V1197.91 H708.76 V1197.40 H710.09 V1196.89 H711.42 V1196.41 H712.76 V1195.97 H714.09 V1195.60 H715.42 V1195.30 H716.76 V1195.10 H718.09 V1195.02 H719.42 V1195.08 H720.76 V1195.29 H722.09 V1195.67 H723.20" fill="none" stroke="#0000ff" stroke-width="1.4" stroke-linejoin="miter"/>
<path d="M0.00,1199.70 H0.67 V1200.64 H2.00 V1201.06 H3.33 V1201.02 H4.67 V1200.57 H6.00 V1199.73 H7.33 V1198.57 H8.67 V1197.12 H10.00 V1195.43 H11.33 V1193.55 H12.67 V1191.51 H14.00 V1189.37 H15.34 V1187.17 H16.67 V1184.96 H18.00 V1182.77 H19.34 V1180.66 H20.67 V1178.67 H22.00 V1176.84 H23.34 V1175.22 H24.67 V1173.84 H26.00 V1172.66 H27.34 V1171.57 H28.67 V1170.46 H30.00 V1169.23 H31.34 V1167.78 H32.67 V1166.00 H34.00 V1163.79 H35.34 V1161.04 H36.67 V1157.68 H38.00 V1153.73 H39.34 V1149.23 H40.67 V1144.23 H42.01 V1138.79 H43.34 V1132.95 H44.67 V1126.76 H46.01 V1120.27 H47.34 V1113.52 H48.67 V1106.58 H50.01 V1099.47 H51.34 V1092.26 H52.67 V1084.99 H54.01 V1077.71 H55.34 V1070.47 H56.67 V1063.32 H58.01 V1056.28 H59.34 V1049.33 H60.67 V1042.39 H62.01 V1035.39 H63.34 V1028.25 H64.67 V1020.92 H66.01 V1013.32 H67.34 V1005.39 H68.68 V997.04 H70.01 V988.22 H71.34 V978.85 H72.68 V968.87 H74.01 V958.19 H75.34 V946.77 H76.68 V934.60 H78.01 V921.68 H79.34 V908.03 H80.68 V893.66 H82.01 V878.75 H83.34 V863.65 H84.68 V848.78 H86.01 V834.54 H87.34 V821.33 H88.68 V809.54 H90.01 V799.51 H91.34 V791.49 H92.68 V785.74 H94.01 V782.52 H95.35 V782.08 H96.68 V784.53 H98.01 V789.61 H99.35 V796.99 H100.68 V806.37 H102.01 V817.41 H103.35 V829.80 H104.68 V843.22 H106.01 V857.35 H107.35 V871.93 H108.68 V886.77 H110.01 V901.68 H111.35 V916.45 H112.68 V930.91 H114.01 V944.87 H115.35 V958.27 H116.68 V971.09 H118.01 V983.34 H119.35 V994.99 H120.68 V1006.05 H122.02 V1016.50 H123.35 V1026.34 H124.68 V1035.56 H126.02 V1044.15 H127.35 V1052.11 H128.68 V1059.42 H130.02 V1066.10 H131.35 V1072.20 H132.68 V1077.78 H134.02 V1082.89 H135.35 V1087.60 H136.68 V1091.97 H138.02 V1096.04 H139.35 V1099.89 H140.68 V1103.57 H142.02 V1107.13 H143.35 V1110.59 H144.68 V1113.94 H146.02 V1117.20 H147.35 V1120.35 H148.69 V1123.42 H150.02 V1126.39 H151.35 V1129.26 H152.69 V1132.05 H154.02 V1134.75 H155.35 V1137.36 H156.69 V1139.89 H158.02 V1142.34 H159.35 V1144.70 H160.69 V1146.99 H162.02 V1149.20 H163.35 V1151.34 H164.69 V1153.40 H166.02 V1155.40 H167.35 V1157.32 H168.69 V1159.18 H170.02 V1160.97 H171.35 V1162.70 H172.69 V1164.37 H174.02 V1165.98 H175.36 V1167.54 H176.69 V1169.03 H178.02 V1170.48 H179.36 V1171.87 H180.69 V1173.21 H182.02 V1174.51 H183.36 V1175.75 H184.69 V1176.96 H186.02 V1178.12 H187.36 V1179.25 H188.69 V1180.33 H190.02 V1181.38 H191.36 V1182.39 H192.69 V1183.38 H194.02 V1184.33 H195.36 V1185.25 H196.69 V1186.15 H198.02 V1187.02 H199.36 V1187.87 H200.69 V1188.70 H202.03 V1189.50 H203.36 V1190.30 H204.69 V1191.07 H206.03 V1191.84 H207.36 V1192.59 H208.69 V1193.33 H210.03 V1194.07 H211.36 V1194.80 H212.69 V1195.51 H214.03 V1196.22 H215.36 V1196.90 H216.69 V1197.57 H218.03 V1198.21 H219.36 V1198.83 H220.69 V1199.42 H222.03 V1199.97 H223.36 V1200.49 H224.69 V1200.97 H226.03 V1201.41 H227.36 V1201.80 H228.70 V1202.14 H230.03 V1202.43 H231.36 V1202.66 H232.70 V1202.84 H234.03 V1202.96 H235.36 V1203.01 H236.70 V1202.99 H238.03 V1202.90 H239.36 V1202.74 H240.70 V1202.50 H242.03 V1202.18 H243.36 V1201.78 H244.70 V1201.29 H246.03 V1200.72 H247.36 V1200.09 H248.70 V1199.41 H250.03 V1198.68 H251.36 V1197.92 H252.70 V1197.15 H254.03 V1196.37 H255.37 V1195.60 H256.70 V1194.85 H258.03 V1194.12 H259.37 V1193.45 H260.70 V1192.82 H262.03 V1192.27 H263.37 V1191.79 H264.70 V1191.41 H266.03 V1191.13 H267.37 V1190.95 H268.70 V1190.84 H270.03 V1190.74 H271.37 V1190.63 H272.70 V1190.45 H274.03 V1190.17 H275.37 V1189.75 H276.70 V1189.14 H278.03 V1188.30 H279.37 V1187.19 H280.70 V1185.78 H282.04 V1184.01 H283.37 V1181.85 H284.70 V1179.26 H286.04 V1176.19 H287.37 V1172.60 H288.70 V1168.45 H290.04 V1163.71 H291.37 V1158.32 H292.70 V1152.25 H294.04 V1145.46 H295.37 V1138.02 H296.70 V1130.33 H298.04 V1122.82 H299.37 V1115.93 H300.70 V1110.09 H302.04 V1105.52 H303.37 V1102.33 H304.70 V1100.63 H306.04 V1100.47 H307.37 V1101.71 H308.71 V1104.13 H310.04 V1107.50 H311.37 V1111.59 H312.71 V1116.20 H314.04 V1121.10 H315.37 V1126.07 H316.71 V1130.89 H318.04 V1135.46 H319.37 V1139.76 H320.71 V1143.79 H322.04 V1147.53 H323.37 V1150.98 H324.71 V1154.12 H326.04 V1156.96 H327.37 V1159.51 H328.71 V1161.80 H330.04 V1163.84 H331.37 V1165.66 H332.71 V1167.27 H334.04 V1168.69 H335.38 V1169.95 H336.71 V1171.05 H338.04 V1172.02 H339.38 V1172.87 H340.71 V1173.63 H342.04 V1174.32 H343.38 V1174.95 H344.71 V1175.52 H346.04 V1176.03 H347.38 V1176.50 H348.71 V1176.91 H350.04 V1177.27 H351.38 V1177.58 H352.71 V1177.84 H354.04 V1178.05 H355.38 V1178.22 H356.71 V1178.34 H358.04 V1178.42 H359.38 V1178.45 H360.71 V1178.44 H362.05 V1178.39 H363.38 V1178.30 H364.71 V1178.18 H366.05 V1178.01 H367.38 V1177.81 H368.71 V1177.57 H370.05 V1177.30 H371.38 V1177.00 H372.71 V1176.67 H374.05 V1176.30 H375.38 V1175.91 H376.71 V1175.48 H378.05 V1175.03 H379.38 V1174.55 H380.71 V1174.05 H382.05 V1173.53 H383.38 V1172.98 H384.71 V1172.41 H386.05 V1171.82 H387.38 V1171.21 H388.72 V1170.58 H390.05 V1169.93 H391.38 V1169.27 H392.72 V1168.61 H394.05 V1167.94 H395.38 V1167.28 H396.72 V1166.64 H398.05 V1166.03 H399.38 V1165.45 H400.72 V1164.91 H402.05 V1164.42 H403.38 V1164.00 H404.72 V1163.64 H406.05 V1163.36 H407.38 V1163.17 H408.72 V1163.07 H410.05 V1163.07 H411.38 V1163.18 H412.72 V1163.42 H414.05 V1163.78 H415.39 V1164.27 H416.72 V1164.91 H418.05 V1165.70 H419.39 V1166.61 H420.72 V1167.65 H422.05 V1168.78 H423.39 V1170.00 H424.72 V1171.29 H426.05 V1172.64 H427.39 V1174.03 H428.72 V1175.44 H430.05 V1176.88 H431.39 V1178.31 H432.72 V1179.72 H434.05 V1181.10 H435.39 V1182.44 H436.72 V1183.72 H438.05 V1184.92 H439.39 V1186.04 H440.72 V1187.05 H442.06 V1187.97 H443.39 V1188.82 H444.72 V1189.59 H446.06 V1190.30 H447.39 V1190.97 H448.72 V1191.59 H450.06 V1192.20 H451.39 V1192.78 H452.72 V1193.37 H454.06 V1193.96 H455.39 V1194.57 H456.72 V1195.19 H458.06 V1195.83 H459.39 V1196.48 H460.72 V1197.11 H462.06 V1197.74 H463.39 V1198.34 H464.72 V1198.91 H466.06 V1199.43 H467.39 V1199.91 H468.73 V1200.33 H470.06 V1200.68 H471.39 V1200.96 H472.73 V1201.15 H474.06 V1201.25 H475.39 V1201.25 H476.73 V1201.14 H478.06 V1200.90 H479.39 V1200.54 H480.73 V1200.04 H482.06 V1199.40 H483.39 V1198.61 H484.73 V1197.68 H486.06 V1196.65 H487.39 V1195.53 H488.73 V1194.34 H490.06 V1193.11 H491.39 V1191.87 H492.73 V1190.62 H494.06 V1189.40 H495.40 V1188.22 H496.73 V1187.12 H498.06 V1186.10 H499.40 V1185.20 H500.73 V1184.44 H502.06 V1183.83 H503.40 V1183.40 H504.73 V1183.18 H506.06 V1183.18 H507.40 V1183.42 H508.73 V1183.89 H510.06 V1184.55 H511.40 V1185.39 H512.73 V1186.36 H514.06 V1187.45 H515.40 V1188.62 H516.73 V1189.84 H518.06 V1191.09 H519.40 V1192.35 H520.73 V1193.60 H522.07 V1194.81 H523.40 V1195.97 H524.73 V1197.07 H526.07 V1198.06 H527.40 V1198.95 H528.73 V1199.71 H530.07 V1200.33 H531.40 V1200.83 H532.73 V1201.21 H534.07 V1201.50 H535.40 V1201.71 H536.73 V1201.86 H538.07 V1201.97 H539.40 V1202.06 H540.73 V1202.13 H542.07 V1202.20 H543.40 V1202.27 H544.73 V1202.34 H546.07 V1202.41 H547.40 V1202.47 H548.74 V1202.53 H550.07 V1202.58 H551.40 V1202.63 H552.74 V1202.66 H554.07 V1202.69 H555.40 V1202.71 H556.74 V1202.72 H558.07 V1202.72 H559.40 V1202.70 H560.74 V1202.67 H562.07 V1202.63 H563.40 V1202.57 H564.74 V1202.49 H566.07 V1202.40 H567.40 V1202.29 H568.74 V1202.16 H570.07 V1202.00 H571.40 V1201.83 H572.74 V1201.63 H574.07 V1201.41 H575.41 V1201.17 H576.74 V1200.90 H578.07 V1200.60 H579.41 V1200.28 H580.74 V1199.92 H582.07 V1199.54 H583.41 V1199.13 H584.74 V1198.69 H586.07 V1198.21 H587.41 V1197.70 H588.74 V1197.13 H590.07 V1196.48 H591.41 V1195.70 H592.74 V1194.75 H594.07 V1193.60 H595.41 V1192.20 H596.74 V1190.53 H598.07 V1188.54 H599.41 V1186.21 H600.74 V1183.59 H602.08 V1180.77 H603.41 V1177.85 H604.74 V1174.94 H606.08 V1172.12 H607.41 V1169.50 H608.74 V1167.18 H610.08 V1165.25 H611.41 V1163.81 H612.74 V1162.96 H614.08 V1162.79 H615.41 V1163.37 H616.74 V1164.60 H618.08 V1166.39 H619.41 V1168.63 H620.74 V1171.22 H622.08 V1174.05 H623.41 V1177.02 H624.74 V1180.03 H626.08 V1182.98 H627.41 V1185.75 H628.75 V1188.25 H630.08 V1190.37 H631.41 V1192.09 H632.75 V1193.47 H634.08 V1194.54 H635.41 V1195.38 H636.75 V1196.03 H638.08 V1196.55 H639.41 V1196.97 H640.75 V1197.28 H642.08 V1197.52 H643.41 V1197.67 H644.75 V1197.77 H646.08 V1197.80 H647.41 V1197.79 H648.75 V1197.74 H650.08 V1197.66 H651.41 V1197.57 H652.75 V1197.47 H654.08 V1197.37 H655.42 V1197.28 H656.75 V1197.21 H658.08 V1197.17 H659.42 V1197.16 H660.75 V1197.18 H662.08 V1197.22 H663.42 V1197.28 H664.75 V1197.37 H666.08 V1197.48 H667.42 V1197.60 H668.75 V1197.75 H670.08 V1197.91 H671.42 V1198.08 H672.75 V1198.27 H674.08 V1198.46 H675.42 V1198.67 H676.75 V1198.89 H678.08 V1199.11 H679.42 V1199.34 H680.75 V1199.57 H682.09 V1199.80 H683.42 V1200.04 H684.75 V1200.27 H686.09 V1200.50 H687.42 V1200.73 H688.75 V1200.95 H690.09 V1201.16 H691.42 V1201.37 H692.75 V1201.56 H694.09 V1201.75 H695.42 V1201.92 H696.75 V1202.07 H698.09 V1202.21 H699.42 V1202.33 H700.75 V1202.43 H702.09 V1202.51 H703.42 V1202.57 H704.75 V1202.61 H706.09 V1202.61 H707.42 V1202.59 H708.76 V1202.55 H710.09 V1202.47 H711.42 V1202.36 H712.76 V1202.22 H714.09 V1202.04 H715.42 V1201.82 H716.76 V1201.57 H718.09 V1201.28 H719.42 V1200.95 H720.76 V1200.57 H722.09 V1200.16 H723.20" fill="none" stroke="#ff0000" stroke-width="1.4" stroke-linejoin="miter"/>
<path d="M0.00,1201.58 H0.67 V1199.34 H2.00 V1197.44 H3.33 V1195.86 H4.67 V1194.55 H6.00 V1193.49 H7.33 V1192.65 H8.67 V1191.98 H10.00 V1191.47 H11.33 V1191.08 H12.67 V1190.77 H14.00 V1190.51 H15.34 V1190.28 H16.67 V1190.04 H18.00 V1189.75 H19.34 V1189.39 H20.67 V1188.92 H22.00 V1188.32 H23.34 V1187.54 H24.67 V1186.55 H26.00 V1185.34 H27.34 V1183.85 H28.67 V1182.07 H30.00 V1179.95 H31.34 V1177.47 H32.67 V1174.59 H34.00 V1171.32 H35.34 V1167.65 H36.67 V1163.60 H38.00 V1159.18 H39.34 V1154.40 H40.67 V1149.27 H42.01 V1143.80 H43.34 V1138.00 H44.67 V1131.87 H46.01 V1125.43 H47.34 V1118.68 H48.67 V1111.62 H50.01 V1104.26 H51.34 V1096.60 H52.67 V1088.72 H54.01 V1081.07 H55.34 V1074.26 H56.67 V1068.86 H58.01 V1064.09 H59.34 V1057.43 H60.67 V1047.38 H62.01 V1035.39 H63.34 V1023.34 H64.67 V1012.87 H66.01 V1002.90 H67.34 V990.81 H68.68 V975.63 H70.01 V960.45 H71.34 V946.63 H72.68 V933.54 H74.01 V920.55 H75.34 V906.98 H76.68 V892.22 H78.01 V876.41 H79.34 V860.33 H80.68 V844.80 H82.01 V830.62 H83.34 V818.54 H84.68 V808.64 H86.01 V800.57 H87.34 V794.00 H88.68 V788.58 H90.01 V784.18 H91.34 V781.25 H92.68 V780.36 H94.01 V781.89 H95.35 V785.79 H96.68 V792.00 H98.01 V800.44 H99.35 V811.05 H100.68 V823.75 H102.01 V838.47 H103.35 V855.12 H104.68 V873.14 H106.01 V891.24 H107.35 V908.18 H108.68 V923.42 H110.01 V937.15 H111.35 V949.57 H112.68 V961.00 H114.01 V971.78 H115.35 V982.28 H116.68 V992.71 H118.01 V1003.01 H119.35 V1013.06 H120.68 V1022.76 H122.02 V1032.00 H123.35 V1040.68 H124.68 V1048.69 H126.02 V1055.93 H127.35 V1062.30 H128.68 V1067.86 H130.02 V1072.81 H131.35 V1077.31 H132.68 V1081.56 H134.02 V1085.75 H135.35 V1089.93 H136.68 V1094.09 H138.02 V1098.19 H139.35 V1102.21 H140.68 V1106.11 H142.02 V1109.89 H143.35 V1113.54 H144.68 V1117.06 H146.02 V1120.47 H147.35 V1123.76 H148.69 V1126.94 H150.02 V1130.01 H151.35 V1132.97 H152.69 V1135.82 H154.02 V1138.57 H155.35 V1141.21 H156.69 V1143.76 H158.02 V1146.21 H159.35 V1148.57 H160.69 V1150.84 H162.02 V1153.02 H163.35 V1155.12 H164.69 V1157.13 H166.02 V1159.07 H167.35 V1160.92 H168.69 V1162.70 H170.02 V1164.41 H171.35 V1166.05 H172.69 V1167.62 H174.02 V1169.13 H175.36 V1170.58 H176.69 V1171.96 H178.02 V1173.29 H179.36 V1174.57 H180.69 V1175.80 H182.02 V1176.97 H183.36 V1178.10 H184.69 V1179.19 H186.02 V1180.24 H187.36 V1181.25 H188.69 V1182.22 H190.02 V1183.16 H191.36 V1184.07 H192.69 V1184.95 H194.02 V1185.79 H195.36 V1186.61 H196.69 V1187.40 H198.02 V1188.17 H199.36 V1188.90 H200.69 V1189.61 H202.03 V1190.29 H203.36 V1190.95 H204.69 V1191.58 H206.03 V1192.19 H207.36 V1192.77 H208.69 V1193.33 H210.03 V1193.87 H211.36 V1194.39 H212.69 V1194.89 H214.03 V1195.36 H215.36 V1195.82 H216.69 V1196.26 H218.03 V1196.68 H219.36 V1197.08 H220.69 V1197.47 H222.03 V1197.83 H223.36 V1198.19 H224.69 V1198.52 H226.03 V1198.85 H227.36 V1199.15 H228.70 V1199.45 H230.03 V1199.73 H231.36 V1200.00 H232.70 V1200.26 H234.03 V1200.51 H235.36 V1200.75 H236.70 V1200.98 H238.03 V1201.20 H239.36 V1201.42 H240.70 V1201.62 H242.03 V1201.82 H243.36 V1202.01 H244.70 V1202.20 H246.03 V1202.38 H247.36 V1202.56 H248.70 V1202.73 H250.03 V1202.90 H251.36 V1203.07 H252.70 V1203.23 H254.03 V1203.37 H255.37 V1203.48 H256.70 V1203.58 H258.03 V1203.64 H259.37 V1203.66 H260.70 V1203.63 H262.03 V1203.56 H263.37 V1203.43 H264.70 V1203.23 H266.03 V1202.97 H267.37 V1202.64 H268.70 V1202.23 H270.03 V1201.73 H271.37 V1201.14 H272.70 V1200.46 H274.03 V1199.67 H275.37 V1198.78 H276.70 V1197.77 H278.03 V1196.65 H279.37 V1195.40 H280.70 V1194.01 H282.04 V1192.44 H283.37 V1190.59 H284.70 V1188.41 H286.04 V1185.80 H287.37 V1182.70 H288.70 V1179.01 H290.04 V1174.68 H291.37 V1169.71 H292.70 V1164.36 H294.04 V1158.96 H295.37 V1153.79 H296.70 V1149.17 H298.04 V1145.39 H299.37 V1142.66 H300.70 V1140.94 H302.04 V1140.13 H303.37 V1140.14 H304.70 V1140.87 H306.04 V1142.21 H307.37 V1144.04 H308.71 V1146.24 H310.04 V1148.69 H311.37 V1151.30 H312.71 V1154.02 H314.04 V1156.78 H315.37 V1159.55 H316.71 V1162.27 H318.04 V1164.90 H319.37 V1167.38 H320.71 V1169.67 H322.04 V1171.76 H323.37 V1173.65 H324.71 V1175.35 H326.04 V1176.88 H327.37 V1178.24 H328.71 V1179.44 H330.04 V1180.49 H331.37 V1181.41 H332.71 V1182.20 H334.04 V1182.87 H335.38 V1183.44 H336.71 V1183.91 H338.04 V1184.29 H339.38 V1184.60 H340.71 V1184.83 H342.04 V1185.02 H343.38 V1185.15 H344.71 V1185.25 H346.04 V1185.32 H347.38 V1185.37 H348.71 V1185.42 H350.04 V1185.47 H351.38 V1185.53 H352.71 V1185.59 H354.04 V1185.66 H355.38 V1185.72 H356.71 V1185.77 H358.04 V1185.80 H359.38 V1185.80 H360.71 V1185.78 H362.05 V1185.72 H363.38 V1185.61 H364.71 V1185.46 H366.05 V1185.25 H367.38 V1184.98 H368.71 V1184.64 H370.05 V1184.23 H371.38 V1183.74 H372.71 V1183.17 H374.05 V1182.54 H375.38 V1181.86 H376.71 V1181.12 H378.05 V1180.35 H379.38 V1179.54 H380.71 V1178.70 H382.05 V1177.85 H383.38 V1176.99 H384.71 V1176.13 H386.05 V1175.27 H387.38 V1174.43 H388.72 V1173.62 H390.05 V1172.83 H391.38 V1172.08 H392.72 V1171.39 H394.05 V1170.74 H395.38 V1170.16 H396.72 V1169.65 H398.05 V1169.22 H399.38 V1168.88 H400.72 V1168.63 H402.05 V1168.49 H403.38 V1168.45 H404.72 V1168.54 H406.05 V1168.75 H407.38 V1169.10 H408.72 V1169.57 H410.05 V1170.16 H411.38 V1170.86 H412.72 V1171.65 H414.05 V1172.52 H415.39 V1173.46 H416.72 V1174.46 H418.05 V1175.51 H419.39 V1176.60 H420.72 V1177.71 H422.05 V1178.84 H423.39 V1179.99 H424.72 V1181.14 H426.05 V1182.30 H427.39 V1183.47 H428.72 V1184.63 H430.05 V1185.78 H431.39 V1186.93 H432.72 V1188.05 H434.05 V1189.16 H435.39 V1190.25 H436.72 V1191.31 H438.05 V1192.34 H439.39 V1193.33 H440.72 V1194.29 H442.06 V1195.20 H443.39 V1196.06 H444.72 V1196.87 H446.06 V1197.63 H447.39 V1198.33 H448.72 V1198.96 H450.06 V1199.53 H451.39 V1200.02 H452.72 V1200.44 H454.06 V1200.79 H455.39 V1201.07 H456.72 V1201.26 H458.06 V1201.37 H459.39 V1201.41 H460.72 V1201.35 H462.06 V1201.22 H463.39 V1200.99 H464.72 V1200.68 H466.06 V1200.26 H467.39 V1199.69 H468.73 V1198.92 H470.06 V1197.88 H471.39 V1196.53 H472.73 V1194.81 H474.06 V1192.67 H475.39 V1190.05 H476.73 V1186.90 H478.06 V1183.17 H479.39 V1178.80 H480.73 V1173.73 H482.06 V1167.93 H483.39 V1161.34 H484.73 V1154.00 H486.06 V1145.98 H487.39 V1137.31 H488.73 V1128.06 H490.06 V1118.28 H491.39 V1108.03 H492.73 V1097.34 H494.06 V1086.33 H495.40 V1075.21 H496.73 V1064.26 H498.06 V1053.72 H499.40 V1043.86 H500.73 V1034.94 H502.06 V1027.21 H503.40 V1020.94 H504.73 V1016.39 H506.06 V1013.83 H507.40 V1013.51 H508.73 V1015.70 H510.06 V1020.66 H511.40 V1028.53 H512.73 V1038.82 H514.06 V1050.85 H515.40 V1063.97 H516.73 V1077.50 H518.06 V1090.79 H519.40 V1103.16 H520.73 V1114.29 H522.07 V1124.26 H523.40 V1133.15 H524.73 V1141.05 H526.07 V1148.07 H527.40 V1154.30 H528.73 V1159.82 H530.07 V1164.75 H531.40 V1169.16 H532.73 V1173.15 H534.07 V1176.79 H535.40 V1180.11 H536.73 V1183.11 H538.07 V1185.81 H539.40 V1188.22 H540.73 V1190.35 H542.07 V1192.22 H543.40 V1193.84 H544.73 V1195.22 H546.07 V1196.38 H547.40 V1197.33 H548.74 V1198.09 H550.07 V1198.65 H551.40 V1199.05 H552.74 V1199.29 H554.07 V1199.39 H555.40 V1199.35 H556.74 V1199.18 H558.07 V1198.90 H559.40 V1198.51 H560.74 V1198.01 H562.07 V1197.42 H563.40 V1196.74 H564.74 V1195.97 H566.07 V1195.13 H567.40 V1194.22 H568.74 V1193.26 H570.07 V1192.24 H571.40 V1191.17 H572.74 V1190.06 H574.07 V1188.93 H575.41 V1187.76 H576.74 V1186.59 H578.07 V1185.40 H579.41 V1184.21 H580.74 V1182.98 H582.07 V1181.62 H583.41 V1180.01 H584.74 V1178.05 H586.07 V1175.63 H587.41 V1172.64 H588.74 V1168.97 H590.07 V1164.51 H591.41 V1159.13 H592.74 V1152.24 H594.07 V1142.89 H595.41 V1130.13 H596.74 V1113.01 H598.07 V1093.90 H599.41 V1078.90 H600.74 V1053.90 H602.08 V1026.90 H603.41 V1008.68 H604.74 V984.04 H606.08 V954.14 H607.41 V922.51 H608.74 V892.69 H610.08 V867.48 H611.41 V848.11 H612.74 V835.61 H614.08 V830.48 H615.41 V832.30 H616.74 V840.56 H618.08 V861.49 H619.41 V902.97 H620.74 V923.83 H622.08 V949.41 H623.41 V977.39 H624.74 V999.04 H626.08 V1021.17 H627.41 V1047.34 H628.75 V1072.83 H630.08 V1093.75 H631.41 V1110.42 H632.75 V1123.68 H634.08 V1134.32 H635.41 V1143.19 H636.75 V1150.92 H638.08 V1157.67 H639.41 V1163.53 H640.75 V1168.57 H642.08 V1172.88 H643.41 V1176.54 H644.75 V1179.61 H646.08 V1182.17 H647.41 V1184.25 H648.75 V1185.91 H650.08 V1187.20 H651.41 V1188.17 H652.75 V1188.88 H654.08 V1189.37 H655.42 V1189.70 H656.75 V1189.92 H658.08 V1190.09 H659.42 V1190.24 H660.75 V1190.45 H662.08 V1190.75 H663.42 V1191.19 H664.75 V1191.78 H666.08 V1192.47 H667.42 V1193.24 H668.75 V1194.06 H670.08 V1194.89 H671.42 V1195.71 H672.75 V1196.49 H674.08 V1197.20 H675.42 V1197.85 H676.75 V1198.44 H678.08 V1198.97 H679.42 V1199.45 H680.75 V1199.88 H682.09 V1200.26 H683.42 V1200.58 H684.75 V1200.86 H686.09 V1201.09 H687.42 V1201.28 H688.75 V1201.43 H690.09 V1201.54 H691.42 V1201.61 H692.75 V1201.64 H694.09 V1201.64 H695.42 V1201.61 H696.75 V1201.54 H698.09 V1201.45 H699.42 V1201.33 H700.75 V1201.18 H702.09 V1201.02 H703.42 V1200.83 H704.75 V1200.62 H706.09 V1200.39 H707.42 V1200.15 H708.76 V1199.90 H710.09 V1199.63 H711.42 V1199.35 H712.76 V1199.07 H714.09 V1198.77 H715.42 V1198.48 H716.76 V1198.18 H718.09 V1197.88 H719.42 V1197.58 H720.76 V1197.29 H722.09 V1197.00 H723.20" fill="none" stroke="#008000" stroke-width="1.4" stroke-linejoin="miter"/>
<path d="M0.00,1200.38 H0.67 V1199.76 H2.00 V1198.97 H3.33 V1198.03 H4.67 V1196.99 H6.00 V1195.88 H7.33 V1194.72 H8.67 V1193.56 H10.00 V1192.41 H11.33 V1191.32 H12.67 V1190.32 H14.00 V1189.43 H15.34 V1188.70 H16.67 V1188.15 H18.00 V1187.80 H19.34 V1187.60 H20.67 V1187.47 H22.00 V1187.35 H23.34 V1187.15 H24.67 V1186.82 H26.00 V1186.26 H27.34 V1185.42 H28.67 V1184.21 H30.00 V1182.56 H31.34 V1180.41 H32.67 V1177.68 H34.00 V1174.37 H35.34 V1170.52 H36.67 V1166.18 H38.00 V1161.39 H39.34 V1156.19 H40.67 V1150.64 H42.01 V1144.76 H43.34 V1138.61 H44.67 V1132.24 H46.01 V1125.67 H47.34 V1118.97 H48.67 V1112.16 H50.01 V1105.27 H51.34 V1098.32 H52.67 V1091.33 H54.01 V1084.33 H55.34 V1077.34 H56.67 V1070.37 H58.01 V1063.09 H59.34 V1054.72 H60.67 V1044.98 H62.01 V1034.27 H63.34 V1023.03 H64.67 V1011.65 H66.01 V999.95 H67.34 V987.59 H68.68 V974.21 H70.01 V959.59 H71.34 V944.54 H72.68 V930.13 H74.01 V916.35 H75.34 V902.75 H76.68 V888.92 H78.01 V874.40 H79.34 V858.77 H80.68 V842.06 H82.01 V826.59 H83.34 V814.74 H84.68 V805.61 H86.01 V797.46 H87.34 V790.14 H88.68 V784.04 H90.01 V779.53 H91.34 V777.02 H92.68 V776.88 H94.01 V779.52 H95.35 V785.30 H96.68 V794.46 H98.01 V805.93 H99.35 V818.05 H100.68 V830.46 H102.01 V844.96 H103.35 V862.93 H104.68 V882.62 H106.01 V901.24 H107.35 V916.79 H108.68 V929.98 H110.01 V942.07 H111.35 V953.94 H112.68 V965.63 H114.01 V977.07 H115.35 V988.22 H116.68 V999.00 H118.01 V1009.36 H119.35 V1019.23 H120.68 V1028.55 H122.02 V1037.27 H123.35 V1045.31 H124.68 V1052.61 H126.02 V1059.12 H127.35 V1064.85 H128.68 V1070.00 H130.02 V1074.76 H131.35 V1079.36 H132.68 V1084.00 H134.02 V1088.85 H135.35 V1093.85 H136.68 V1098.88 H138.02 V1103.82 H139.35 V1108.55 H140.68 V1113.02 H142.02 V1117.26 H143.35 V1121.26 H144.68 V1125.04 H146.02 V1128.60 H147.35 V1131.96 H148.69 V1135.13 H150.02 V1138.11 H151.35 V1140.92 H152.69 V1143.57 H154.02 V1146.06 H155.35 V1148.41 H156.69 V1150.62 H158.02 V1152.70 H159.35 V1154.67 H160.69 V1156.54 H162.02 V1158.31 H163.35 V1159.99 H164.69 V1161.60 H166.02 V1163.14 H167.35 V1164.62 H168.69 V1166.06 H170.02 V1167.46 H171.35 V1168.83 H172.69 V1170.17 H174.02 V1171.47 H175.36 V1172.75 H176.69 V1173.99 H178.02 V1175.20 H179.36 V1176.39 H180.69 V1177.54 H182.02 V1178.66 H183.36 V1179.76 H184.69 V1180.82 H186.02 V1181.86 H187.36 V1182.87 H188.69 V1183.85 H190.02 V1184.81 H191.36 V1185.73 H192.69 V1186.63 H194.02 V1187.51 H195.36 V1188.35 H196.69 V1189.17 H198.02 V1189.97 H199.36 V1190.74 H200.69 V1191.48 H202.03 V1192.20 H203.36 V1192.90 H204.69 V1193.57 H206.03 V1194.22 H207.36 V1194.84 H208.69 V1195.45 H210.03 V1196.02 H211.36 V1196.58 H212.69 V1197.11 H214.03 V1197.63 H215.36 V1198.12 H216.69 V1198.59 H218.03 V1199.04 H219.36 V1199.46 H220.69 V1199.87 H222.03 V1200.26 H223.36 V1200.63 H224.69 V1200.97 H226.03 V1201.30 H227.36 V1201.62 H228.70 V1201.91 H230.03 V1202.18 H231.36 V1202.44 H232.70 V1202.68 H234.03 V1202.90 H235.36 V1203.10 H236.70 V1203.29 H238.03 V1203.45 H239.36 V1203.60 H240.70 V1203.74 H242.03 V1203.85 H243.36 V1203.94 H244.70 V1204.02 H246.03 V1204.08 H247.36 V1204.12 H248.70 V1204.15 H250.03 V1204.15 H251.36 V1204.14 H252.70 V1204.11 H254.03 V1204.06 H255.37 V1204.00 H256.70 V1203.91 H258.03 V1203.81 H259.37 V1203.69 H260.70 V1203.55 H262.03 V1203.40 H263.37 V1203.22 H264.70 V1203.03 H266.03 V1202.82 H267.37 V1202.59 H268.70 V1202.34 H270.03 V1202.08 H271.37 V1201.80 H272.70 V1201.50 H274.03 V1201.18 H275.37 V1200.82 H276.70 V1200.35 H278.03 V1199.70 H279.37 V1198.79 H280.70 V1197.56 H282.04 V1195.92 H283.37 V1193.81 H284.70 V1191.15 H286.04 V1187.86 H287.37 V1183.93 H288.70 V1179.50 H290.04 V1174.73 H291.37 V1169.76 H292.70 V1164.76 H294.04 V1159.88 H295.37 V1155.29 H296.70 V1151.13 H298.04 V1147.57 H299.37 V1144.76 H300.70 V1142.86 H302.04 V1142.03 H303.37 V1142.33 H304.70 V1143.61 H306.04 V1145.68 H307.37 V1148.34 H308.71 V1151.39 H310.04 V1154.65 H311.37 V1157.97 H312.71 V1161.27 H314.04 V1164.51 H315.37 V1167.65 H316.71 V1170.64 H318.04 V1173.44 H319.37 V1176.00 H320.71 V1178.27 H322.04 V1180.25 H323.37 V1181.96 H324.71 V1183.42 H326.04 V1184.66 H327.37 V1185.70 H328.71 V1186.57 H330.04 V1187.28 H331.37 V1187.86 H332.71 V1188.34 H334.04 V1188.73 H335.38 V1189.06 H336.71 V1189.36 H338.04 V1189.63 H339.38 V1189.87 H340.71 V1190.09 H342.04 V1190.27 H343.38 V1190.43 H344.71 V1190.55 H346.04 V1190.64 H347.38 V1190.70 H348.71 V1190.72 H350.04 V1190.71 H351.38 V1190.66 H352.71 V1190.58 H354.04 V1190.46 H355.38 V1190.29 H356.71 V1190.09 H358.04 V1189.85 H359.38 V1189.57 H360.71 V1189.25 H362.05 V1188.88 H363.38 V1188.47 H364.71 V1188.01 H366.05 V1187.51 H367.38 V1186.96 H368.71 V1186.36 H370.05 V1185.72 H371.38 V1185.02 H372.71 V1184.28 H374.05 V1183.51 H375.38 V1182.70 H376.71 V1181.87 H378.05 V1181.02 H379.38 V1180.15 H380.71 V1179.28 H382.05 V1178.41 H383.38 V1177.55 H384.71 V1176.69 H386.05 V1175.86 H387.38 V1175.05 H388.72 V1174.27 H390.05 V1173.53 H391.38 V1172.83 H392.72 V1172.18 H394.05 V1171.58 H395.38 V1171.05 H396.72 V1170.59 H398.05 V1170.20 H399.38 V1169.89 H400.72 V1169.67 H402.05 V1169.54 H403.38 V1169.50 H404.72 V1169.58 H406.05 V1169.77 H407.38 V1170.07 H408.72 V1170.49 H410.05 V1171.03 H411.38 V1171.68 H412.72 V1172.42 H414.05 V1173.25 H415.39 V1174.17 H416.72 V1175.16 H418.05 V1176.22 H419.39 V1177.33 H420.72 V1178.49 H422.05 V1179.70 H423.39 V1180.94 H424.72 V1182.20 H426.05 V1183.49 H427.39 V1184.78 H428.72 V1186.07 H430.05 V1187.36 H431.39 V1188.64 H432.72 V1189.89 H434.05 V1191.11 H435.39 V1192.29 H436.72 V1193.43 H438.05 V1194.51 H439.39 V1195.53 H440.72 V1196.47 H442.06 V1197.34 H443.39 V1198.12 H444.72 V1198.81 H446.06 V1199.40 H447.39 V1199.90 H448.72 V1200.30 H450.06 V1200.62 H451.39 V1200.86 H452.72 V1201.03 H454.06 V1201.12 H455.39 V1201.16 H456.72 V1201.13 H458.06 V1201.04 H459.39 V1200.91 H460.72 V1200.73 H462.06 V1200.51 H463.39 V1200.26 H464.72 V1199.97 H466.06 V1199.63 H467.39 V1199.14 H468.73 V1198.40 H470.06 V1197.31 H471.39 V1195.74 H472.73 V1193.61 H474.06 V1190.81 H475.39 V1187.22 H476.73 V1182.75 H478.06 V1177.28 H479.39 V1170.75 H480.73 V1163.16 H482.06 V1154.60 H483.39 V1145.10 H484.73 V1134.75 H486.06 V1123.58 H487.39 V1111.68 H488.73 V1099.09 H490.06 V1085.88 H491.39 V1072.11 H492.73 V1057.84 H494.06 V1043.15 H495.40 V1028.18 H496.73 V1013.05 H498.06 V997.97 H499.40 V983.66 H500.73 V970.99 H502.06 V960.78 H503.40 V953.31 H504.73 V948.65 H506.06 V946.85 H507.40 V947.99 H508.73 V952.13 H510.06 V959.34 H511.40 V969.69 H512.73 V982.96 H514.06 V997.79 H515.40 V1012.49 H516.73 V1026.44 H518.06 V1042.56 H519.40 V1060.48 H520.73 V1077.09 H522.07 V1091.90 H523.40 V1105.05 H524.73 V1116.66 H526.07 V1126.87 H527.40 V1135.81 H528.73 V1143.60 H530.07 V1150.37 H531.40 V1156.25 H532.73 V1161.37 H534.07 V1165.87 H535.40 V1169.86 H536.73 V1173.48 H538.07 V1176.81 H539.40 V1179.87 H540.73 V1182.66 H542.07 V1185.18 H543.40 V1187.45 H544.73 V1189.47 H546.07 V1191.24 H547.40 V1192.77 H548.74 V1194.06 H550.07 V1195.13 H551.40 V1195.97 H552.74 V1196.59 H554.07 V1197.00 H555.40 V1197.21 H556.74 V1197.21 H558.07 V1197.02 H559.40 V1196.64 H560.74 V1196.07 H562.07 V1195.33 H563.40 V1194.41 H564.74 V1193.33 H566.07 V1192.08 H567.40 V1190.68 H568.74 V1189.12 H570.07 V1187.43 H571.40 V1185.59 H572.74 V1183.62 H574.07 V1181.52 H575.41 V1179.30 H576.74 V1176.95 H578.07 V1174.41 H579.41 V1171.63 H580.74 V1168.55 H582.07 V1165.12 H583.41 V1161.27 H584.74 V1156.96 H586.07 V1152.13 H587.41 V1146.71 H588.74 V1140.67 H590.07 V1133.93 H591.41 V1126.44 H592.74 V1118.15 H594.07 V1108.66 H595.41 V1096.52 H596.74 V1080.09 H598.07 V1057.71 H599.41 V1028.39 H600.74 V992.68 H602.08 V953.79 H603.41 V918.43 H604.74 V884.47 H606.08 V851.35 H607.41 V827.27 H608.74 V789.18 H610.08 V752.45 H611.41 V728.80 H612.74 V709.37 H614.08 V701.32 H615.41 V718.03 H616.74 V751.17 H618.08 V789.83 H619.41 V823.13 H620.74 V850.90 H622.08 V887.55 H623.41 V918.02 H624.74 V943.26 H626.08 V971.58 H627.41 V1002.02 H628.75 V1032.59 H630.08 V1060.54 H631.41 V1083.68 H632.75 V1102.27 H634.08 V1117.13 H635.41 V1129.06 H636.75 V1138.86 H638.08 V1147.33 H639.41 V1154.79 H640.75 V1161.32 H642.08 V1166.96 H643.41 V1171.75 H644.75 V1175.75 H646.08 V1178.99 H647.41 V1181.57 H648.75 V1183.55 H650.08 V1185.01 H651.41 V1186.03 H652.75 V1186.69 H654.08 V1187.08 H655.42 V1187.26 H656.75 V1187.31 H658.08 V1187.33 H659.42 V1187.37 H660.75 V1187.53 H662.08 V1187.88 H663.42 V1188.49 H664.75 V1189.35 H666.08 V1190.38 H667.42 V1191.54 H668.75 V1192.75 H670.08 V1193.96 H671.42 V1195.09 H672.75 V1196.10 H674.08 V1196.94 H675.42 V1197.64 H676.75 V1198.21 H678.08 V1198.66 H679.42 V1199.01 H680.75 V1199.26 H682.09 V1199.44 H683.42 V1199.55 H684.75 V1199.62 H686.09 V1199.65 H687.42 V1199.66 H688.75 V1199.66 H690.09 V1199.65 H691.42 V1199.64 H692.75 V1199.62 H694.09 V1199.58 H695.42 V1199.54 H696.75 V1199.48 H698.09 V1199.40 H699.42 V1199.31 H700.75 V1199.21 H702.09 V1199.08 H703.42 V1198.93 H704.75 V1198.77 H706.09 V1198.58 H707.42 V1198.36 H708.76 V1198.12 H710.09 V1197.85 H711.42 V1197.55 H712.76 V1197.23 H714.09 V1196.87 H715.42 V1196.48 H716.76 V1196.05 H718.09 V1195.59 H719.42 V1195.09 H720.76 V1194.56 H722.09 V1193.98 H723.20" fill="none" stroke="#ff00ff" stroke-width="1.4" stroke-linejoin="miter"/>
<line x1="1042.9" y1="684" x2="1042.9" y2="1212.3" stroke="#000" stroke-width="2.3" stroke-dasharray="9.3,7.45"/>
<line x1="1082.5" y1="684" x2="1082.5" y2="1212.3" stroke="#000" stroke-width="2.3" stroke-dasharray="9.3,7.45"/>
<line x1="1098.6" y1="684" x2="1098.6" y2="1212.3" stroke="#000" stroke-width="2.3" stroke-dasharray="9.3,7.45"/>
<path d="M771.5,1185.8 L774.5,1182.4 L777.5,1179.0 L780.5,1175.5 L783.5,1171.9 L786.5,1168.2 L789.5,1164.4 L792.5,1160.5 L795.5,1156.6 L798.5,1152.6 L801.5,1148.5 L804.5,1144.3 L807.5,1140.1 L810.5,1135.8 L813.5,1131.4 L816.5,1126.9 L819.5,1122.4 L822.5,1117.8 L825.5,1113.1 L828.5,1108.4 L831.5,1103.5 L834.5,1098.7 L837.5,1093.7 L840.5,1088.7 L843.5,1083.7 L846.5,1078.5 L849.5,1073.3 L852.5,1068.1 L855.5,1062.8 L858.5,1057.4 L861.5,1052.0 L864.5,1046.5 L867.5,1041.0 L870.5,1035.4 L873.5,1029.7 L876.5,1024.0 L879.5,1018.3 L882.5,1012.5 L885.5,1006.7 L888.5,1000.8 L891.5,994.9 L894.5,988.9 L897.5,982.9 L900.5,976.9 L903.5,970.9 L906.5,964.8 L909.5,958.8 L912.5,952.7 L915.5,946.6 L918.5,940.5 L921.5,934.4 L924.5,928.3 L927.5,922.2 L930.5,916.1 L933.5,910.0 L936.5,903.9 L939.5,897.9 L942.5,891.8 L945.5,885.8 L948.5,879.9 L951.5,873.9 L954.5,868.0 L957.5,862.1 L960.5,856.3 L963.5,850.5 L966.5,844.8 L969.5,839.1 L972.5,833.5 L975.5,828.0 L978.5,822.5 L981.5,817.1 L984.5,811.7 L987.5,806.5 L990.5,801.3 L993.5,796.2 L996.5,791.2 L999.5,786.3 L1002.5,781.5 L1005.5,776.9 L1008.5,772.3 L1011.5,767.9 L1014.5,763.6 L1017.5,759.4 L1020.5,755.4 L1023.5,751.5 L1026.5,747.7 L1029.5,744.1 L1032.5,740.7 L1035.5,737.4 L1038.5,734.3 L1041.5,731.3 L1044.5,728.6 L1047.5,726.0 L1050.5,723.6 L1053.5,721.4 L1056.5,719.4 L1059.5,717.6 L1062.5,715.9 L1065.5,714.5 L1068.5,713.2 L1071.5,712.2 L1074.5,711.3 L1077.5,710.7 L1080.5,710.2 L1083.5,709.9 L1086.5,709.8 L1089.5,709.9 L1092.5,710.2 L1095.5,710.7 L1098.5,711.4 L1101.5,712.3 L1104.5,713.4 L1107.5,714.6 L1110.5,716.1 L1113.5,717.7 L1116.5,719.6 L1119.5,721.6 L1122.5,723.8 L1125.5,726.2 L1128.5,728.8 L1131.5,731.5 L1134.5,734.4 L1137.5,737.4 L1140.5,740.6 L1143.5,744.0 L1146.5,747.5 L1149.5,751.1 L1152.5,754.8 L1155.5,758.7 L1158.5,762.7 L1161.5,766.8 L1164.5,771.1 L1167.5,775.4 L1170.5,779.8 L1173.5,784.4 L1176.5,789.0 L1179.5,793.7 L1182.5,798.5 L1185.5,803.3 L1188.5,808.3 L1191.5,813.3 L1194.5,818.3 L1197.5,823.4 L1200.5,828.6 L1203.5,833.8 L1206.5,839.0 L1209.5,844.3 L1212.5,849.6 L1215.5,855.0 L1218.5,860.3 L1221.5,865.7 L1224.5,871.1 L1227.5,876.5 L1230.5,881.8 L1233.5,887.2 L1236.5,892.6 L1239.5,897.9 L1242.5,903.3 L1245.5,908.6 L1248.5,913.8 L1251.5,919.1 L1254.5,924.3 L1257.5,929.4 L1260.5,934.5 L1263.5,939.6 L1266.5,944.6 L1269.5,949.6 L1272.5,954.6 L1275.5,959.5 L1278.5,964.4 L1281.5,969.2 L1284.5,974.0 L1287.5,978.7 L1290.5,983.4 L1293.5,988.1 L1296.5,992.7 L1299.5,997.3 L1302.5,1001.9 L1305.5,1006.4 L1308.5,1010.8 L1311.5,1015.3 L1314.5,1019.6 L1317.5,1024.0 L1320.5,1028.3 L1323.5,1032.5 L1326.5,1036.8 L1329.5,1040.9 L1332.5,1045.1 L1335.5,1049.2 L1338.5,1053.2 L1341.5,1057.3 L1344.5,1061.2 L1347.5,1065.2 L1350.5,1069.1 L1353.5,1072.9 L1356.5,1076.7 L1359.5,1080.5 L1362.5,1084.2 L1365.5,1087.9 L1368.5,1091.6 L1371.5,1095.2 L1374.5,1098.8 L1377.5,1102.3 L1380.5,1105.8 L1383.5,1109.2 L1386.5,1112.6 L1389.5,1116.0 L1392.5,1119.3 L1395.5,1122.6 L1398.5,1125.8 L1401.5,1129.0 L1404.5,1132.2 L1407.5,1135.3 L1410.5,1138.4 L1413.5,1141.4 L1416.5,1144.4 L1419.5,1147.4 L1422.5,1150.3 L1425.5,1153.2 L1428.5,1156.0 L1431.5,1158.8 L1434.5,1161.6 L1437.5,1164.3 L1440.5,1167.0 L1443.5,1169.6 L1446.5,1172.2 L1449.5,1174.7 L1452.5,1177.2 L1455.5,1179.7 L1458.5,1182.1 L1461.5,1184.5 L1464.5,1186.9 L1467.5,1189.2 L1470.5,1191.4 L1473.5,1193.7 L1476.5,1195.9 L1479.5,1198.0 L1482.5,1200.1 L1484.5,1201.5" fill="none" stroke="#0000ff" stroke-width="1.7" stroke-linejoin="round"/>
<path d="M771.5,1145.3 L774.5,1142.9 L777.5,1140.5 L780.5,1138.1 L783.5,1135.6 L786.5,1133.0 L789.5,1130.4 L792.5,1127.7 L795.5,1125.0 L798.5,1122.2 L801.5,1119.3 L804.5,1116.4 L807.5,1113.4 L810.5,1110.4 L813.5,1107.3 L816.5,1104.2 L819.5,1101.0 L822.5,1097.7 L825.5,1094.4 L828.5,1091.0 L831.5,1087.5 L834.5,1084.0 L837.5,1080.5 L840.5,1076.8 L843.5,1073.1 L846.5,1069.4 L849.5,1065.6 L852.5,1061.7 L855.5,1057.8 L858.5,1053.8 L861.5,1049.7 L864.5,1045.6 L867.5,1041.4 L870.5,1037.1 L873.5,1032.8 L876.5,1028.4 L879.5,1023.9 L882.5,1019.4 L885.5,1014.8 L888.5,1010.2 L891.5,1005.5 L894.5,1000.7 L897.5,995.8 L900.5,990.9 L903.5,985.9 L906.5,980.9 L909.5,975.7 L912.5,970.6 L915.5,965.3 L918.5,960.0 L921.5,954.6 L924.5,949.1 L927.5,943.6 L930.5,938.0 L933.5,932.3 L936.5,926.5 L939.5,920.7 L942.5,914.8 L945.5,908.9 L948.5,902.8 L951.5,896.7 L954.5,890.5 L957.5,884.3 L960.5,878.0 L963.5,871.7 L966.5,865.3 L969.5,858.9 L972.5,852.5 L975.5,846.1 L978.5,839.7 L981.5,833.3 L984.5,827.0 L987.5,820.7 L990.5,814.5 L993.5,808.4 L996.5,802.3 L999.5,796.4 L1002.5,790.5 L1005.5,784.8 L1008.5,779.2 L1011.5,773.7 L1014.5,768.4 L1017.5,763.2 L1020.5,758.3 L1023.5,753.5 L1026.5,748.9 L1029.5,744.5 L1032.5,740.3 L1035.5,736.4 L1038.5,732.7 L1041.5,729.2 L1044.5,726.0 L1047.5,723.0 L1050.5,720.3 L1053.5,717.8 L1056.5,715.6 L1059.5,713.7 L1062.5,712.0 L1065.5,710.7 L1068.5,709.6 L1071.5,708.7 L1074.5,708.2 L1077.5,708.0 L1080.5,708.1 L1083.5,708.5 L1086.5,709.2 L1089.5,710.2 L1092.5,711.5 L1095.5,713.1 L1098.5,715.0 L1101.5,717.2 L1104.5,719.6 L1107.5,722.3 L1110.5,725.3 L1113.5,728.5 L1116.5,731.9 L1119.5,735.5 L1122.5,739.4 L1125.5,743.5 L1128.5,747.8 L1131.5,752.3 L1134.5,757.0 L1137.5,761.9 L1140.5,767.0 L1143.5,772.2 L1146.5,777.6 L1149.5,783.2 L1152.5,788.9 L1155.5,794.7 L1158.5,800.7 L1161.5,806.8 L1164.5,813.0 L1167.5,819.3 L1170.5,825.8 L1173.5,832.2 L1176.5,838.8 L1179.5,845.4 L1182.5,852.1 L1185.5,858.9 L1188.5,865.6 L1191.5,872.4 L1194.5,879.2 L1197.5,886.0 L1200.5,892.9 L1203.5,899.7 L1206.5,906.4 L1209.5,913.2 L1212.5,919.9 L1215.5,926.6 L1218.5,933.3 L1221.5,940.0 L1224.5,946.6 L1227.5,953.1 L1230.5,959.6 L1233.5,966.1 L1236.5,972.5 L1239.5,978.9 L1242.5,985.2 L1245.5,991.5 L1248.5,997.7 L1251.5,1003.8 L1254.5,1009.9 L1257.5,1015.9 L1260.5,1021.9 L1263.5,1027.7 L1266.5,1033.5 L1269.5,1039.2 L1272.5,1044.9 L1275.5,1050.4 L1278.5,1055.9 L1281.5,1061.2 L1284.5,1066.5 L1287.5,1071.7 L1290.5,1076.8 L1293.5,1081.7 L1296.5,1086.6 L1299.5,1091.4 L1302.5,1096.0 L1305.5,1100.6 L1308.5,1105.0 L1311.5,1109.3 L1314.5,1113.6 L1317.5,1117.7 L1320.5,1121.7 L1323.5,1125.7 L1326.5,1129.5 L1329.5,1133.3 L1332.5,1136.9 L1335.5,1140.5 L1338.5,1144.0 L1341.5,1147.5 L1344.5,1150.8 L1347.5,1154.1 L1350.5,1157.3 L1353.5,1160.4 L1356.5,1163.5 L1359.5,1166.5 L1362.5,1169.5 L1365.5,1172.4 L1368.5,1175.3 L1371.5,1178.1 L1374.5,1180.8 L1377.5,1183.5 L1380.5,1186.2 L1383.5,1188.8 L1386.5,1191.4 L1389.5,1194.0 L1392.5,1196.5 L1395.5,1199.0 L1398.5,1201.5 L1399.0,1201.9" fill="none" stroke="#ff0000" stroke-width="1.7" stroke-linejoin="round"/>
<path d="M771.5,1150.3 L774.5,1146.7 L777.5,1143.0 L780.5,1139.1 L783.5,1135.1 L786.5,1131.0 L789.5,1126.7 L792.5,1122.3 L795.5,1117.7 L798.5,1113.1 L801.5,1108.3 L804.5,1103.5 L807.5,1098.5 L810.5,1093.4 L813.5,1088.3 L816.5,1083.0 L819.5,1077.7 L822.5,1072.3 L825.5,1066.8 L828.5,1061.2 L831.5,1055.6 L834.5,1049.9 L837.5,1044.2 L840.5,1038.4 L843.5,1032.6 L846.5,1026.7 L849.5,1020.8 L852.5,1014.8 L855.5,1008.8 L858.5,1002.9 L861.5,996.8 L864.5,990.8 L867.5,984.8 L870.5,978.7 L873.5,972.7 L876.5,966.7 L879.5,960.6 L882.5,954.6 L885.5,948.6 L888.5,942.6 L891.5,936.7 L894.5,930.7 L897.5,924.8 L900.5,918.9 L903.5,913.0 L906.5,907.1 L909.5,901.2 L912.5,895.4 L915.5,889.6 L918.5,883.8 L921.5,878.0 L924.5,872.3 L927.5,866.6 L930.5,860.9 L933.5,855.2 L936.5,849.6 L939.5,844.0 L942.5,838.4 L945.5,832.8 L948.5,827.3 L951.5,821.8 L954.5,816.4 L957.5,811.0 L960.5,805.6 L963.5,800.3 L966.5,795.0 L969.5,789.9 L972.5,784.8 L975.5,779.8 L978.5,774.8 L981.5,770.0 L984.5,765.3 L987.5,760.8 L990.5,756.3 L993.5,752.0 L996.5,747.9 L999.5,743.9 L1002.5,740.1 L1005.5,736.5 L1008.5,733.0 L1011.5,729.8 L1014.5,726.8 L1017.5,724.0 L1020.5,721.5 L1023.5,719.2 L1026.5,717.2 L1029.5,715.4 L1032.5,713.9 L1035.5,712.7 L1038.5,711.8 L1041.5,711.1 L1044.5,710.7 L1047.5,710.6 L1050.5,710.7 L1053.5,711.1 L1056.5,711.8 L1059.5,712.8 L1062.5,714.1 L1065.5,715.7 L1068.5,717.5 L1071.5,719.7 L1074.5,722.1 L1077.5,724.8 L1080.5,727.7 L1083.5,730.9 L1086.5,734.3 L1089.5,738.0 L1092.5,741.9 L1095.5,746.0 L1098.5,750.3 L1101.5,754.9 L1104.5,759.6 L1107.5,764.5 L1110.5,769.6 L1113.5,774.8 L1116.5,780.2 L1119.5,785.8 L1122.5,791.5 L1125.5,797.4 L1128.5,803.3 L1131.5,809.4 L1134.5,815.6 L1137.5,821.9 L1140.5,828.2 L1143.5,834.7 L1146.5,841.2 L1149.5,847.7 L1152.5,854.2 L1155.5,860.8 L1158.5,867.4 L1161.5,874.0 L1164.5,880.6 L1167.5,887.2 L1170.5,893.7 L1173.5,900.2 L1176.5,906.6 L1179.5,913.0 L1182.5,919.3 L1185.5,925.6 L1188.5,931.8 L1191.5,938.0 L1194.5,944.1 L1197.5,950.1 L1200.5,956.1 L1203.5,962.1 L1206.5,968.0 L1209.5,973.8 L1212.5,979.6 L1215.5,985.3 L1218.5,990.9 L1221.5,996.5 L1224.5,1002.1 L1227.5,1007.6 L1230.5,1013.0 L1233.5,1018.4 L1236.5,1023.7 L1239.5,1028.9 L1242.5,1034.1 L1245.5,1039.2 L1248.5,1044.3 L1251.5,1049.3 L1254.5,1054.2 L1257.5,1059.1 L1260.5,1063.9 L1263.5,1068.6 L1266.5,1073.3 L1269.5,1077.9 L1272.5,1082.5 L1275.5,1087.0 L1278.5,1091.4 L1281.5,1095.7 L1284.5,1100.0 L1287.5,1104.2 L1290.5,1108.4 L1293.5,1112.5 L1296.5,1116.5 L1299.5,1120.4 L1302.5,1124.3 L1305.5,1128.1 L1308.5,1131.8 L1311.5,1135.5 L1314.5,1139.1 L1317.5,1142.6 L1320.5,1146.0 L1323.5,1149.4 L1326.5,1152.7 L1329.5,1155.9 L1332.5,1159.1 L1335.5,1162.2 L1338.5,1165.2 L1341.5,1168.1 L1344.5,1170.9 L1347.5,1173.7 L1350.5,1176.4 L1353.5,1179.0 L1356.5,1181.6 L1359.5,1184.1 L1362.5,1186.5 L1365.5,1188.8 L1368.5,1191.0 L1371.5,1193.2 L1374.5,1195.2 L1377.5,1197.2 L1380.5,1199.1 L1383.5,1201.0 L1386.3,1202.6" fill="none" stroke="#008000" stroke-width="1.7" stroke-linejoin="round"/>
<path d="M771.5,1150.2 L774.5,1147.2 L777.5,1143.9 L780.5,1140.4 L783.5,1136.8 L786.5,1132.9 L789.5,1128.9 L792.5,1124.7 L795.5,1120.3 L798.5,1115.8 L801.5,1111.1 L804.5,1106.2 L807.5,1101.2 L810.5,1096.1 L813.5,1090.9 L816.5,1085.5 L819.5,1080.0 L822.5,1074.4 L825.5,1068.7 L828.5,1062.9 L831.5,1057.1 L834.5,1051.1 L837.5,1045.1 L840.5,1039.0 L843.5,1032.9 L846.5,1026.7 L849.5,1020.4 L852.5,1014.2 L855.5,1007.9 L858.5,1001.5 L861.5,995.2 L864.5,988.8 L867.5,982.4 L870.5,976.1 L873.5,969.7 L876.5,963.4 L879.5,957.1 L882.5,950.8 L885.5,944.5 L888.5,938.3 L891.5,932.1 L894.5,925.9 L897.5,919.8 L900.5,913.7 L903.5,907.6 L906.5,901.6 L909.5,895.6 L912.5,889.6 L915.5,883.6 L918.5,877.7 L921.5,871.8 L924.5,866.0 L927.5,860.1 L930.5,854.3 L933.5,848.6 L936.5,842.8 L939.5,837.2 L942.5,831.5 L945.5,825.9 L948.5,820.3 L951.5,814.7 L954.5,809.2 L957.5,803.7 L960.5,798.3 L963.5,793.0 L966.5,787.7 L969.5,782.6 L972.5,777.5 L975.5,772.5 L978.5,767.7 L981.5,762.9 L984.5,758.3 L987.5,753.9 L990.5,749.5 L993.5,745.4 L996.5,741.4 L999.5,737.6 L1002.5,734.0 L1005.5,730.6 L1008.5,727.3 L1011.5,724.3 L1014.5,721.5 L1017.5,719.0 L1020.5,716.7 L1023.5,714.6 L1026.5,712.8 L1029.5,711.3 L1032.5,710.0 L1035.5,709.0 L1038.5,708.4 L1041.5,708.0 L1044.5,707.8 L1047.5,708.0 L1050.5,708.4 L1053.5,709.2 L1056.5,710.1 L1059.5,711.4 L1062.5,712.9 L1065.5,714.6 L1068.5,716.6 L1071.5,718.8 L1074.5,721.3 L1077.5,724.1 L1080.5,727.0 L1083.5,730.2 L1086.5,733.6 L1089.5,737.3 L1092.5,741.1 L1095.5,745.2 L1098.5,749.4 L1101.5,753.9 L1104.5,758.5 L1107.5,763.3 L1110.5,768.3 L1113.5,773.5 L1116.5,778.8 L1119.5,784.3 L1122.5,790.0 L1125.5,795.8 L1128.5,801.8 L1131.5,807.9 L1134.5,814.1 L1137.5,820.4 L1140.5,826.8 L1143.5,833.2 L1146.5,839.8 L1149.5,846.4 L1152.5,853.0 L1155.5,859.7 L1158.5,866.3 L1161.5,873.0 L1164.5,879.6 L1167.5,886.2 L1170.5,892.8 L1173.5,899.3 L1176.5,905.8 L1179.5,912.1 L1182.5,918.4 L1185.5,924.7 L1188.5,930.9 L1191.5,937.0 L1194.5,943.1 L1197.5,949.1 L1200.5,955.0 L1203.5,960.9 L1206.5,966.7 L1209.5,972.5 L1212.5,978.2 L1215.5,983.9 L1218.5,989.5 L1221.5,995.1 L1224.5,1000.7 L1227.5,1006.1 L1230.5,1011.6 L1233.5,1017.0 L1236.5,1022.3 L1239.5,1027.6 L1242.5,1032.9 L1245.5,1038.1 L1248.5,1043.3 L1251.5,1048.5 L1254.5,1053.6 L1257.5,1058.7 L1260.5,1063.8 L1263.5,1068.8 L1266.5,1073.8 L1269.5,1078.8 L1272.5,1083.7 L1275.5,1088.6 L1278.5,1093.5 L1281.5,1098.4 L1284.5,1103.2 L1287.5,1108.0 L1290.5,1112.7 L1293.5,1117.4 L1296.5,1122.0 L1299.5,1126.5 L1302.5,1131.0 L1305.5,1135.3 L1308.5,1139.6 L1311.5,1143.7 L1314.5,1147.7 L1317.5,1151.6 L1320.5,1155.4 L1323.5,1159.0 L1326.5,1162.5 L1329.5,1165.9 L1332.5,1169.0 L1335.5,1172.1 L1338.5,1175.0 L1341.5,1177.9 L1344.5,1180.6 L1347.5,1183.3 L1350.5,1185.9 L1353.5,1188.5 L1356.5,1191.1 L1359.5,1193.6 L1362.5,1196.2 L1365.5,1198.7 L1368.5,1201.3 L1369.7,1202.4" fill="none" stroke="#ff00ff" stroke-width="1.7" stroke-linejoin="round"/>
<line x1="43.2" y1="523.0" x2="666.4" y2="523.0" stroke="#444" stroke-width="2"/>
<line x1="43.9" y1="523.0" x2="43.9" y2="531.2" stroke="#777" stroke-width="1.2"/>
<line x1="199.9" y1="523.0" x2="199.9" y2="531.2" stroke="#777" stroke-width="1.2"/>
<line x1="355.8" y1="523.0" x2="355.8" y2="531.2" stroke="#777" stroke-width="1.2"/>
<line x1="510.8" y1="523.0" x2="510.8" y2="531.2" stroke="#777" stroke-width="1.2"/>
<line x1="665.7" y1="523.0" x2="665.7" y2="531.2" stroke="#777" stroke-width="1.2"/>
<text transform="translate(43.9,566.1) scale(1,1.06)" font-size="29.5" text-anchor="middle">403</text>
<text transform="translate(199.9,566.1) scale(1,1.06)" font-size="29.5" text-anchor="middle">401</text>
<text transform="translate(355.8,566.1) scale(1,1.06)" font-size="29.5" text-anchor="middle">399</text>
<text transform="translate(510.8,566.1) scale(1,1.06)" font-size="29.5" text-anchor="middle">397</text>
<text transform="translate(665.7,566.1) scale(1,1.06)" font-size="29.5" text-anchor="middle">395</text>
<text x="355.5" y="606.7" font-size="29" font-weight="bold" text-anchor="middle">Binding energy (eV)</text>
<line x1="824.7" y1="523.3" x2="1448" y2="523.3" stroke="#444" stroke-width="2"/>
<line x1="825.4" y1="523.3" x2="825.4" y2="531.5" stroke="#777" stroke-width="1.2"/>
<line x1="980.3" y1="523.3" x2="980.3" y2="531.5" stroke="#777" stroke-width="1.2"/>
<line x1="1136" y1="523.3" x2="1136" y2="531.5" stroke="#777" stroke-width="1.2"/>
<line x1="1292" y1="523.3" x2="1292" y2="531.5" stroke="#777" stroke-width="1.2"/>
<line x1="1447.3" y1="523.3" x2="1447.3" y2="531.5" stroke="#777" stroke-width="1.2"/>
<text transform="translate(825.4,566.1) scale(1,1.06)" font-size="29.5" text-anchor="middle">403</text>
<text transform="translate(980.3,566.1) scale(1,1.06)" font-size="29.5" text-anchor="middle">401</text>
<text transform="translate(1136,566.1) scale(1,1.06)" font-size="29.5" text-anchor="middle">399</text>
<text transform="translate(1292,566.1) scale(1,1.06)" font-size="29.5" text-anchor="middle">397</text>
<text transform="translate(1447.3,566.1) scale(1,1.06)" font-size="29.5" text-anchor="middle">395</text>
<text x="1136.8" y="606.7" font-size="29" font-weight="bold" text-anchor="middle">Binding energy (eV)</text>
<rect x="0" y="1204.3" width="723.2" height="3.7" fill="#4a4a4a"/>
<rect x="16.9" y="1203.5" width="1.4" height="3" fill="#222"/>
<rect x="83.5" y="1203.5" width="1.4" height="3" fill="#222"/>
<rect x="150.2" y="1203.5" width="1.4" height="3" fill="#222"/>
<rect x="216.8" y="1203.5" width="1.4" height="3" fill="#222"/>
<rect x="283.4" y="1203.5" width="1.4" height="3" fill="#222"/>
<rect x="350.1" y="1203.5" width="1.4" height="3" fill="#222"/>
<rect x="416.7" y="1203.5" width="1.4" height="3" fill="#222"/>
<rect x="483.3" y="1203.5" width="1.4" height="3" fill="#222"/>
<rect x="549.9" y="1203.5" width="1.4" height="3" fill="#222"/>
<rect x="616.6" y="1203.5" width="1.4" height="3" fill="#222"/>
<rect x="683.2" y="1203.5" width="1.4" height="3" fill="#222"/>
<text transform="translate(150.8,1242.8) scale(1.01,1.045)" font-size="29.5" text-anchor="middle">2000</text>
<text transform="translate(417.5,1242.8) scale(1.01,1.045)" font-size="29.5" text-anchor="middle">1800</text>
<text transform="translate(684.2,1242.8) scale(1.01,1.045)" font-size="29.5" text-anchor="middle">1600</text>
<rect x="771.5" y="1204" width="724" height="3.6" fill="#4a4a4a"/>
<rect x="788.9" y="1203.3" width="1.4" height="3" fill="#222"/>
<rect x="850.3" y="1203.3" width="1.4" height="3" fill="#222"/>
<rect x="911.7" y="1203.3" width="1.4" height="3" fill="#222"/>
<rect x="973.1" y="1203.3" width="1.4" height="3" fill="#222"/>
<rect x="1034.5" y="1203.3" width="1.4" height="3" fill="#222"/>
<rect x="1095.9" y="1203.3" width="1.4" height="3" fill="#222"/>
<rect x="1157.3" y="1203.3" width="1.4" height="3" fill="#222"/>
<rect x="1218.7" y="1203.3" width="1.4" height="3" fill="#222"/>
<rect x="1280.1" y="1203.3" width="1.4" height="3" fill="#222"/>
<rect x="1341.5" y="1203.3" width="1.4" height="3" fill="#222"/>
<rect x="1402.9" y="1203.3" width="1.4" height="3" fill="#222"/>
<rect x="1464.3" y="1203.3" width="1.4" height="3" fill="#222"/>
<text transform="translate(851.3,1243.0) scale(1.01,1.045)" font-size="29.5" text-anchor="middle">2060</text>
<text transform="translate(1096.9,1243.0) scale(1.01,1.045)" font-size="29.5" text-anchor="middle">2040</text>
<text transform="translate(1342.4,1243.0) scale(1.01,1.045)" font-size="29.5" text-anchor="middle">2020</text>
<text x="361.8" y="1286.4" font-size="29.5" font-weight="bold" text-anchor="middle">Wavenumber (cm<tspan font-size="20" dy="-12.2">−1</tspan><tspan dy="12.2" dx="2">)</tspan></text>
<text x="1134.2" y="1286.4" font-size="29.5" font-weight="bold" text-anchor="middle">Wavenumber (cm<tspan font-size="20" dy="-12.2">−1</tspan><tspan dy="12.2" dx="2">)</tspan></text>
<text x="140" y="733.7" font-size="30">Terminal CO</text>
<text x="399.3" y="787.5" font-size="29">PBLG amide</text>
<text x="341.5" y="887.8" font-size="29.5">PBLG ester</text>
<text x="244.7" y="1022.6" font-size="29.5">Bridging CO</text>
<line x1="163.3" y1="752.3" x2="84.8" y2="841.4" stroke="#000" stroke-width="1.6"/>
<line x1="325" y1="1042" x2="307.5" y2="1124.2" stroke="#000" stroke-width="1.6"/>
<line x1="325" y1="1042" x2="397.8" y2="1142.3" stroke="#000" stroke-width="1.6"/>
<line x1="462.4" y1="905.6" x2="506.2" y2="997.3" stroke="#000" stroke-width="1.6"/>
<line x1="542.7" y1="793.5" x2="610.4" y2="947.6" stroke="#000" stroke-width="1.6"/>
<line x1="1285" y1="702.6" x2="1333.4" y2="702.6" stroke="#ff00ff" stroke-width="2"/>
<text x="1347" y="711.5" font-size="25">1 eq.</text>
<line x1="1285" y1="739.6" x2="1333.4" y2="739.6" stroke="#008000" stroke-width="2"/>
<text x="1347" y="748.4" font-size="25">0.5 eq.</text>
<line x1="1285" y1="772.9" x2="1333.4" y2="772.9" stroke="#ff0000" stroke-width="2"/>
<text x="1347" y="782.1" font-size="25">0.05 eq.</text>
<line x1="1285" y1="808.2" x2="1333.4" y2="808.2" stroke="#0000ff" stroke-width="2"/>
<text x="1347" y="816.6" font-size="25">0 eq.</text>
<text x="0" y="22.8" font-size="42" font-weight="bold">a</text>
<text x="-0.5" y="308.9" font-size="42" font-weight="bold">b</text>
<text x="771.5" y="22.6" font-size="42" font-weight="bold">c</text>
<text x="771.5" y="309" font-size="42" font-weight="bold">d</text>
<text x="0" y="704.2" font-size="42" font-weight="bold">e</text>
<text x="771" y="703.2" font-size="42" font-weight="bold">f</text></svg>
</body></html>
